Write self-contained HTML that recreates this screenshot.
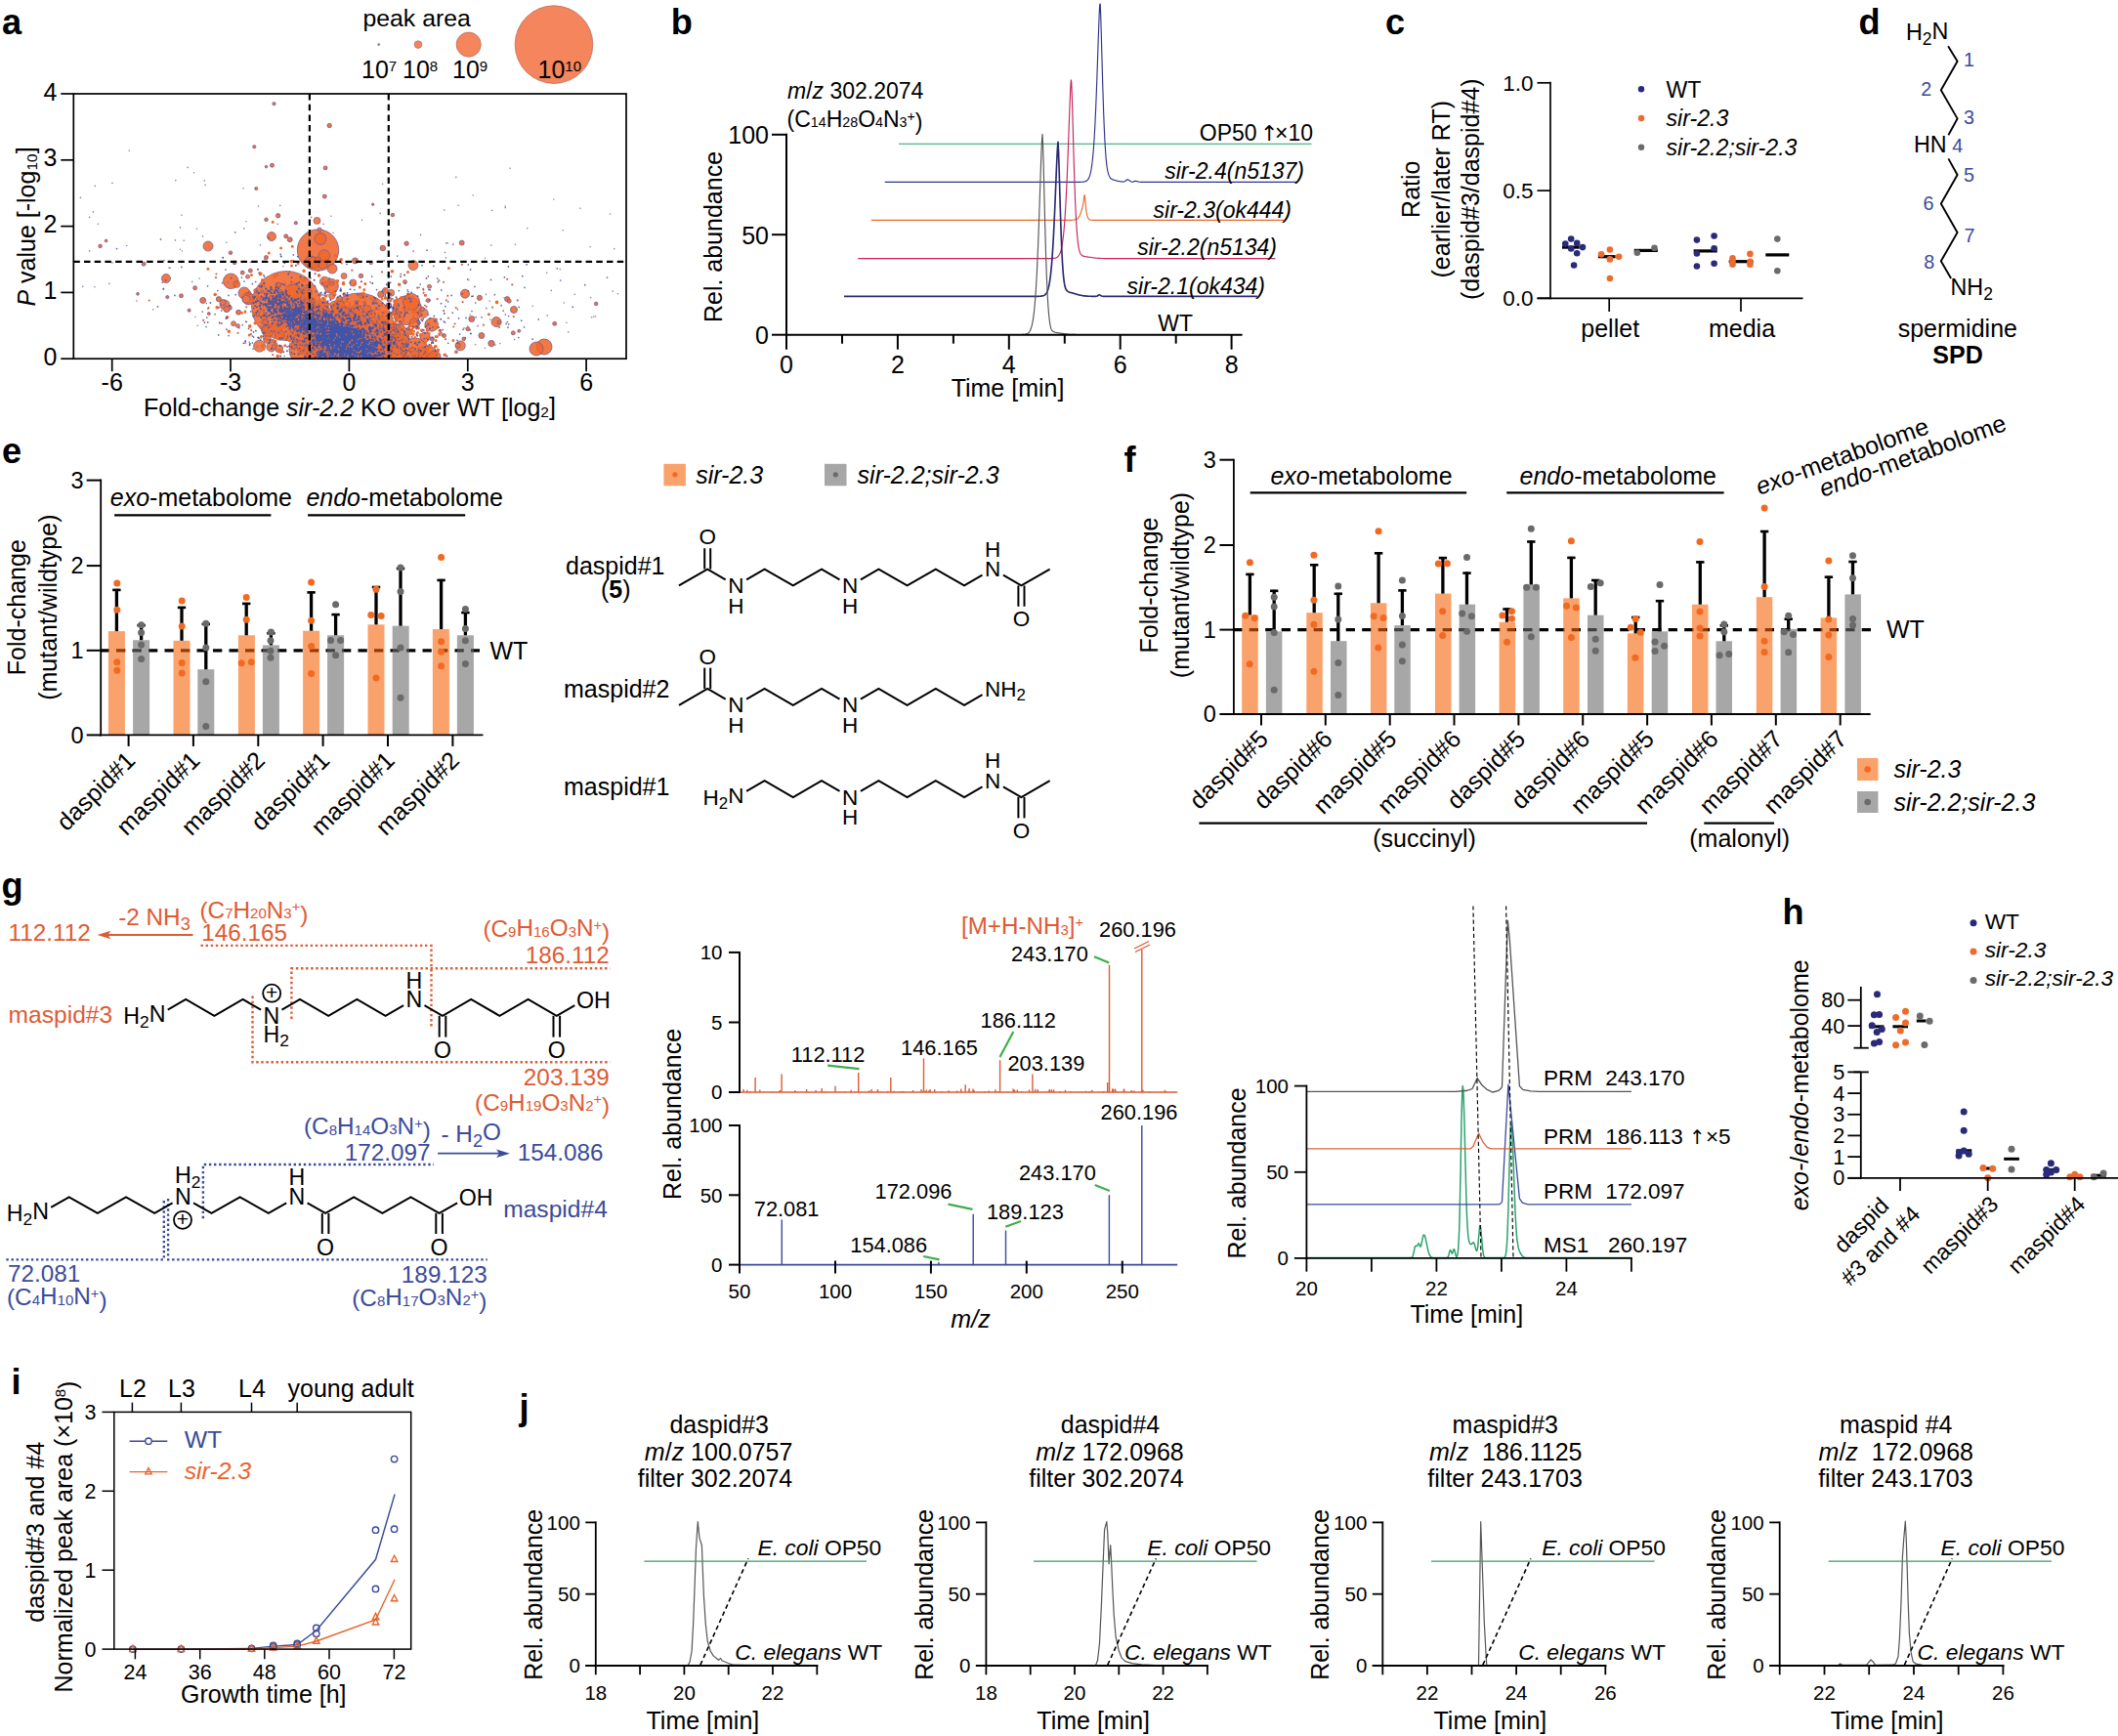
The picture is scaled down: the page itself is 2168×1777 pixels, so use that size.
<!DOCTYPE html>
<html><head><meta charset="utf-8"><title>figure</title>
<style>html,body{margin:0;padding:0;background:#fff}svg{display:block}text{font-family:"Liberation Sans",sans-serif}</style></head>
<body>
<svg width="2168" height="1777" viewBox="0 0 2168 1777">
<text x="2.0" y="34.6" font-size="36.2" font-weight="bold">a</text>
<text x="371.5" y="27.0" font-size="24.8">peak area</text>
<circle cx="387.7" cy="45.6" r="1.3" fill="#8A7D88"/>
<circle cx="428.0" cy="45.6" r="3.8" fill="#F4855C" stroke="#B9705F" stroke-width="0.8"/>
<circle cx="479.7" cy="45.6" r="12.6" fill="#F4855C" stroke="#B9705F" stroke-width="0.8"/>
<circle cx="567.0" cy="45.6" r="39.8" fill="#F4855C" stroke="#B9705F" stroke-width="0.8"/>
<text x="370.0" y="79.5" font-size="25.0">10<tspan font-size="60%" dy="-0.42em">7</tspan><tspan dy="0.42em">&#8203;</tspan></text>
<text x="412.0" y="79.5" font-size="25.0">10<tspan font-size="60%" dy="-0.42em">8</tspan><tspan dy="0.42em">&#8203;</tspan></text>
<text x="463.0" y="79.5" font-size="25.0">10<tspan font-size="60%" dy="-0.42em">9</tspan><tspan dy="0.42em">&#8203;</tspan></text>
<text x="550.5" y="79.5" font-size="25.0">10<tspan font-size="60%" dy="-0.42em">10</tspan><tspan dy="0.42em">&#8203;</tspan></text>
<clipPath id="ca"><rect x="75.3" y="96" width="565.7" height="271.2"/></clipPath>
<g clip-path="url(#ca)">
<circle cx="293.0" cy="313.0" r="35.5" fill="#F0672B" stroke="#7A5A8A" stroke-width="0.8" fill-opacity="0.88"/>
<circle cx="367.3" cy="336.0" r="36" fill="#F0672B" stroke="#7A5A8A" stroke-width="0.8" fill-opacity="0.88"/>
<circle cx="325.5" cy="256.0" r="21.2" fill="#F0672B" stroke="#7A5A8A" stroke-width="0.8" fill-opacity="0.88"/>
<circle cx="416.9" cy="317.6" r="15" fill="#F0672B" stroke="#7A5A8A" stroke-width="0.8" fill-opacity="0.88"/>
<circle cx="335.0" cy="350.0" r="26" fill="#F0672B" stroke="#7A5A8A" stroke-width="0.8" fill-opacity="0.88"/>
<circle cx="312.0" cy="358.0" r="16" fill="#F0672B" stroke="#7A5A8A" stroke-width="0.8" fill-opacity="0.88"/>
<circle cx="395.0" cy="358.0" r="20" fill="#F0672B" stroke="#7A5A8A" stroke-width="0.8" fill-opacity="0.88"/>
<circle cx="425.0" cy="360.0" r="14" fill="#F0672B" stroke="#7A5A8A" stroke-width="0.8" fill-opacity="0.88"/>
<circle cx="438.0" cy="364.0" r="10" fill="#F0672B" stroke="#7A5A8A" stroke-width="0.8" fill-opacity="0.88"/>
<circle cx="405.0" cy="345.0" r="14" fill="#F0672B" stroke="#7A5A8A" stroke-width="0.8" fill-opacity="0.88"/>
<circle cx="322.0" cy="335.0" r="20" fill="#F0672B" stroke="#7A5A8A" stroke-width="0.8" fill-opacity="0.88"/>
<circle cx="557.0" cy="355.0" r="8" fill="#F0672B" stroke="#7A5A8A" stroke-width="0.8" fill-opacity="0.88"/>
<circle cx="549.0" cy="357.0" r="7" fill="#F0672B" stroke="#7A5A8A" stroke-width="0.8" fill-opacity="0.88"/>
<circle cx="213.0" cy="252.0" r="5" fill="#F0672B" stroke="#7A5A8A" stroke-width="0.8" fill-opacity="0.88"/>
<circle cx="170.0" cy="285.0" r="4.5" fill="#F0672B" stroke="#7A5A8A" stroke-width="0.8" fill-opacity="0.88"/>
<circle cx="236.3" cy="287.8" r="7.8" fill="#F0672B" stroke="#7A5A8A" stroke-width="0.8" fill-opacity="0.88"/>
<circle cx="339.0" cy="292.8" r="7.4" fill="#F0672B" stroke="#7A5A8A" stroke-width="0.8" fill-opacity="0.88"/>
<circle cx="421.0" cy="309.0" r="8.5" fill="#F0672B" stroke="#7A5A8A" stroke-width="0.8" fill-opacity="0.88"/>
<circle cx="441.7" cy="332.4" r="6.8" fill="#F0672B" stroke="#7A5A8A" stroke-width="0.8" fill-opacity="0.88"/>
<circle cx="476.0" cy="300.7" r="4.5" fill="#F0672B" stroke="#7A5A8A" stroke-width="0.8" fill-opacity="0.88"/>
<circle cx="508.0" cy="329.5" r="5" fill="#F0672B" stroke="#7A5A8A" stroke-width="0.8" fill-opacity="0.88"/>
<circle cx="526.0" cy="317.0" r="3.5" fill="#F0672B" stroke="#7A5A8A" stroke-width="0.8" fill-opacity="0.88"/>
<circle cx="278.0" cy="242.0" r="4.5" fill="#F0672B" stroke="#7A5A8A" stroke-width="0.8" fill-opacity="0.88"/>
<circle cx="328.0" cy="244.5" r="6" fill="#F0672B" stroke="#7A5A8A" stroke-width="0.8" fill-opacity="0.88"/>
<circle cx="300.0" cy="300.0" r="9" fill="#F0672B" stroke="#7A5A8A" stroke-width="0.8" fill-opacity="0.88"/>
<circle cx="250.0" cy="300.0" r="6" fill="#F0672B" stroke="#7A5A8A" stroke-width="0.8" fill-opacity="0.88"/>
<circle cx="230.0" cy="312.0" r="5" fill="#F0672B" stroke="#7A5A8A" stroke-width="0.8" fill-opacity="0.88"/>
<circle cx="435.0" cy="345.0" r="5" fill="#F0672B" stroke="#7A5A8A" stroke-width="0.8" fill-opacity="0.88"/>
<circle cx="445.0" cy="365.0" r="6" fill="#F0672B" stroke="#7A5A8A" stroke-width="0.8" fill-opacity="0.88"/>
<circle cx="340.0" cy="275.0" r="5" fill="#F0672B" stroke="#7A5A8A" stroke-width="0.8" fill-opacity="0.88"/>
<circle cx="318.0" cy="268.0" r="6" fill="#F0672B" stroke="#7A5A8A" stroke-width="0.8" fill-opacity="0.88"/>
<circle cx="330.0" cy="270.0" r="5" fill="#F0672B" stroke="#7A5A8A" stroke-width="0.8" fill-opacity="0.88"/>
<circle cx="329.8" cy="340.6" r="2" fill="#F0672B" stroke="#7A5A8A" stroke-width="0.7" fill-opacity="0.85"/>
<circle cx="349.8" cy="350.4" r="6" fill="#F0672B" stroke="#7A5A8A" stroke-width="0.7" fill-opacity="0.85"/>
<circle cx="345.4" cy="349.7" r="2.5" fill="#F0672B" stroke="#7A5A8A" stroke-width="0.7" fill-opacity="0.85"/>
<circle cx="380.6" cy="346.0" r="2" fill="#F0672B" stroke="#7A5A8A" stroke-width="0.7" fill-opacity="0.85"/>
<circle cx="400.6" cy="350.1" r="1.5" fill="#F0672B" stroke="#7A5A8A" stroke-width="0.7" fill-opacity="0.85"/>
<circle cx="301.6" cy="326.9" r="1.5" fill="#F0672B" stroke="#7A5A8A" stroke-width="0.7" fill-opacity="0.85"/>
<circle cx="318.9" cy="353.5" r="6" fill="#F0672B" stroke="#7A5A8A" stroke-width="0.7" fill-opacity="0.85"/>
<circle cx="369.4" cy="345.6" r="2" fill="#F0672B" stroke="#7A5A8A" stroke-width="0.7" fill-opacity="0.85"/>
<circle cx="387.4" cy="337.9" r="2" fill="#F0672B" stroke="#7A5A8A" stroke-width="0.7" fill-opacity="0.85"/>
<circle cx="325.9" cy="362.4" r="2.5" fill="#F0672B" stroke="#7A5A8A" stroke-width="0.7" fill-opacity="0.85"/>
<circle cx="286.4" cy="343.0" r="5" fill="#F0672B" stroke="#7A5A8A" stroke-width="0.7" fill-opacity="0.85"/>
<circle cx="299.2" cy="338.9" r="2" fill="#F0672B" stroke="#7A5A8A" stroke-width="0.7" fill-opacity="0.85"/>
<circle cx="330.7" cy="334.3" r="6" fill="#F0672B" stroke="#7A5A8A" stroke-width="0.7" fill-opacity="0.85"/>
<circle cx="300.4" cy="355.4" r="2" fill="#F0672B" stroke="#7A5A8A" stroke-width="0.7" fill-opacity="0.85"/>
<circle cx="375.4" cy="341.0" r="2" fill="#F0672B" stroke="#7A5A8A" stroke-width="0.7" fill-opacity="0.85"/>
<circle cx="383.8" cy="351.3" r="2" fill="#F0672B" stroke="#7A5A8A" stroke-width="0.7" fill-opacity="0.85"/>
<circle cx="346.5" cy="314.8" r="3.5" fill="#F0672B" stroke="#7A5A8A" stroke-width="0.7" fill-opacity="0.85"/>
<circle cx="319.1" cy="330.0" r="5" fill="#F0672B" stroke="#7A5A8A" stroke-width="0.7" fill-opacity="0.85"/>
<circle cx="359.1" cy="360.3" r="2" fill="#F0672B" stroke="#7A5A8A" stroke-width="0.7" fill-opacity="0.85"/>
<circle cx="405.4" cy="345.6" r="5" fill="#F0672B" stroke="#7A5A8A" stroke-width="0.7" fill-opacity="0.85"/>
<circle cx="331.7" cy="324.1" r="1.5" fill="#F0672B" stroke="#7A5A8A" stroke-width="0.7" fill-opacity="0.85"/>
<circle cx="380.1" cy="354.5" r="5" fill="#F0672B" stroke="#7A5A8A" stroke-width="0.7" fill-opacity="0.85"/>
<circle cx="412.1" cy="344.1" r="2.5" fill="#F0672B" stroke="#7A5A8A" stroke-width="0.7" fill-opacity="0.85"/>
<circle cx="261.7" cy="297.5" r="2" fill="#F0672B" stroke="#7A5A8A" stroke-width="0.7" fill-opacity="0.85"/>
<circle cx="287.9" cy="326.7" r="4" fill="#F0672B" stroke="#7A5A8A" stroke-width="0.7" fill-opacity="0.85"/>
<circle cx="364.8" cy="344.5" r="3.5" fill="#F0672B" stroke="#7A5A8A" stroke-width="0.7" fill-opacity="0.85"/>
<circle cx="323.4" cy="330.6" r="2" fill="#F0672B" stroke="#7A5A8A" stroke-width="0.7" fill-opacity="0.85"/>
<circle cx="355.7" cy="342.8" r="5" fill="#F0672B" stroke="#7A5A8A" stroke-width="0.7" fill-opacity="0.85"/>
<circle cx="355.0" cy="346.3" r="2" fill="#F0672B" stroke="#7A5A8A" stroke-width="0.7" fill-opacity="0.85"/>
<circle cx="303.9" cy="337.1" r="2" fill="#F0672B" stroke="#7A5A8A" stroke-width="0.7" fill-opacity="0.85"/>
<circle cx="321.7" cy="316.2" r="1.5" fill="#F0672B" stroke="#7A5A8A" stroke-width="0.7" fill-opacity="0.85"/>
<circle cx="254.5" cy="305.8" r="6" fill="#F0672B" stroke="#7A5A8A" stroke-width="0.7" fill-opacity="0.85"/>
<circle cx="306.2" cy="341.4" r="4" fill="#F0672B" stroke="#7A5A8A" stroke-width="0.7" fill-opacity="0.85"/>
<circle cx="356.6" cy="361.8" r="2" fill="#F0672B" stroke="#7A5A8A" stroke-width="0.7" fill-opacity="0.85"/>
<circle cx="387.7" cy="335.0" r="2" fill="#F0672B" stroke="#7A5A8A" stroke-width="0.7" fill-opacity="0.85"/>
<circle cx="235.5" cy="315.1" r="2" fill="#F0672B" stroke="#7A5A8A" stroke-width="0.7" fill-opacity="0.85"/>
<circle cx="384.5" cy="330.7" r="3" fill="#F0672B" stroke="#7A5A8A" stroke-width="0.7" fill-opacity="0.85"/>
<circle cx="399.3" cy="353.2" r="2" fill="#F0672B" stroke="#7A5A8A" stroke-width="0.7" fill-opacity="0.85"/>
<circle cx="423.0" cy="271.6" r="5" fill="#F0672B" stroke="#7A5A8A" stroke-width="0.7" fill-opacity="0.85"/>
<circle cx="331.8" cy="339.9" r="3" fill="#F0672B" stroke="#7A5A8A" stroke-width="0.7" fill-opacity="0.85"/>
<circle cx="273.5" cy="341.4" r="2.5" fill="#F0672B" stroke="#7A5A8A" stroke-width="0.7" fill-opacity="0.85"/>
<circle cx="393.2" cy="353.3" r="6" fill="#F0672B" stroke="#7A5A8A" stroke-width="0.7" fill-opacity="0.85"/>
<circle cx="405.5" cy="334.9" r="2" fill="#F0672B" stroke="#7A5A8A" stroke-width="0.7" fill-opacity="0.85"/>
<circle cx="329.7" cy="335.6" r="2" fill="#F0672B" stroke="#7A5A8A" stroke-width="0.7" fill-opacity="0.85"/>
<circle cx="321.7" cy="338.3" r="6" fill="#F0672B" stroke="#7A5A8A" stroke-width="0.7" fill-opacity="0.85"/>
<circle cx="326.0" cy="333.3" r="2.5" fill="#F0672B" stroke="#7A5A8A" stroke-width="0.7" fill-opacity="0.85"/>
<circle cx="369.6" cy="302.6" r="2.5" fill="#F0672B" stroke="#7A5A8A" stroke-width="0.7" fill-opacity="0.85"/>
<circle cx="357.3" cy="325.8" r="1.5" fill="#F0672B" stroke="#7A5A8A" stroke-width="0.7" fill-opacity="0.85"/>
<circle cx="353.8" cy="326.1" r="3.5" fill="#F0672B" stroke="#7A5A8A" stroke-width="0.7" fill-opacity="0.85"/>
<circle cx="242.3" cy="291.0" r="3.5" fill="#F0672B" stroke="#7A5A8A" stroke-width="0.7" fill-opacity="0.85"/>
<circle cx="359.3" cy="358.8" r="3.5" fill="#F0672B" stroke="#7A5A8A" stroke-width="0.7" fill-opacity="0.85"/>
<circle cx="358.8" cy="317.2" r="1.5" fill="#F0672B" stroke="#7A5A8A" stroke-width="0.7" fill-opacity="0.85"/>
<circle cx="277.0" cy="333.3" r="2" fill="#F0672B" stroke="#7A5A8A" stroke-width="0.7" fill-opacity="0.85"/>
<circle cx="352.6" cy="350.2" r="2.5" fill="#F0672B" stroke="#7A5A8A" stroke-width="0.7" fill-opacity="0.85"/>
<circle cx="313.6" cy="349.5" r="3.5" fill="#F0672B" stroke="#7A5A8A" stroke-width="0.7" fill-opacity="0.85"/>
<circle cx="433.2" cy="320.5" r="5" fill="#F0672B" stroke="#7A5A8A" stroke-width="0.7" fill-opacity="0.85"/>
<circle cx="253.5" cy="283.2" r="2" fill="#F0672B" stroke="#7A5A8A" stroke-width="0.7" fill-opacity="0.85"/>
<circle cx="351.7" cy="365.4" r="5" fill="#F0672B" stroke="#7A5A8A" stroke-width="0.7" fill-opacity="0.85"/>
<circle cx="349.9" cy="345.0" r="5" fill="#F0672B" stroke="#7A5A8A" stroke-width="0.7" fill-opacity="0.85"/>
<circle cx="318.5" cy="329.3" r="2" fill="#F0672B" stroke="#7A5A8A" stroke-width="0.7" fill-opacity="0.85"/>
<circle cx="420.3" cy="358.2" r="2" fill="#F0672B" stroke="#7A5A8A" stroke-width="0.7" fill-opacity="0.85"/>
<circle cx="239.0" cy="331.2" r="2.5" fill="#F0672B" stroke="#7A5A8A" stroke-width="0.7" fill-opacity="0.85"/>
<circle cx="355.3" cy="344.2" r="3" fill="#F0672B" stroke="#7A5A8A" stroke-width="0.7" fill-opacity="0.85"/>
<circle cx="265.6" cy="354.2" r="6" fill="#F0672B" stroke="#7A5A8A" stroke-width="0.7" fill-opacity="0.85"/>
<circle cx="320.6" cy="343.5" r="3.5" fill="#F0672B" stroke="#7A5A8A" stroke-width="0.7" fill-opacity="0.85"/>
<circle cx="393.7" cy="334.3" r="6" fill="#F0672B" stroke="#7A5A8A" stroke-width="0.7" fill-opacity="0.85"/>
<circle cx="253.9" cy="305.6" r="6" fill="#F0672B" stroke="#7A5A8A" stroke-width="0.7" fill-opacity="0.85"/>
<circle cx="372.0" cy="330.8" r="2" fill="#F0672B" stroke="#7A5A8A" stroke-width="0.7" fill-opacity="0.85"/>
<circle cx="281.5" cy="321.8" r="2" fill="#F0672B" stroke="#7A5A8A" stroke-width="0.7" fill-opacity="0.85"/>
<circle cx="270.7" cy="337.0" r="3.5" fill="#F0672B" stroke="#7A5A8A" stroke-width="0.7" fill-opacity="0.85"/>
<circle cx="318.6" cy="317.6" r="2" fill="#F0672B" stroke="#7A5A8A" stroke-width="0.7" fill-opacity="0.85"/>
<circle cx="352.5" cy="358.3" r="1.5" fill="#F0672B" stroke="#7A5A8A" stroke-width="0.7" fill-opacity="0.85"/>
<circle cx="348.6" cy="321.2" r="2" fill="#F0672B" stroke="#7A5A8A" stroke-width="0.7" fill-opacity="0.85"/>
<circle cx="283.8" cy="333.7" r="6" fill="#F0672B" stroke="#7A5A8A" stroke-width="0.7" fill-opacity="0.85"/>
<circle cx="352.4" cy="337.6" r="5" fill="#F0672B" stroke="#7A5A8A" stroke-width="0.7" fill-opacity="0.85"/>
<circle cx="307.7" cy="354.9" r="3" fill="#F0672B" stroke="#7A5A8A" stroke-width="0.7" fill-opacity="0.85"/>
<circle cx="424.4" cy="330.5" r="5" fill="#F0672B" stroke="#7A5A8A" stroke-width="0.7" fill-opacity="0.85"/>
<circle cx="356.0" cy="352.5" r="2" fill="#F0672B" stroke="#7A5A8A" stroke-width="0.7" fill-opacity="0.85"/>
<circle cx="318.9" cy="329.1" r="3" fill="#F0672B" stroke="#7A5A8A" stroke-width="0.7" fill-opacity="0.85"/>
<circle cx="361.3" cy="289.5" r="3.5" fill="#F0672B" stroke="#7A5A8A" stroke-width="0.7" fill-opacity="0.85"/>
<circle cx="398.6" cy="306.8" r="2.5" fill="#F0672B" stroke="#7A5A8A" stroke-width="0.7" fill-opacity="0.85"/>
<circle cx="340.8" cy="344.5" r="2" fill="#F0672B" stroke="#7A5A8A" stroke-width="0.7" fill-opacity="0.85"/>
<circle cx="425.2" cy="362.7" r="4" fill="#F0672B" stroke="#7A5A8A" stroke-width="0.7" fill-opacity="0.85"/>
<circle cx="386.4" cy="365.8" r="3.5" fill="#F0672B" stroke="#7A5A8A" stroke-width="0.7" fill-opacity="0.85"/>
<circle cx="311.5" cy="312.6" r="6" fill="#F0672B" stroke="#7A5A8A" stroke-width="0.7" fill-opacity="0.85"/>
<circle cx="274.2" cy="338.9" r="6" fill="#F0672B" stroke="#7A5A8A" stroke-width="0.7" fill-opacity="0.85"/>
<circle cx="303.3" cy="334.4" r="2.5" fill="#F0672B" stroke="#7A5A8A" stroke-width="0.7" fill-opacity="0.85"/>
<circle cx="361.8" cy="364.1" r="1.5" fill="#F0672B" stroke="#7A5A8A" stroke-width="0.7" fill-opacity="0.85"/>
<circle cx="364.6" cy="354.0" r="4" fill="#F0672B" stroke="#7A5A8A" stroke-width="0.7" fill-opacity="0.85"/>
<circle cx="380.3" cy="321.8" r="4" fill="#F0672B" stroke="#7A5A8A" stroke-width="0.7" fill-opacity="0.85"/>
<circle cx="400.2" cy="299.7" r="3.5" fill="#F0672B" stroke="#7A5A8A" stroke-width="0.7" fill-opacity="0.85"/>
<circle cx="354.2" cy="359.4" r="4" fill="#F0672B" stroke="#7A5A8A" stroke-width="0.7" fill-opacity="0.85"/>
<circle cx="369.1" cy="349.2" r="2" fill="#F0672B" stroke="#7A5A8A" stroke-width="0.7" fill-opacity="0.85"/>
<circle cx="347.2" cy="348.7" r="2" fill="#F0672B" stroke="#7A5A8A" stroke-width="0.7" fill-opacity="0.85"/>
<circle cx="339.2" cy="348.2" r="6" fill="#F0672B" stroke="#7A5A8A" stroke-width="0.7" fill-opacity="0.85"/>
<circle cx="255.2" cy="299.6" r="1.5" fill="#F0672B" stroke="#7A5A8A" stroke-width="0.7" fill-opacity="0.85"/>
<circle cx="308.8" cy="360.3" r="2" fill="#F0672B" stroke="#7A5A8A" stroke-width="0.7" fill-opacity="0.85"/>
<circle cx="339.1" cy="336.5" r="3" fill="#F0672B" stroke="#7A5A8A" stroke-width="0.7" fill-opacity="0.85"/>
<circle cx="311.6" cy="353.7" r="2" fill="#F0672B" stroke="#7A5A8A" stroke-width="0.7" fill-opacity="0.85"/>
<circle cx="330.9" cy="289.4" r="1.5" fill="#F0672B" stroke="#7A5A8A" stroke-width="0.7" fill-opacity="0.85"/>
<circle cx="413.2" cy="361.4" r="2.5" fill="#F0672B" stroke="#7A5A8A" stroke-width="0.7" fill-opacity="0.85"/>
<circle cx="307.9" cy="355.4" r="4" fill="#F0672B" stroke="#7A5A8A" stroke-width="0.7" fill-opacity="0.85"/>
<circle cx="310.2" cy="310.6" r="6" fill="#F0672B" stroke="#7A5A8A" stroke-width="0.7" fill-opacity="0.85"/>
<circle cx="330.2" cy="340.3" r="2.5" fill="#F0672B" stroke="#7A5A8A" stroke-width="0.7" fill-opacity="0.85"/>
<circle cx="375.7" cy="316.4" r="4" fill="#F0672B" stroke="#7A5A8A" stroke-width="0.7" fill-opacity="0.85"/>
<circle cx="467.0" cy="360.2" r="1.5" fill="#F0672B" stroke="#7A5A8A" stroke-width="0.7" fill-opacity="0.85"/>
<circle cx="407.2" cy="340.9" r="2" fill="#F0672B" stroke="#7A5A8A" stroke-width="0.7" fill-opacity="0.85"/>
<circle cx="403.1" cy="348.4" r="6" fill="#F0672B" stroke="#7A5A8A" stroke-width="0.7" fill-opacity="0.85"/>
<circle cx="323.9" cy="337.2" r="3" fill="#F0672B" stroke="#7A5A8A" stroke-width="0.7" fill-opacity="0.85"/>
<circle cx="368.6" cy="360.5" r="1.5" fill="#F0672B" stroke="#7A5A8A" stroke-width="0.7" fill-opacity="0.85"/>
<circle cx="331.8" cy="261.8" r="6" fill="#F0672B" stroke="#7A5A8A" stroke-width="0.7" fill-opacity="0.85"/>
<circle cx="336.0" cy="350.4" r="2.5" fill="#F0672B" stroke="#7A5A8A" stroke-width="0.7" fill-opacity="0.85"/>
<circle cx="339.9" cy="363.1" r="5" fill="#F0672B" stroke="#7A5A8A" stroke-width="0.7" fill-opacity="0.85"/>
<circle cx="329.5" cy="310.7" r="1.5" fill="#F0672B" stroke="#7A5A8A" stroke-width="0.7" fill-opacity="0.85"/>
<circle cx="410.2" cy="330.1" r="1.5" fill="#F0672B" stroke="#7A5A8A" stroke-width="0.7" fill-opacity="0.85"/>
<circle cx="311.7" cy="335.7" r="2" fill="#F0672B" stroke="#7A5A8A" stroke-width="0.7" fill-opacity="0.85"/>
<circle cx="294.3" cy="323.9" r="4" fill="#F0672B" stroke="#7A5A8A" stroke-width="0.7" fill-opacity="0.85"/>
<circle cx="347.6" cy="305.9" r="3" fill="#F0672B" stroke="#7A5A8A" stroke-width="0.7" fill-opacity="0.85"/>
<circle cx="330.9" cy="313.9" r="6" fill="#F0672B" stroke="#7A5A8A" stroke-width="0.7" fill-opacity="0.85"/>
<circle cx="290.8" cy="301.0" r="2" fill="#F0672B" stroke="#7A5A8A" stroke-width="0.7" fill-opacity="0.85"/>
<circle cx="404.0" cy="333.8" r="1.5" fill="#F0672B" stroke="#7A5A8A" stroke-width="0.7" fill-opacity="0.85"/>
<circle cx="368.4" cy="323.4" r="2.5" fill="#F0672B" stroke="#7A5A8A" stroke-width="0.7" fill-opacity="0.85"/>
<circle cx="352.4" cy="360.3" r="2" fill="#F0672B" stroke="#7A5A8A" stroke-width="0.7" fill-opacity="0.85"/>
<circle cx="306.4" cy="337.5" r="1.5" fill="#F0672B" stroke="#7A5A8A" stroke-width="0.7" fill-opacity="0.85"/>
<circle cx="294.0" cy="314.1" r="1.5" fill="#F0672B" stroke="#7A5A8A" stroke-width="0.7" fill-opacity="0.85"/>
<circle cx="324.9" cy="350.7" r="6" fill="#F0672B" stroke="#7A5A8A" stroke-width="0.7" fill-opacity="0.85"/>
<circle cx="386.8" cy="342.3" r="5" fill="#F0672B" stroke="#7A5A8A" stroke-width="0.7" fill-opacity="0.85"/>
<circle cx="341.0" cy="350.7" r="2.5" fill="#F0672B" stroke="#7A5A8A" stroke-width="0.7" fill-opacity="0.85"/>
<circle cx="349.0" cy="311.9" r="4" fill="#F0672B" stroke="#7A5A8A" stroke-width="0.7" fill-opacity="0.85"/>
<circle cx="427.8" cy="329.2" r="1.5" fill="#F0672B" stroke="#7A5A8A" stroke-width="0.7" fill-opacity="0.85"/>
<circle cx="293.9" cy="329.3" r="2" fill="#F0672B" stroke="#7A5A8A" stroke-width="0.7" fill-opacity="0.85"/>
<circle cx="309.5" cy="306.1" r="2" fill="#F0672B" stroke="#7A5A8A" stroke-width="0.7" fill-opacity="0.85"/>
<circle cx="356.9" cy="366.1" r="2" fill="#F0672B" stroke="#7A5A8A" stroke-width="0.7" fill-opacity="0.85"/>
<circle cx="317.5" cy="310.0" r="6" fill="#F0672B" stroke="#7A5A8A" stroke-width="0.7" fill-opacity="0.85"/>
<circle cx="330.2" cy="317.7" r="6" fill="#F0672B" stroke="#7A5A8A" stroke-width="0.7" fill-opacity="0.85"/>
<circle cx="379.8" cy="269.3" r="1.5" fill="#F0672B" stroke="#7A5A8A" stroke-width="0.7" fill-opacity="0.85"/>
<circle cx="336.9" cy="348.4" r="5" fill="#F0672B" stroke="#7A5A8A" stroke-width="0.7" fill-opacity="0.85"/>
<circle cx="385.2" cy="365.8" r="2.5" fill="#F0672B" stroke="#7A5A8A" stroke-width="0.7" fill-opacity="0.85"/>
<circle cx="358.5" cy="359.9" r="3" fill="#F0672B" stroke="#7A5A8A" stroke-width="0.7" fill-opacity="0.85"/>
<circle cx="363.9" cy="361.4" r="6" fill="#F0672B" stroke="#7A5A8A" stroke-width="0.7" fill-opacity="0.85"/>
<circle cx="337.2" cy="346.2" r="5" fill="#F0672B" stroke="#7A5A8A" stroke-width="0.7" fill-opacity="0.85"/>
<circle cx="382.3" cy="341.4" r="1.5" fill="#F0672B" stroke="#7A5A8A" stroke-width="0.7" fill-opacity="0.85"/>
<circle cx="405.2" cy="349.8" r="2" fill="#F0672B" stroke="#7A5A8A" stroke-width="0.7" fill-opacity="0.85"/>
<circle cx="303.9" cy="346.3" r="3.5" fill="#F0672B" stroke="#7A5A8A" stroke-width="0.7" fill-opacity="0.85"/>
<circle cx="415.4" cy="366.5" r="2" fill="#F0672B" stroke="#7A5A8A" stroke-width="0.7" fill-opacity="0.85"/>
<circle cx="368.5" cy="358.1" r="3" fill="#F0672B" stroke="#7A5A8A" stroke-width="0.7" fill-opacity="0.85"/>
<circle cx="340.9" cy="350.8" r="2" fill="#F0672B" stroke="#7A5A8A" stroke-width="0.7" fill-opacity="0.85"/>
<circle cx="311.1" cy="331.6" r="1.5" fill="#F0672B" stroke="#7A5A8A" stroke-width="0.7" fill-opacity="0.85"/>
<circle cx="338.4" cy="350.0" r="2" fill="#F0672B" stroke="#7A5A8A" stroke-width="0.7" fill-opacity="0.85"/>
<circle cx="341.4" cy="334.5" r="2.5" fill="#F0672B" stroke="#7A5A8A" stroke-width="0.7" fill-opacity="0.85"/>
<circle cx="352.5" cy="301.6" r="1.5" fill="#F0672B" stroke="#7A5A8A" stroke-width="0.7" fill-opacity="0.85"/>
<circle cx="365.1" cy="318.5" r="6" fill="#F0672B" stroke="#7A5A8A" stroke-width="0.7" fill-opacity="0.85"/>
<circle cx="273.6" cy="347.4" r="4" fill="#F0672B" stroke="#7A5A8A" stroke-width="0.7" fill-opacity="0.85"/>
<circle cx="270.4" cy="324.8" r="3" fill="#F0672B" stroke="#7A5A8A" stroke-width="0.7" fill-opacity="0.85"/>
<circle cx="243.5" cy="333.5" r="2" fill="#F0672B" stroke="#7A5A8A" stroke-width="0.7" fill-opacity="0.85"/>
<circle cx="301.0" cy="354.2" r="3" fill="#F0672B" stroke="#7A5A8A" stroke-width="0.7" fill-opacity="0.85"/>
<circle cx="313.9" cy="343.1" r="4" fill="#F0672B" stroke="#7A5A8A" stroke-width="0.7" fill-opacity="0.85"/>
<circle cx="387.9" cy="330.6" r="6" fill="#F0672B" stroke="#7A5A8A" stroke-width="0.7" fill-opacity="0.85"/>
<circle cx="384.5" cy="342.8" r="3.5" fill="#F0672B" stroke="#7A5A8A" stroke-width="0.7" fill-opacity="0.85"/>
<circle cx="389.9" cy="366.3" r="2.5" fill="#F0672B" stroke="#7A5A8A" stroke-width="0.7" fill-opacity="0.85"/>
<circle cx="342.2" cy="340.6" r="3.5" fill="#F0672B" stroke="#7A5A8A" stroke-width="0.7" fill-opacity="0.85"/>
<circle cx="343.6" cy="335.1" r="1.5" fill="#F0672B" stroke="#7A5A8A" stroke-width="0.7" fill-opacity="0.85"/>
<circle cx="341.1" cy="325.9" r="6" fill="#F0672B" stroke="#7A5A8A" stroke-width="0.7" fill-opacity="0.85"/>
<circle cx="350.0" cy="336.2" r="5" fill="#F0672B" stroke="#7A5A8A" stroke-width="0.7" fill-opacity="0.85"/>
<circle cx="321.2" cy="269.0" r="6" fill="#F0672B" stroke="#7A5A8A" stroke-width="0.7" fill-opacity="0.85"/>
<circle cx="263.9" cy="321.9" r="2" fill="#F0672B" stroke="#7A5A8A" stroke-width="0.7" fill-opacity="0.85"/>
<circle cx="336.8" cy="335.8" r="5" fill="#F0672B" stroke="#7A5A8A" stroke-width="0.7" fill-opacity="0.85"/>
<circle cx="306.2" cy="336.3" r="1.5" fill="#F0672B" stroke="#7A5A8A" stroke-width="0.7" fill-opacity="0.85"/>
<circle cx="373.9" cy="339.1" r="5" fill="#F0672B" stroke="#7A5A8A" stroke-width="0.7" fill-opacity="0.85"/>
<circle cx="391.8" cy="358.6" r="6" fill="#F0672B" stroke="#7A5A8A" stroke-width="0.7" fill-opacity="0.85"/>
<circle cx="414.5" cy="288.5" r="2" fill="#F0672B" stroke="#7A5A8A" stroke-width="0.7" fill-opacity="0.85"/>
<circle cx="345.4" cy="341.2" r="2" fill="#F0672B" stroke="#7A5A8A" stroke-width="0.7" fill-opacity="0.85"/>
<circle cx="407.6" cy="345.8" r="5" fill="#F0672B" stroke="#7A5A8A" stroke-width="0.7" fill-opacity="0.85"/>
<circle cx="407.6" cy="334.3" r="2" fill="#F0672B" stroke="#7A5A8A" stroke-width="0.7" fill-opacity="0.85"/>
<circle cx="352.1" cy="282.5" r="3" fill="#F0672B" stroke="#7A5A8A" stroke-width="0.7" fill-opacity="0.85"/>
<circle cx="401.9" cy="355.0" r="4" fill="#F0672B" stroke="#7A5A8A" stroke-width="0.7" fill-opacity="0.85"/>
<circle cx="334.3" cy="349.3" r="6" fill="#F0672B" stroke="#7A5A8A" stroke-width="0.7" fill-opacity="0.85"/>
<circle cx="368.4" cy="358.7" r="1.5" fill="#F0672B" stroke="#7A5A8A" stroke-width="0.7" fill-opacity="0.85"/>
<circle cx="378.8" cy="365.1" r="3.5" fill="#F0672B" stroke="#7A5A8A" stroke-width="0.7" fill-opacity="0.85"/>
<circle cx="284.4" cy="291.7" r="2.5" fill="#F0672B" stroke="#7A5A8A" stroke-width="0.7" fill-opacity="0.85"/>
<circle cx="330.8" cy="360.0" r="3" fill="#F0672B" stroke="#7A5A8A" stroke-width="0.7" fill-opacity="0.85"/>
<circle cx="368.7" cy="358.9" r="4" fill="#F0672B" stroke="#7A5A8A" stroke-width="0.7" fill-opacity="0.85"/>
<circle cx="369.2" cy="354.1" r="3.5" fill="#F0672B" stroke="#7A5A8A" stroke-width="0.7" fill-opacity="0.85"/>
<circle cx="342.9" cy="355.4" r="4" fill="#F0672B" stroke="#7A5A8A" stroke-width="0.7" fill-opacity="0.85"/>
<circle cx="312.2" cy="338.6" r="3" fill="#F0672B" stroke="#7A5A8A" stroke-width="0.7" fill-opacity="0.85"/>
<circle cx="337.6" cy="321.4" r="2.5" fill="#F0672B" stroke="#7A5A8A" stroke-width="0.7" fill-opacity="0.85"/>
<circle cx="310.1" cy="298.7" r="2.5" fill="#F0672B" stroke="#7A5A8A" stroke-width="0.7" fill-opacity="0.85"/>
<circle cx="332.4" cy="288.2" r="5" fill="#F0672B" stroke="#7A5A8A" stroke-width="0.7" fill-opacity="0.85"/>
<circle cx="268.2" cy="298.4" r="1.5" fill="#F0672B" stroke="#7A5A8A" stroke-width="0.7" fill-opacity="0.85"/>
<circle cx="365.0" cy="360.6" r="2.5" fill="#F0672B" stroke="#7A5A8A" stroke-width="0.7" fill-opacity="0.85"/>
<circle cx="400.5" cy="359.8" r="1.5" fill="#F0672B" stroke="#7A5A8A" stroke-width="0.7" fill-opacity="0.85"/>
<circle cx="360.8" cy="329.9" r="3.5" fill="#F0672B" stroke="#7A5A8A" stroke-width="0.7" fill-opacity="0.85"/>
<circle cx="324.5" cy="225.9" r="3.5" fill="#F0672B" stroke="#7A5A8A" stroke-width="0.7" fill-opacity="0.85"/>
<circle cx="364.8" cy="316.7" r="5" fill="#F0672B" stroke="#7A5A8A" stroke-width="0.7" fill-opacity="0.85"/>
<circle cx="405.7" cy="356.2" r="3.5" fill="#F0672B" stroke="#7A5A8A" stroke-width="0.7" fill-opacity="0.85"/>
<circle cx="389.1" cy="363.4" r="2" fill="#F0672B" stroke="#7A5A8A" stroke-width="0.7" fill-opacity="0.85"/>
<circle cx="333.5" cy="323.5" r="2" fill="#F0672B" stroke="#7A5A8A" stroke-width="0.7" fill-opacity="0.85"/>
<circle cx="271.6" cy="330.0" r="3" fill="#F0672B" stroke="#7A5A8A" stroke-width="0.7" fill-opacity="0.85"/>
<circle cx="361.9" cy="331.5" r="5" fill="#F0672B" stroke="#7A5A8A" stroke-width="0.7" fill-opacity="0.85"/>
<circle cx="359.8" cy="323.3" r="3.5" fill="#F0672B" stroke="#7A5A8A" stroke-width="0.7" fill-opacity="0.85"/>
<circle cx="278.8" cy="306.3" r="4" fill="#F0672B" stroke="#7A5A8A" stroke-width="0.7" fill-opacity="0.85"/>
<circle cx="342.0" cy="312.3" r="4" fill="#F0672B" stroke="#7A5A8A" stroke-width="0.7" fill-opacity="0.85"/>
<circle cx="356.8" cy="364.1" r="3" fill="#F0672B" stroke="#7A5A8A" stroke-width="0.7" fill-opacity="0.85"/>
<circle cx="346.7" cy="351.8" r="3.5" fill="#F0672B" stroke="#7A5A8A" stroke-width="0.7" fill-opacity="0.85"/>
<circle cx="325.6" cy="266.1" r="3" fill="#F0672B" stroke="#7A5A8A" stroke-width="0.7" fill-opacity="0.85"/>
<circle cx="339.7" cy="303.3" r="3" fill="#F0672B" stroke="#7A5A8A" stroke-width="0.7" fill-opacity="0.85"/>
<circle cx="415.9" cy="365.7" r="2" fill="#F0672B" stroke="#7A5A8A" stroke-width="0.7" fill-opacity="0.85"/>
<circle cx="373.3" cy="363.1" r="5" fill="#F0672B" stroke="#7A5A8A" stroke-width="0.7" fill-opacity="0.85"/>
<circle cx="383.4" cy="356.7" r="4" fill="#F0672B" stroke="#7A5A8A" stroke-width="0.7" fill-opacity="0.85"/>
<circle cx="350.6" cy="347.5" r="1.5" fill="#F0672B" stroke="#7A5A8A" stroke-width="0.7" fill-opacity="0.85"/>
<circle cx="364.9" cy="309.4" r="2" fill="#F0672B" stroke="#7A5A8A" stroke-width="0.7" fill-opacity="0.85"/>
<circle cx="310.2" cy="340.1" r="3.5" fill="#F0672B" stroke="#7A5A8A" stroke-width="0.7" fill-opacity="0.85"/>
<circle cx="353.9" cy="317.4" r="4" fill="#F0672B" stroke="#7A5A8A" stroke-width="0.7" fill-opacity="0.85"/>
<circle cx="341.8" cy="338.7" r="1.5" fill="#F0672B" stroke="#7A5A8A" stroke-width="0.7" fill-opacity="0.85"/>
<circle cx="285.8" cy="357.0" r="4" fill="#F0672B" stroke="#7A5A8A" stroke-width="0.7" fill-opacity="0.85"/>
<circle cx="439.5" cy="293.2" r="2" fill="#F0672B" stroke="#7A5A8A" stroke-width="0.7" fill-opacity="0.85"/>
<circle cx="353.3" cy="327.8" r="5" fill="#F0672B" stroke="#7A5A8A" stroke-width="0.7" fill-opacity="0.85"/>
<circle cx="352.2" cy="348.6" r="2.5" fill="#F0672B" stroke="#7A5A8A" stroke-width="0.7" fill-opacity="0.85"/>
<circle cx="340.1" cy="290.1" r="2" fill="#F0672B" stroke="#7A5A8A" stroke-width="0.7" fill-opacity="0.85"/>
<circle cx="348.1" cy="335.5" r="3" fill="#F0672B" stroke="#7A5A8A" stroke-width="0.7" fill-opacity="0.85"/>
<circle cx="290.4" cy="317.9" r="2.5" fill="#F0672B" stroke="#7A5A8A" stroke-width="0.7" fill-opacity="0.85"/>
<circle cx="354.0" cy="341.7" r="2.5" fill="#F0672B" stroke="#7A5A8A" stroke-width="0.7" fill-opacity="0.85"/>
<circle cx="320.6" cy="318.7" r="6" fill="#F0672B" stroke="#7A5A8A" stroke-width="0.7" fill-opacity="0.85"/>
<circle cx="277.7" cy="355.0" r="5" fill="#F0672B" stroke="#7A5A8A" stroke-width="0.7" fill-opacity="0.85"/>
<circle cx="361.9" cy="366.2" r="2.5" fill="#F0672B" stroke="#7A5A8A" stroke-width="0.7" fill-opacity="0.85"/>
<circle cx="394.4" cy="297.5" r="3" fill="#F0672B" stroke="#7A5A8A" stroke-width="0.7" fill-opacity="0.85"/>
<circle cx="342.8" cy="351.6" r="2.5" fill="#F0672B" stroke="#7A5A8A" stroke-width="0.7" fill-opacity="0.85"/>
<circle cx="380.1" cy="351.9" r="5" fill="#F0672B" stroke="#7A5A8A" stroke-width="0.7" fill-opacity="0.85"/>
<circle cx="279.9" cy="306.8" r="1.5" fill="#F0672B" stroke="#7A5A8A" stroke-width="0.7" fill-opacity="0.85"/>
<circle cx="388.4" cy="336.2" r="2.5" fill="#F0672B" stroke="#7A5A8A" stroke-width="0.7" fill-opacity="0.85"/>
<circle cx="380.7" cy="359.3" r="3" fill="#F0672B" stroke="#7A5A8A" stroke-width="0.7" fill-opacity="0.85"/>
<circle cx="411.4" cy="352.8" r="1.5" fill="#F0672B" stroke="#7A5A8A" stroke-width="0.7" fill-opacity="0.85"/>
<circle cx="360.3" cy="332.5" r="3" fill="#F0672B" stroke="#7A5A8A" stroke-width="0.7" fill-opacity="0.85"/>
<circle cx="351.1" cy="361.5" r="5" fill="#F0672B" stroke="#7A5A8A" stroke-width="0.7" fill-opacity="0.85"/>
<circle cx="360.2" cy="360.5" r="6" fill="#F0672B" stroke="#7A5A8A" stroke-width="0.7" fill-opacity="0.85"/>
<circle cx="372.3" cy="329.2" r="4" fill="#F0672B" stroke="#7A5A8A" stroke-width="0.7" fill-opacity="0.85"/>
<circle cx="325.9" cy="327.4" r="3" fill="#F0672B" stroke="#7A5A8A" stroke-width="0.7" fill-opacity="0.85"/>
<circle cx="328.7" cy="352.2" r="3.5" fill="#F0672B" stroke="#7A5A8A" stroke-width="0.7" fill-opacity="0.85"/>
<circle cx="333.9" cy="356.0" r="3.5" fill="#F0672B" stroke="#7A5A8A" stroke-width="0.7" fill-opacity="0.85"/>
<circle cx="314.0" cy="330.6" r="1.5" fill="#F0672B" stroke="#7A5A8A" stroke-width="0.7" fill-opacity="0.85"/>
<circle cx="317.4" cy="356.6" r="2" fill="#F0672B" stroke="#7A5A8A" stroke-width="0.7" fill-opacity="0.85"/>
<circle cx="264.6" cy="306.4" r="2" fill="#F0672B" stroke="#7A5A8A" stroke-width="0.7" fill-opacity="0.85"/>
<circle cx="351.1" cy="358.0" r="4" fill="#F0672B" stroke="#7A5A8A" stroke-width="0.7" fill-opacity="0.85"/>
<circle cx="393.8" cy="339.6" r="6" fill="#F0672B" stroke="#7A5A8A" stroke-width="0.7" fill-opacity="0.85"/>
<circle cx="360.7" cy="336.8" r="2" fill="#F0672B" stroke="#7A5A8A" stroke-width="0.7" fill-opacity="0.85"/>
<circle cx="360.3" cy="359.1" r="2.5" fill="#F0672B" stroke="#7A5A8A" stroke-width="0.7" fill-opacity="0.85"/>
<circle cx="314.2" cy="299.1" r="5" fill="#F0672B" stroke="#7A5A8A" stroke-width="0.7" fill-opacity="0.85"/>
<circle cx="317.2" cy="309.6" r="2" fill="#F0672B" stroke="#7A5A8A" stroke-width="0.7" fill-opacity="0.85"/>
<circle cx="392.3" cy="337.8" r="2" fill="#F0672B" stroke="#7A5A8A" stroke-width="0.7" fill-opacity="0.85"/>
<circle cx="285.5" cy="291.8" r="2.5" fill="#F0672B" stroke="#7A5A8A" stroke-width="0.7" fill-opacity="0.85"/>
<circle cx="354.7" cy="346.1" r="4" fill="#F0672B" stroke="#7A5A8A" stroke-width="0.7" fill-opacity="0.85"/>
<circle cx="365.3" cy="359.0" r="2" fill="#F0672B" stroke="#7A5A8A" stroke-width="0.7" fill-opacity="0.85"/>
<circle cx="342.5" cy="301.7" r="1.5" fill="#F0672B" stroke="#7A5A8A" stroke-width="0.7" fill-opacity="0.85"/>
<circle cx="405.0" cy="319.4" r="3.5" fill="#F0672B" stroke="#7A5A8A" stroke-width="0.7" fill-opacity="0.85"/>
<circle cx="385.7" cy="333.2" r="3" fill="#F0672B" stroke="#7A5A8A" stroke-width="0.7" fill-opacity="0.85"/>
<circle cx="318.6" cy="337.4" r="4" fill="#F0672B" stroke="#7A5A8A" stroke-width="0.7" fill-opacity="0.85"/>
<circle cx="315.0" cy="325.3" r="1.5" fill="#F0672B" stroke="#7A5A8A" stroke-width="0.7" fill-opacity="0.85"/>
<circle cx="471.3" cy="353.9" r="5" fill="#F0672B" stroke="#7A5A8A" stroke-width="0.7" fill-opacity="0.85"/>
<circle cx="383.2" cy="309.0" r="2" fill="#F0672B" stroke="#7A5A8A" stroke-width="0.7" fill-opacity="0.85"/>
<circle cx="373.9" cy="338.6" r="5" fill="#F0672B" stroke="#7A5A8A" stroke-width="0.7" fill-opacity="0.85"/>
<circle cx="280.5" cy="106.2" r="1.6" fill="#E8744A" stroke="#7A5A8A" stroke-width="0.8"/>
<circle cx="337.2" cy="128.5" r="2.2" fill="#E8744A" stroke="#7A5A8A" stroke-width="0.8"/>
<circle cx="260.3" cy="150.2" r="1.6" fill="#E8744A" stroke="#7A5A8A" stroke-width="0.8"/>
<circle cx="278.5" cy="169.2" r="2" fill="#E8744A" stroke="#7A5A8A" stroke-width="0.8"/>
<circle cx="272.5" cy="170.6" r="1.3" fill="#E8744A" stroke="#7A5A8A" stroke-width="0.8"/>
<circle cx="333.1" cy="171.9" r="2" fill="#E8744A" stroke="#7A5A8A" stroke-width="0.8"/>
<circle cx="262.3" cy="193.0" r="1.6" fill="#E8744A" stroke="#7A5A8A" stroke-width="0.8"/>
<circle cx="332.3" cy="201.1" r="2" fill="#E8744A" stroke="#7A5A8A" stroke-width="0.8"/>
<circle cx="284.6" cy="220.8" r="2.2" fill="#E8744A" stroke="#7A5A8A" stroke-width="0.8"/>
<circle cx="272.5" cy="224.8" r="1.8" fill="#E8744A" stroke="#7A5A8A" stroke-width="0.8"/>
<circle cx="302.8" cy="228.2" r="1.6" fill="#E8744A" stroke="#7A5A8A" stroke-width="0.8"/>
<circle cx="327.1" cy="235.0" r="2" fill="#E8744A" stroke="#7A5A8A" stroke-width="0.8"/>
<circle cx="401.9" cy="220.1" r="1.8" fill="#E8744A" stroke="#7A5A8A" stroke-width="0.8"/>
<circle cx="381.7" cy="209.2" r="1.2" fill="#E8744A" stroke="#7A5A8A" stroke-width="0.8"/>
<circle cx="391.8" cy="254.0" r="2.8" fill="#E8744A" stroke="#7A5A8A" stroke-width="0.8"/>
<circle cx="416.1" cy="249.2" r="2.2" fill="#E8744A" stroke="#7A5A8A" stroke-width="0.8"/>
<circle cx="472.7" cy="248.6" r="2.5" fill="#E8744A" stroke="#7A5A8A" stroke-width="0.8"/>
<circle cx="363.5" cy="266.9" r="3" fill="#E8744A" stroke="#7A5A8A" stroke-width="0.8"/>
<circle cx="369.5" cy="282.4" r="2.2" fill="#E8744A" stroke="#7A5A8A" stroke-width="0.8"/>
<circle cx="147.1" cy="270.2" r="2" fill="#E8744A" stroke="#7A5A8A" stroke-width="0.8"/>
<circle cx="102.6" cy="251.9" r="1.8" fill="#E8744A" stroke="#7A5A8A" stroke-width="0.8"/>
<circle cx="108.6" cy="246.5" r="1.4" fill="#E8744A" stroke="#7A5A8A" stroke-width="0.8"/>
<circle cx="141.0" cy="300.8" r="1.4" fill="#E8744A" stroke="#7A5A8A" stroke-width="0.8"/>
<circle cx="171.3" cy="304.1" r="1.6" fill="#E8744A" stroke="#7A5A8A" stroke-width="0.8"/>
<circle cx="185.5" cy="302.8" r="2" fill="#E8744A" stroke="#7A5A8A" stroke-width="0.8"/>
<circle cx="193.6" cy="317.7" r="1.6" fill="#E8744A" stroke="#7A5A8A" stroke-width="0.8"/>
<circle cx="213.8" cy="321.1" r="1.5" fill="#E8744A" stroke="#7A5A8A" stroke-width="0.8"/>
<circle cx="199.6" cy="294.7" r="2" fill="#E8744A" stroke="#7A5A8A" stroke-width="0.8"/>
<circle cx="207.7" cy="307.5" r="3" fill="#E8744A" stroke="#7A5A8A" stroke-width="0.8"/>
<circle cx="223.9" cy="306.2" r="2.6" fill="#E8744A" stroke="#7A5A8A" stroke-width="0.8"/>
<circle cx="228.0" cy="309.6" r="3" fill="#E8744A" stroke="#7A5A8A" stroke-width="0.8"/>
<circle cx="232.0" cy="316.4" r="3.2" fill="#E8744A" stroke="#7A5A8A" stroke-width="0.8"/>
<circle cx="244.1" cy="319.7" r="2.5" fill="#E8744A" stroke="#7A5A8A" stroke-width="0.8"/>
<circle cx="252.2" cy="306.2" r="4" fill="#E8744A" stroke="#7A5A8A" stroke-width="0.8"/>
<circle cx="610.2" cy="310.9" r="1.8" fill="#E8744A" stroke="#7A5A8A" stroke-width="0.8"/>
<circle cx="567.7" cy="331.3" r="2" fill="#E8744A" stroke="#7A5A8A" stroke-width="0.8"/>
<circle cx="519.2" cy="306.2" r="2.6" fill="#E8744A" stroke="#7A5A8A" stroke-width="0.8"/>
<circle cx="490.9" cy="304.8" r="2.6" fill="#E8744A" stroke="#7A5A8A" stroke-width="0.8"/>
<circle cx="482.8" cy="326.5" r="3" fill="#E8744A" stroke="#7A5A8A" stroke-width="0.8"/>
<circle cx="492.9" cy="343.5" r="3" fill="#E8744A" stroke="#7A5A8A" stroke-width="0.8"/>
<circle cx="503.0" cy="351.6" r="3.2" fill="#E8744A" stroke="#7A5A8A" stroke-width="0.8"/>
<circle cx="468.6" cy="353.6" r="2.6" fill="#E8744A" stroke="#7A5A8A" stroke-width="0.8"/>
<circle cx="525.3" cy="340.8" r="2" fill="#E8744A" stroke="#7A5A8A" stroke-width="0.8"/>
<circle cx="531.3" cy="338.7" r="1.5" fill="#E8744A" stroke="#7A5A8A" stroke-width="0.8"/>
<circle cx="454.5" cy="343.5" r="2" fill="#E8744A" stroke="#7A5A8A" stroke-width="0.8"/>
<circle cx="442.3" cy="346.9" r="2.2" fill="#E8744A" stroke="#7A5A8A" stroke-width="0.8"/>
<circle cx="432.2" cy="316.4" r="2.2" fill="#E8744A" stroke="#7A5A8A" stroke-width="0.8"/>
<circle cx="438.3" cy="307.5" r="2" fill="#E8744A" stroke="#7A5A8A" stroke-width="0.8"/>
<circle cx="280.5" cy="355.0" r="2.4" fill="#E8744A" stroke="#7A5A8A" stroke-width="0.8"/>
<circle cx="280.5" cy="368.6" r="1.6" fill="#E8744A" stroke="#7A5A8A" stroke-width="0.8"/>
<circle cx="236.0" cy="258.7" r="1.8" fill="#E8744A" stroke="#7A5A8A" stroke-width="0.8"/>
<circle cx="248.2" cy="279.1" r="2" fill="#E8744A" stroke="#7A5A8A" stroke-width="0.8"/>
<circle cx="256.3" cy="277.0" r="2" fill="#E8744A" stroke="#7A5A8A" stroke-width="0.8"/>
<circle cx="272.5" cy="263.5" r="2" fill="#E8744A" stroke="#7A5A8A" stroke-width="0.8"/>
<circle cx="292.7" cy="241.8" r="2" fill="#E8744A" stroke="#7A5A8A" stroke-width="0.8"/>
<circle cx="296.7" cy="245.2" r="2.5" fill="#E8744A" stroke="#7A5A8A" stroke-width="0.8"/>
<circle cx="389.8" cy="301.4" r="3.2" fill="#E8744A" stroke="#7A5A8A" stroke-width="0.8"/>
<circle cx="397.8" cy="313.0" r="3" fill="#E8744A" stroke="#7A5A8A" stroke-width="0.8"/>
<circle cx="240.1" cy="268.9" r="1.8" fill="#E8744A" stroke="#7A5A8A" stroke-width="0.8"/>
<circle cx="286.6" cy="299.4" r="3" fill="#E8744A" stroke="#7A5A8A" stroke-width="0.8"/>
<circle cx="478.8" cy="336.7" r="2" fill="#E8744A" stroke="#7A5A8A" stroke-width="0.8"/>
<circle cx="474.7" cy="346.9" r="1.8" fill="#E8744A" stroke="#7A5A8A" stroke-width="0.8"/>
<circle cx="511.1" cy="329.9" r="2" fill="#E8744A" stroke="#7A5A8A" stroke-width="0.8"/>
<circle cx="521.2" cy="308.2" r="2" fill="#E8744A" stroke="#7A5A8A" stroke-width="0.8"/>
<path d="M287.2 364.5h0M414.9 320.2h0M346.1 351.1h0M398.1 341.8h0M364.8 365.5h0M342.1 353.2h0M375.7 351.8h0M367.3 325.6h0M363.8 314.2h0M348.8 339.1h0M388.1 349.5h0M396.7 360.0h0M326.0 346.8h0M362.9 339.7h0M342.6 339.1h0M358.0 345.7h0M429.4 350.3h0M300.0 335.3h0M375.0 354.0h0M392.5 330.7h0M320.4 345.0h0M340.8 354.8h0M269.3 305.2h0M312.9 340.9h0M416.2 319.6h0M341.8 318.3h0M334.2 323.2h0M340.6 355.9h0M339.4 361.0h0M316.3 345.4h0M306.5 352.5h0M376.4 346.9h0M353.2 361.3h0M337.0 336.4h0M387.9 334.0h0M391.2 298.3h0M388.0 312.9h0M298.5 332.1h0M323.8 366.4h0M358.2 364.8h0M399.8 314.4h0M302.1 334.1h0M305.4 330.9h0M322.9 331.9h0M333.9 358.5h0M417.4 365.5h0M309.3 349.0h0M364.1 361.1h0M414.0 281.5h0M335.9 345.1h0M439.9 336.3h0M406.4 354.1h0M312.1 284.4h0M321.7 286.8h0M392.7 349.9h0M416.7 336.4h0M400.2 314.0h0M305.2 331.4h0M406.6 315.7h0M378.0 337.6h0M344.6 366.4h0M379.1 361.5h0M359.6 339.7h0M325.4 359.7h0M394.5 341.5h0M414.6 360.9h0M388.7 335.9h0M361.3 363.6h0M351.4 345.1h0M288.0 324.5h0M351.7 321.1h0M349.9 347.9h0M438.0 347.6h0M409.7 342.4h0M326.9 351.7h0M327.8 342.8h0M346.5 335.2h0M417.8 352.8h0M356.3 328.5h0M332.8 310.7h0M399.7 360.5h0M336.2 358.8h0M331.6 306.9h0M338.8 332.2h0M332.4 320.4h0M338.3 349.4h0M399.9 301.0h0M398.6 358.1h0M391.6 323.2h0M352.3 347.5h0M354.5 332.7h0M330.8 357.4h0M429.9 330.4h0M348.0 334.0h0M324.3 341.9h0M324.3 344.4h0M279.9 311.7h0M295.4 322.2h0M404.1 359.3h0M380.7 344.2h0M328.2 327.6h0M347.9 344.8h0M308.4 319.1h0M341.5 312.5h0M298.9 305.0h0M339.6 325.6h0M358.5 296.3h0M481.9 341.4h0M334.0 349.5h0M370.8 347.8h0M346.3 348.0h0M332.3 302.6h0M432.4 362.8h0M369.9 288.3h0M381.7 364.2h0M380.9 366.5h0M332.2 322.1h0M385.1 332.4h0M393.0 338.8h0M352.9 349.0h0M319.3 343.3h0M374.3 354.2h0M343.5 344.5h0M340.9 358.7h0M287.2 328.5h0M379.2 351.6h0M395.0 313.0h0M349.1 343.9h0M376.4 361.5h0M376.2 341.4h0M341.7 359.6h0M322.7 333.9h0M224.7 330.5h0M251.0 318.6h0M303.7 333.1h0M338.2 359.5h0M400.8 346.9h0M331.4 356.2h0M264.0 275.7h0M457.4 364.6h0M399.3 310.9h0M357.6 349.4h0M335.0 314.0h0M309.0 299.5h0M228.2 263.7h0M305.7 313.8h0M355.8 346.4h0M302.9 271.7h0M273.0 323.9h0M310.5 326.6h0M290.2 360.3h0M368.8 357.3h0M335.9 352.5h0M303.4 290.6h0M317.7 321.7h0M353.4 355.9h0M305.9 319.3h0M367.6 338.5h0M360.4 339.3h0M299.2 308.2h0M426.4 334.2h0M326.0 340.5h0M353.3 354.1h0M339.2 353.5h0M279.8 320.9h0M303.5 328.7h0M339.5 345.2h0M293.2 334.3h0M321.2 317.5h0M335.5 331.5h0M413.1 367.2h0M310.2 335.1h0M415.8 354.0h0M356.1 355.0h0M350.4 350.5h0M330.2 358.3h0M328.3 332.8h0M261.0 331.1h0M331.7 348.3h0M339.6 336.5h0M287.8 262.6h0M333.2 344.7h0M369.8 354.6h0M428.6 312.3h0M392.2 366.6h0M303.2 334.5h0M359.5 361.7h0M277.8 357.0h0M296.1 354.3h0M387.6 333.2h0M361.9 358.9h0M309.6 332.9h0M305.1 305.8h0M428.4 328.3h0M365.4 356.0h0M328.3 309.3h0M357.7 366.0h0M266.4 312.4h0M270.8 322.8h0M291.7 331.6h0M407.8 349.6h0M411.6 365.4h0M356.0 331.5h0M260.4 323.0h0M344.1 360.5h0M433.0 362.5h0M384.0 345.0h0M307.1 333.4h0M385.2 354.5h0M341.2 345.4h0M334.8 325.9h0M306.1 288.9h0M359.5 364.8h0M397.4 338.2h0M321.1 339.3h0M427.1 353.0h0M307.4 283.6h0M324.1 346.2h0M427.6 319.9h0M364.8 336.5h0M316.9 343.7h0M332.0 338.5h0M304.8 308.1h0M395.9 333.7h0M396.1 323.4h0M380.9 364.0h0M297.3 325.1h0M287.5 341.6h0M346.5 345.1h0M355.5 317.3h0M406.0 320.9h0M419.0 305.4h0M279.0 330.9h0M297.6 343.5h0M294.2 308.1h0M385.6 364.5h0M296.5 308.7h0M344.3 362.4h0M298.4 346.7h0M388.8 356.2h0M344.5 311.1h0M320.8 362.2h0M413.7 339.0h0M314.0 335.8h0M369.2 350.4h0M264.2 345.6h0M332.2 360.1h0M383.2 362.8h0M373.2 356.5h0M297.6 345.0h0M380.0 356.8h0M295.5 333.8h0M405.0 327.0h0M390.7 366.3h0M389.1 361.3h0M267.5 318.2h0M388.9 336.3h0M344.3 353.0h0M351.3 351.8h0M322.4 350.0h0M327.9 340.3h0M396.9 307.3h0M399.5 354.1h0M378.0 356.5h0M344.6 315.7h0M379.2 352.4h0M371.5 322.3h0M291.7 335.2h0M320.1 339.0h0M316.0 327.6h0M426.3 336.4h0M414.2 340.6h0M357.8 357.3h0M300.0 308.6h0M442.9 350.2h0M365.9 365.7h0M335.7 347.1h0M323.9 334.5h0M369.1 338.9h0M326.9 354.1h0M349.5 358.2h0M327.2 313.6h0M385.6 347.3h0M378.4 339.1h0M372.0 304.2h0M360.2 354.9h0M393.7 361.7h0M351.5 345.0h0M327.5 344.9h0M372.8 365.1h0M302.0 339.5h0M279.1 308.7h0M340.2 340.6h0M320.6 351.1h0M377.9 338.4h0M375.2 332.8h0M402.1 337.6h0M359.7 353.4h0M330.1 349.1h0M414.4 364.4h0M400.5 313.9h0M329.4 338.4h0M366.7 363.0h0M351.2 349.7h0M349.9 326.5h0M413.7 357.1h0M374.3 346.4h0M365.3 365.1h0M352.0 310.9h0M364.9 310.8h0M377.6 353.1h0M343.8 336.3h0M357.0 352.7h0M399.4 346.3h0M328.8 318.5h0M445.6 359.3h0M343.5 308.2h0M318.8 353.0h0M338.2 355.1h0M342.5 330.9h0M350.8 353.0h0M389.0 343.6h0M358.4 325.3h0M267.0 324.4h0M306.1 317.4h0M340.1 353.3h0M387.5 358.5h0M384.9 328.9h0M235.4 312.8h0M305.1 336.4h0M388.1 333.0h0M392.3 336.7h0M370.5 355.6h0M368.5 326.9h0M311.8 328.3h0M336.7 353.5h0M361.3 365.8h0M280.5 296.8h0M296.0 328.8h0M366.8 358.6h0M350.3 358.7h0M334.5 352.4h0M441.9 350.9h0M398.2 347.9h0M302.0 327.5h0M397.4 348.3h0M343.2 318.4h0M286.6 346.1h0M308.8 333.9h0M377.4 352.0h0M353.8 360.0h0M369.3 334.0h0M272.5 320.4h0M385.2 359.7h0M338.4 306.9h0M357.7 365.1h0M318.4 336.8h0M269.2 344.2h0M353.5 330.6h0M305.8 295.7h0M337.8 351.4h0M323.1 336.6h0M418.5 335.7h0M382.9 366.6h0M304.6 322.4h0M384.1 349.5h0M380.9 347.9h0M398.1 322.4h0M334.4 346.8h0M337.0 341.2h0M318.0 326.5h0M346.4 360.0h0M390.8 365.4h0M274.8 335.5h0M327.2 339.0h0M295.3 280.6h0M351.1 338.5h0M431.6 322.3h0M345.6 304.7h0M313.5 346.6h0M276.0 314.0h0M306.4 352.5h0M328.4 339.1h0M377.2 358.7h0M287.9 331.3h0M364.8 352.0h0M290.2 305.6h0M293.7 318.1h0M383.0 352.4h0M381.9 356.0h0M329.5 342.1h0M395.8 353.8h0M314.1 322.2h0M372.9 309.1h0M400.2 353.6h0M295.0 325.2h0M347.1 363.3h0M336.1 321.4h0M333.8 359.2h0M375.2 363.9h0M270.8 300.8h0M325.7 362.3h0M330.2 349.9h0M339.0 366.0h0M396.0 356.6h0M280.2 317.9h0M327.0 330.5h0M351.8 344.3h0M291.2 291.7h0M374.9 360.0h0M379.0 364.7h0M350.4 358.5h0M351.5 346.5h0M326.9 358.0h0M380.7 343.9h0M348.2 302.8h0M407.5 349.6h0M311.5 342.1h0M347.2 356.4h0M371.4 358.1h0M437.1 364.4h0M324.3 331.7h0M317.6 310.6h0M266.4 309.8h0M313.1 338.0h0M317.7 357.6h0M360.0 347.3h0M367.0 333.5h0M304.5 333.1h0M351.8 339.3h0M299.8 326.2h0M335.2 333.7h0M389.4 334.0h0M406.5 366.7h0M401.7 365.0h0M327.4 353.8h0M341.2 348.3h0M342.9 318.7h0M344.6 351.5h0M333.3 314.3h0M352.5 346.5h0M434.9 341.0h0M350.8 346.0h0M379.1 354.9h0M317.2 332.6h0M291.1 335.3h0M414.4 316.5h0M298.4 306.7h0M357.0 363.1h0M167.3 295.8h0" stroke="#4A55A6" stroke-width="2.0" stroke-linecap="round" fill="none" opacity="1"/>
<path d="M365.3 360.0h0M341.7 326.6h0M330.3 332.0h0M284.5 340.7h0M345.4 327.0h0M400.4 354.0h0M297.8 336.2h0M322.6 316.5h0M404.4 335.9h0M419.7 333.4h0M311.1 277.2h0M385.5 361.4h0M296.1 301.1h0M343.6 261.7h0M358.8 332.9h0M392.9 357.6h0M284.5 332.5h0M313.7 326.7h0M366.7 326.2h0M358.0 334.7h0M425.1 351.5h0M360.9 352.1h0M352.2 342.4h0M368.6 344.3h0M334.2 346.7h0M300.7 342.3h0M414.4 365.6h0M307.7 329.4h0M334.5 327.6h0M334.7 351.5h0M408.9 351.7h0M429.9 360.1h0M366.9 325.2h0M336.7 356.2h0M342.5 351.6h0M373.8 363.3h0M317.5 345.0h0M395.1 358.2h0M279.2 348.6h0M347.0 341.2h0M396.7 358.3h0M331.8 341.7h0M336.2 320.4h0M330.0 326.7h0M349.2 359.0h0M374.2 345.6h0M260.2 320.9h0M403.5 340.0h0M318.5 334.6h0M330.3 349.0h0M420.2 340.9h0M368.2 362.4h0M508.6 309.4h0M377.5 361.0h0M332.4 265.7h0M332.9 352.9h0M388.3 336.3h0M431.4 359.9h0M357.4 340.3h0M287.6 312.9h0M359.5 358.6h0M327.5 308.1h0M455.3 363.3h0M342.8 339.7h0M370.6 326.9h0M297.2 343.1h0M302.0 332.7h0M373.6 343.4h0M416.8 341.8h0M318.8 318.8h0M313.5 338.3h0M404.8 324.0h0M294.3 318.3h0M345.1 322.6h0M301.8 320.9h0M329.2 344.1h0M347.2 341.3h0M370.0 321.9h0M381.4 332.0h0M317.2 322.9h0M298.1 335.1h0M340.9 299.9h0M387.5 332.7h0M382.7 342.0h0M403.9 308.4h0M398.8 358.8h0M328.5 318.9h0M366.6 337.0h0M308.0 327.9h0M361.2 364.8h0M394.6 358.5h0M410.5 320.3h0M377.7 365.8h0M343.9 338.1h0M391.0 324.0h0M381.9 365.6h0M297.7 352.5h0M271.3 346.7h0M326.0 336.8h0M440.4 353.9h0M309.5 331.9h0M394.9 365.0h0M332.7 362.8h0M406.9 313.9h0M310.2 304.4h0M349.1 265.8h0M343.9 336.4h0M398.4 366.1h0M428.6 356.5h0M304.9 321.6h0M410.6 305.0h0M320.2 341.0h0M309.3 350.3h0M340.9 347.5h0M368.2 316.1h0M325.9 323.0h0M334.2 337.3h0M354.0 344.3h0M302.8 319.9h0M375.2 345.2h0M389.2 365.7h0M329.3 348.4h0M428.2 335.9h0M363.3 338.7h0M410.5 337.8h0M355.0 316.3h0M447.4 335.2h0M295.2 316.4h0M396.3 334.8h0M331.3 313.7h0M359.5 334.2h0M401.4 277.7h0M373.9 309.9h0M314.0 332.6h0M400.3 351.0h0M343.2 341.4h0M289.5 302.3h0M384.7 306.9h0M336.1 336.6h0M413.2 359.2h0M420.9 341.6h0M390.4 313.0h0M352.5 326.7h0M362.5 366.1h0M376.4 352.7h0M374.9 354.8h0M358.5 360.7h0M371.8 333.1h0M383.0 366.5h0M386.7 364.8h0M312.2 314.9h0M291.3 334.6h0M388.0 316.7h0M399.3 346.8h0M392.1 365.0h0M356.1 362.3h0M328.4 340.2h0M329.3 312.4h0M378.3 364.9h0M370.9 344.6h0M313.6 310.5h0M417.7 301.2h0M356.7 327.7h0M338.6 359.5h0M318.2 322.6h0M311.8 344.0h0M344.5 341.7h0M411.9 336.8h0M384.3 334.7h0M448.3 358.4h0M387.6 342.4h0M354.9 344.6h0M342.2 298.6h0M394.8 328.2h0M309.8 319.5h0M368.0 352.0h0M383.6 350.7h0M351.7 358.7h0M426.0 362.2h0M331.2 340.4h0M283.4 308.2h0M302.8 319.1h0M415.5 361.4h0M326.3 339.8h0M333.7 303.0h0M423.9 361.3h0M415.9 347.5h0M372.8 349.0h0M435.4 365.8h0M324.6 314.4h0M352.6 356.1h0M390.5 329.9h0M356.2 336.6h0M412.9 315.8h0M357.6 351.8h0M373.4 349.2h0M307.1 316.1h0M314.2 334.1h0M327.7 337.0h0M393.8 344.0h0M344.1 362.6h0M303.4 325.4h0M347.5 353.4h0M368.2 361.8h0M400.3 360.8h0M358.0 332.2h0M220.2 301.5h0M406.2 306.7h0M431.1 356.9h0M352.0 354.2h0M382.8 365.0h0M353.7 357.2h0M381.3 360.5h0M394.4 359.1h0M328.1 325.5h0M348.3 342.6h0M308.9 356.2h0M355.3 307.6h0M397.7 343.0h0M222.2 314.8h0M333.0 269.3h0M339.9 350.8h0M415.2 357.7h0M289.1 334.9h0M326.2 329.9h0M288.8 342.5h0M320.0 329.4h0M383.4 322.3h0M339.8 349.5h0M342.9 319.0h0M417.6 345.0h0M413.5 344.9h0M394.7 319.9h0M302.6 317.2h0M414.7 347.9h0M356.5 350.4h0M338.0 345.6h0M394.5 305.1h0M295.5 305.1h0M294.5 308.9h0M293.5 330.2h0M307.9 321.4h0M329.1 323.2h0M337.7 336.0h0M303.7 327.5h0M344.7 365.9h0M287.1 340.0h0M273.7 348.0h0M347.7 365.4h0M318.7 342.4h0M377.6 356.3h0M301.3 338.7h0M368.2 359.3h0M330.7 305.6h0M340.9 339.8h0M351.5 290.5h0M323.8 349.1h0M362.4 355.1h0M431.5 359.4h0M375.7 359.8h0M389.7 352.3h0M263.7 299.8h0M354.6 353.2h0M409.9 349.6h0M375.7 366.6h0M331.0 347.0h0M380.1 366.0h0M255.7 333.9h0M329.0 335.3h0M418.9 337.6h0M398.9 364.0h0M359.3 336.6h0M361.2 342.7h0M282.3 317.4h0M376.9 344.7h0M323.2 345.7h0M376.4 365.2h0M331.4 360.2h0M330.9 340.8h0M397.7 338.9h0M349.7 337.5h0M314.2 358.1h0M365.6 327.3h0M312.2 326.4h0M384.5 356.2h0M332.5 316.7h0M365.2 366.6h0M354.4 360.0h0M322.9 356.1h0M406.8 360.6h0M345.3 346.8h0M385.0 316.3h0M406.3 322.7h0M342.1 361.0h0M347.3 349.0h0M336.3 311.3h0M324.9 349.6h0M338.2 328.8h0M354.9 355.2h0M362.5 314.0h0M307.5 332.7h0M369.5 360.2h0M281.8 314.7h0M368.8 324.5h0M337.3 340.6h0M371.9 300.2h0M363.1 290.8h0M368.9 347.6h0M339.6 348.0h0M364.7 343.7h0M387.7 360.8h0M364.6 326.9h0M393.5 352.6h0M366.8 308.6h0M359.8 345.2h0M287.6 335.4h0M278.0 324.6h0M395.4 346.0h0M332.2 360.9h0M357.7 351.8h0M367.9 343.9h0M329.9 341.8h0M387.4 322.1h0M281.7 349.3h0M371.8 343.0h0M403.5 358.0h0M334.8 328.9h0M410.1 346.0h0M309.6 332.4h0M410.4 365.9h0M338.4 345.2h0M351.0 349.9h0M312.9 354.7h0M338.0 361.0h0M382.3 359.9h0M441.9 362.5h0M318.6 360.6h0M360.4 361.4h0M340.5 341.6h0M371.5 358.1h0M393.9 366.9h0M391.9 343.7h0M334.0 346.9h0M357.3 333.4h0M356.5 357.0h0M373.4 355.8h0M365.8 345.6h0M352.6 328.7h0M308.9 286.0h0M422.7 357.1h0M323.7 351.1h0M352.9 345.8h0M323.2 324.8h0M436.9 366.1h0M311.8 361.4h0M337.2 351.3h0M387.8 358.8h0M283.3 281.6h0M365.6 335.9h0M316.4 350.9h0M344.7 355.1h0M364.7 325.5h0M303.6 312.5h0M279.0 337.6h0M315.6 332.3h0M365.1 317.0h0M367.4 349.9h0M268.7 317.0h0M430.7 342.9h0M327.3 332.3h0M355.1 340.9h0M378.3 360.6h0M365.6 326.6h0M316.9 349.7h0M266.4 280.6h0M306.1 354.2h0M381.8 338.8h0M311.9 346.7h0M281.1 282.9h0M382.7 348.6h0M350.9 345.1h0M285.1 308.9h0M337.3 351.2h0M302.8 298.5h0M384.7 361.2h0M402.8 331.9h0M418.7 308.6h0M432.4 364.0h0M350.7 328.0h0M343.9 317.3h0M342.4 314.3h0M396.3 331.5h0M305.2 340.4h0M345.7 341.5h0M332.9 312.6h0M354.7 356.9h0M284.2 364.6h0M412.2 325.1h0M323.0 340.3h0M382.8 335.4h0M395.5 356.8h0M380.5 358.4h0M393.3 350.5h0M375.5 333.5h0M327.3 339.1h0M402.1 361.4h0M439.0 332.0h0M234.3 339.3h0M380.1 352.7h0M335.9 360.6h0M371.6 355.4h0M383.1 358.0h0M310.6 295.5h0M421.7 358.4h0M337.5 336.1h0M290.9 326.8h0M296.6 330.4h0M317.4 310.9h0M423.0 325.0h0M305.8 362.4h0M359.2 361.9h0M288.4 325.5h0M334.9 356.3h0M340.6 331.7h0M362.1 355.6h0M401.5 364.6h0M329.6 325.3h0M437.1 359.9h0M396.8 345.2h0M383.2 328.5h0M362.6 351.9h0M348.3 350.9h0M390.1 325.0h0M308.9 338.5h0M393.6 333.5h0M345.4 331.7h0M342.2 342.3h0M363.4 362.4h0M321.5 349.3h0M364.7 322.4h0M313.7 313.6h0M363.7 312.6h0M373.8 350.8h0M445.6 354.8h0M335.0 316.4h0M281.7 297.1h0M357.1 328.7h0M277.6 315.0h0M314.3 317.5h0M357.4 364.3h0M425.3 318.2h0M279.7 335.3h0M232.5 324.8h0M340.3 358.0h0M301.5 351.5h0M450.5 338.5h0M356.0 330.5h0M326.6 282.0h0M342.4 346.1h0M361.8 346.3h0M381.9 360.8h0M381.5 348.8h0M296.4 314.6h0M387.8 358.0h0M331.6 339.9h0M309.2 327.5h0M392.3 340.2h0M333.8 355.8h0M350.3 352.4h0M422.5 362.1h0M346.1 316.9h0M352.1 312.0h0M351.4 358.8h0M343.6 361.2h0M279.1 312.7h0M348.4 329.1h0M311.2 332.7h0M337.1 348.3h0M333.3 339.0h0M332.5 314.8h0M374.7 346.1h0M331.7 361.4h0M311.5 287.2h0M379.9 339.0h0M318.9 336.1h0M375.0 360.1h0M369.7 335.6h0M345.5 344.6h0M327.9 359.4h0M342.1 332.2h0M393.5 296.6h0M354.8 347.5h0M421.3 338.2h0M305.3 333.5h0M353.6 364.8h0M295.8 317.4h0M422.8 319.5h0M263.4 303.5h0M411.0 342.4h0M333.1 309.3h0M300.5 289.8h0M339.4 327.1h0M332.5 351.5h0M300.8 312.3h0M352.5 363.9h0M348.4 343.2h0M330.3 336.6h0M349.9 364.1h0M266.8 280.0h0M351.3 356.9h0M310.6 352.3h0M301.8 331.3h0M354.6 308.2h0M381.7 339.8h0M326.8 320.5h0M285.1 324.7h0M409.6 359.6h0M295.1 325.1h0M284.7 330.2h0M314.1 330.3h0M322.3 356.4h0M268.4 354.5h0M331.3 312.7h0M407.5 363.1h0M285.9 358.4h0M355.4 307.5h0M378.0 355.0h0M335.3 328.3h0M335.2 350.2h0M411.3 355.5h0M358.7 339.8h0M398.6 350.0h0M353.1 319.5h0M364.0 365.9h0M338.3 344.1h0M353.8 356.9h0M340.5 344.9h0M368.6 313.6h0M330.6 353.4h0M407.9 353.5h0M298.4 309.5h0M314.1 321.2h0M311.6 347.3h0M300.7 326.1h0M353.4 345.6h0M371.4 359.1h0M375.9 343.1h0M369.2 361.5h0M352.7 356.3h0M352.3 301.0h0M276.3 333.1h0M331.5 340.4h0M399.9 337.5h0M425.3 320.4h0M330.0 341.5h0M340.3 336.3h0M367.4 364.1h0M312.1 320.1h0M347.9 351.1h0M387.8 355.5h0M342.6 331.6h0M397.7 350.8h0M319.1 321.3h0M390.1 352.3h0M348.0 335.0h0M408.7 291.2h0M379.7 343.0h0M360.8 340.1h0M372.1 355.1h0M318.9 314.9h0M365.8 361.8h0M330.0 342.3h0M396.0 358.0h0M379.7 359.5h0M336.2 358.6h0M338.0 291.8h0M316.7 335.2h0M302.0 321.8h0M380.8 330.9h0M370.8 357.9h0M358.9 364.3h0M403.8 335.6h0M354.5 306.7h0M368.7 366.6h0M325.8 342.0h0M328.9 357.4h0M306.1 352.0h0M431.8 338.2h0M375.0 360.3h0M319.8 352.9h0M396.7 355.2h0M361.7 329.0h0M386.5 355.2h0M336.2 357.1h0M312.4 363.0h0M302.0 333.7h0M354.2 351.0h0M336.2 354.4h0M353.2 355.2h0M317.0 352.4h0M295.3 298.8h0M309.2 332.3h0M305.8 308.9h0M375.2 346.4h0M377.7 350.8h0M388.1 334.7h0M347.0 359.7h0M341.7 329.1h0M324.0 276.0h0M336.9 341.7h0M358.1 364.6h0M318.2 340.5h0M290.9 300.1h0M335.6 338.9h0M366.3 337.2h0M356.5 344.6h0M349.7 359.2h0M292.3 323.5h0M353.2 344.4h0M393.0 324.2h0M296.5 348.6h0M345.5 328.9h0M268.7 286.7h0M374.0 348.4h0M371.3 341.2h0M381.0 321.6h0M322.0 355.6h0M345.4 287.9h0M386.9 350.1h0M439.3 354.7h0M349.9 349.0h0M386.3 354.9h0M314.8 315.4h0M302.2 339.9h0M331.9 335.1h0M306.9 339.7h0M348.4 335.0h0M408.1 356.2h0M380.9 361.2h0M344.9 353.2h0M358.2 342.5h0M312.9 339.7h0M435.1 350.9h0M298.4 267.5h0M445.1 327.0h0M330.8 347.3h0M303.4 323.4h0M308.9 339.5h0M293.6 318.2h0M261.2 330.8h0" stroke="#F0672B" stroke-width="3.6" stroke-linecap="round" fill="none" opacity="1"/>
<path d="M302.2 323.2h0M307.5 317.7h0M361.1 331.0h0M314.9 299.9h0M325.6 348.6h0M330.6 315.9h0M358.4 312.5h0M250.0 288.1h0M372.7 352.4h0M287.8 306.3h0M444.3 323.4h0M339.2 359.1h0M375.2 351.1h0M380.5 338.6h0M370.5 338.0h0M387.7 356.7h0M326.4 360.9h0M322.6 292.8h0M265.1 279.1h0M354.5 352.5h0M399.8 352.5h0M312.1 323.0h0M164.5 244.9h0M358.6 289.3h0M353.3 359.7h0M439.7 345.4h0M440.3 296.8h0M211.8 325.1h0M398.8 320.8h0M545.2 347.2h0M405.3 318.4h0M259.1 357.0h0M412.0 356.5h0M301.8 352.9h0M306.7 356.8h0M621.5 284.1h0M377.1 353.8h0M290.5 299.6h0M313.9 291.8h0M288.9 346.2h0M330.4 333.5h0M361.7 341.2h0M358.0 357.1h0M385.5 296.6h0M321.3 321.2h0M463.2 320.2h0M329.6 354.7h0M269.3 340.8h0M435.3 334.6h0M220.1 321.7h0M347.0 352.7h0M513.2 312.7h0M479.3 270.9h0M470.7 342.1h0M270.6 283.4h0M304.5 323.4h0M315.8 296.9h0M531.3 314.3h0M234.1 343.6h0M403.3 311.3h0M362.6 325.8h0M337.3 324.6h0M258.4 351.0h0M537.0 294.3h0M313.5 345.7h0M408.3 297.5h0M399.8 289.3h0M438.5 322.0h0M209.5 330.2h0M468.0 348.4h0M337.1 284.6h0M342.6 355.5h0M365.9 328.1h0M356.8 355.7h0M415.6 361.2h0M502.5 286.4h0M297.6 334.6h0M369.5 362.5h0M362.9 296.6h0M484.2 303.1h0M518.1 331.4h0M397.9 332.8h0M317.6 324.8h0M365.6 301.4h0M519.4 329.5h0M298.2 288.3h0M515.2 318.1h0M479.3 297.9h0M551.3 326.9h0M226.8 318.1h0M347.5 328.8h0M481.6 275.9h0M434.2 346.7h0M330.8 360.1h0M312.9 333.7h0M274.2 304.7h0M294.6 344.1h0M427.7 303.2h0M451.5 310.7h0M381.6 354.6h0M383.5 310.7h0M269.9 281.7h0M275.6 334.3h0M399.8 351.2h0M384.5 332.1h0M356.2 348.1h0M335.2 356.2h0M481.1 337.7h0M336.3 352.2h0M240.7 237.8h0M450.1 338.0h0M520.8 331.8h0M247.4 284.1h0M365.2 359.1h0M386.1 348.6h0M383.2 358.7h0M485.9 293.4h0M344.3 337.8h0M389.1 342.5h0M338.8 362.6h0M315.3 313.1h0M381.2 310.8h0M379.1 288.8h0M429.0 294.3h0M374.3 290.9h0M432.0 271.7h0M350.5 346.9h0M310.6 339.6h0M271.4 332.3h0M520.6 323.5h0M440.3 325.6h0M336.3 343.2h0M277.5 338.7h0M415.5 351.3h0M303.7 328.0h0M299.3 331.6h0M322.1 352.8h0M222.8 297.5h0M280.7 335.6h0M266.6 347.9h0M298.5 360.9h0M334.5 356.2h0M350.1 329.0h0M420.0 309.0h0M409.1 322.4h0M377.2 318.9h0M328.8 299.4h0M322.9 344.2h0M357.2 363.6h0M272.1 313.2h0M308.6 317.0h0M372.3 342.2h0M318.7 338.5h0M539.2 270.8h0M387.7 323.6h0M341.4 363.4h0M376.0 327.1h0M403.6 337.9h0M211.1 334.5h0M366.7 350.5h0M348.7 360.3h0M335.1 314.7h0M334.4 354.5h0M353.7 344.5h0M374.0 323.8h0M530.8 345.6h0M420.7 308.2h0M364.0 342.7h0M449.3 335.1h0M256.7 318.8h0M375.4 346.5h0M398.7 354.6h0M298.9 308.9h0M319.9 360.5h0M236.6 284.6h0M473.1 300.6h0M283.4 332.5h0M477.0 325.4h0M443.9 272.3h0M274.5 313.8h0M231.0 276.0h0M341.2 360.8h0M305.6 323.8h0M493.1 324.8h0M299.5 313.0h0M300.3 260.9h0M275.6 314.0h0M270.2 317.5h0M251.7 329.1h0M448.3 288.7h0M413.0 354.9h0M351.8 363.7h0M303.9 306.4h0M380.5 328.2h0M166.3 289.1h0M451.3 340.4h0M439.3 352.8h0M299.4 340.9h0M355.3 363.2h0M409.9 323.9h0M289.4 322.2h0M369.6 350.0h0M342.6 355.4h0M348.4 352.3h0M368.4 338.5h0M258.4 344.0h0M316.2 308.8h0M313.4 330.3h0M291.2 269.3h0M433.5 296.8h0M227.6 289.7h0M427.0 334.9h0M396.8 336.6h0M340.1 363.6h0M400.2 282.9h0M224.1 314.8h0M317.9 284.7h0M469.6 325.8h0M262.8 298.4h0M447.8 285.1h0M393.4 341.8h0M401.9 344.8h0M275.0 243.3h0M273.3 304.5h0M377.1 323.4h0M346.4 352.7h0M304.2 320.6h0M378.3 334.2h0M409.1 329.0h0M506.4 301.7h0M452.5 343.0h0M337.5 349.7h0M520.4 272.9h0M342.7 329.0h0M417.9 298.6h0M161.5 313.9h0M261.7 288.5h0M326.3 314.6h0M423.1 257.0h0M381.2 342.4h0M323.4 298.3h0M285.1 340.6h0M445.2 328.6h0M358.6 337.2h0M348.9 348.5h0M252.4 329.5h0M391.6 361.6h0M455.8 313.7h0M282.5 303.4h0M401.9 305.8h0M405.3 348.0h0M434.9 312.5h0M474.1 337.2h0M376.3 363.4h0M329.9 319.9h0M433.2 326.8h0M369.2 360.9h0M437.9 339.9h0M298.8 334.8h0M478.7 285.8h0M311.0 358.5h0M468.5 316.6h0M319.3 317.1h0M267.2 345.8h0M349.0 337.3h0M365.2 363.1h0M270.3 290.5h0M284.8 333.9h0M570.3 274.8h0M586.3 314.2h0M536.5 334.8h0M348.8 295.2h0M340.0 349.3h0M483.0 318.5h0M338.0 341.7h0M392.2 353.8h0M454.3 329.1h0M489.0 333.5h0M417.2 296.8h0M381.9 360.2h0M356.8 340.6h0M364.7 339.0h0M299.9 350.5h0M321.7 309.0h0M273.4 332.3h0M317.2 336.0h0M346.5 355.9h0M374.5 354.0h0M406.9 354.0h0M302.5 327.1h0M356.7 348.4h0M276.0 348.6h0M212.9 316.0h0M436.6 333.6h0M408.5 347.9h0M330.2 290.2h0M487.1 324.6h0M393.1 266.9h0M430.3 291.0h0M379.9 342.9h0M375.8 344.6h0M303.7 339.9h0M323.4 339.4h0M370.0 349.7h0M451.7 296.9h0M320.1 306.7h0M356.7 314.9h0M169.8 286.8h0M410.6 319.7h0M394.4 302.9h0M294.1 307.1h0M270.6 323.1h0M442.3 345.8h0M422.3 355.7h0M296.6 328.4h0M232.5 324.9h0M259.6 345.1h0M367.3 357.4h0M304.8 300.0h0M439.8 307.2h0M422.9 334.4h0M463.8 250.0h0M351.6 335.4h0M458.8 351.3h0M284.2 330.3h0M482.9 303.4h0M378.1 328.6h0M332.3 300.5h0M400.3 339.5h0M398.7 357.2h0M178.9 302.4h0M383.6 342.6h0M339.9 330.0h0M329.7 339.7h0M369.9 353.6h0M439.0 296.4h0M406.7 338.8h0M598.8 291.7h0M317.0 341.3h0M353.8 346.9h0M372.5 356.2h0M385.9 310.7h0M361.6 347.9h0M392.4 337.7h0M380.7 283.1h0M269.6 323.4h0M433.3 337.6h0M119.5 254.6h0M415.4 358.6h0M262.3 320.1h0M327.3 335.3h0M255.9 351.6h0M231.8 337.2h0M476.3 345.5h0M316.6 345.1h0M573.7 287.0h0M354.9 270.4h0M296.5 278.0h0M517.4 322.0h0M440.5 354.5h0M422.7 341.6h0M348.9 347.6h0M407.9 336.8h0M372.2 323.8h0M274.4 329.2h0M365.5 309.2h0M400.2 322.2h0M329.7 344.4h0M393.6 351.1h0M403.4 349.9h0M411.1 358.3h0M317.3 341.0h0M343.7 340.0h0M368.5 353.0h0M411.5 337.4h0M455.5 330.1h0M328.2 361.7h0M415.0 290.1h0M316.3 292.4h0M403.2 335.2h0M330.0 301.7h0M347.2 332.5h0M497.8 315.5h0M417.9 301.1h0M339.6 343.5h0M533.8 328.2h0M280.7 312.8h0M311.8 354.4h0M516.4 283.9h0M468.5 351.2h0M486.7 310.0h0M361.1 341.1h0M284.3 323.0h0M233.8 302.4h0M352.4 353.3h0M325.0 329.7h0M404.1 339.3h0M185.8 273.4h0M385.6 364.3h0M287.2 260.4h0M248.3 332.6h0M282.8 324.3h0M410.2 280.5h0M369.3 332.0h0M314.2 361.8h0M392.1 357.5h0M380.2 321.0h0M244.7 335.7h0M394.3 301.7h0M408.2 313.0h0M400.5 347.6h0M311.3 341.9h0M406.7 262.0h0M358.2 314.0h0M351.0 329.4h0M335.8 308.2h0M298.5 284.1h0M310.8 297.0h0M258.9 323.6h0M342.3 340.5h0M534.8 282.7h0M207.2 319.0h0M212.7 329.9h0M438.3 282.9h0M304.2 328.6h0M462.2 302.4h0M414.3 318.0h0M300.5 328.3h0M520.0 335.2h0M447.0 326.9h0M212.6 292.8h0M283.2 306.2h0M392.6 333.0h0M437.1 256.2h0M335.8 332.8h0M366.4 352.1h0M400.3 348.4h0M352.0 289.8h0M358.0 366.3h0M367.5 334.6h0M241.3 301.7h0M458.7 308.8h0M340.0 365.5h0M315.9 333.9h0M299.4 322.4h0M259.7 315.5h0M355.9 305.8h0M223.7 342.9h0M440.1 268.7h0M363.6 354.3h0" stroke="#4A55A6" stroke-width="1.7" stroke-linecap="round" fill="none" opacity="0.9"/>
<path d="M524.3 291.4h0M316.8 357.7h0M426.6 341.4h0M352.2 319.9h0M410.1 283.1h0M252.2 314.3h0M407.9 335.4h0M334.6 324.0h0M299.1 362.3h0M388.7 361.8h0M316.9 289.2h0M376.0 348.4h0M425.6 350.2h0M466.8 315.1h0M270.6 293.2h0M424.1 326.8h0M321.3 350.5h0M318.0 342.9h0M338.7 325.7h0M213.5 315.1h0M320.8 331.1h0M403.3 325.6h0M286.5 321.2h0M395.8 331.4h0M368.0 361.7h0M267.3 306.3h0M431.2 327.0h0M473.6 309.2h0M208.2 327.8h0M262.3 309.8h0M451.8 340.9h0M398.2 312.4h0M417.8 335.1h0M257.2 338.2h0M458.9 325.6h0M243.5 340.8h0M394.2 355.3h0M306.8 342.0h0M436.5 313.8h0M342.4 361.3h0M310.8 312.4h0M321.5 360.6h0M315.6 330.3h0M390.7 334.8h0M360.3 276.7h0M267.1 329.7h0M274.5 325.3h0M447.6 306.1h0M316.9 351.0h0M419.5 351.0h0M278.3 297.1h0M317.1 344.4h0M312.2 295.2h0M295.1 320.5h0M519.2 285.8h0M336.2 338.3h0M152.7 307.5h0M312.9 327.4h0M323.0 347.6h0M303.4 322.4h0M464.3 334.5h0M310.9 353.2h0M391.0 278.4h0M303.1 303.1h0M397.2 344.1h0M372.9 347.3h0M266.7 334.8h0M312.9 356.3h0M504.1 314.6h0M349.4 350.4h0M529.8 307.4h0M272.1 341.8h0M365.5 347.3h0M308.2 341.1h0M275.4 340.7h0M431.8 338.6h0M456.0 347.2h0M433.2 295.9h0M283.1 308.3h0M312.1 359.6h0M428.7 332.0h0M376.1 346.7h0M384.2 306.0h0M308.8 352.2h0M347.1 354.1h0M334.9 365.0h0M349.7 269.3h0M344.5 322.5h0M271.2 338.2h0M465.7 331.5h0M458.3 302.8h0M342.3 339.4h0M331.5 341.8h0M344.4 320.8h0M434.9 302.3h0M328.9 361.9h0M456.8 307.3h0M407.8 349.9h0M436.5 346.1h0M300.1 335.4h0M365.6 363.4h0M377.7 323.9h0M376.2 361.6h0M454.1 288.8h0M279.2 363.2h0M306.5 328.0h0M299.8 320.5h0M454.2 318.2h0M270.1 346.6h0M347.0 319.3h0M397.0 331.6h0M261.5 321.9h0M449.2 341.5h0M303.3 328.7h0M281.4 326.0h0M336.7 334.2h0M221.0 284.2h0M311.3 318.5h0M286.6 324.0h0M350.3 330.8h0M421.6 344.9h0M433.6 299.8h0M363.2 335.3h0M389.6 332.8h0M427.2 294.6h0M494.9 332.7h0M449.4 287.2h0M427.5 322.5h0M402.0 354.2h0M472.9 270.8h0M289.2 314.6h0M396.5 350.6h0M511.1 335.1h0M356.1 331.0h0M221.4 280.5h0M518.1 304.9h0M226.8 331.0h0M378.8 343.9h0M396.8 327.8h0M525.8 324.1h0" stroke="#C9694F" stroke-width="2.2" stroke-linecap="round" fill="none" opacity="1"/>
<path d="M370.9 356.4h0M273.0 314.5h0M371.5 365.1h0M337.8 338.3h0M328.7 326.6h0M327.9 346.1h0M332.4 345.8h0M434.9 359.8h0M347.7 362.5h0M343.8 298.2h0M367.7 333.9h0M385.3 351.3h0M375.4 303.4h0M385.5 351.6h0M335.9 353.3h0M334.4 352.1h0M366.4 331.1h0M322.6 334.5h0M400.7 320.2h0M318.5 353.1h0M306.9 350.0h0M403.0 331.5h0M336.1 357.2h0M391.8 355.4h0M306.8 359.7h0M330.9 320.9h0M351.0 361.2h0M405.6 304.1h0M315.1 322.1h0M385.9 352.8h0M330.5 354.4h0M366.3 346.7h0M358.1 329.7h0M330.3 351.3h0M341.7 361.0h0M359.5 345.4h0M262.5 320.2h0M341.6 356.0h0M340.4 317.1h0M399.8 344.9h0M338.8 345.5h0M315.4 319.8h0M310.8 349.9h0M341.8 347.6h0M355.6 299.9h0M295.0 341.7h0M314.0 319.2h0M329.2 327.0h0M347.9 356.8h0M286.9 332.6h0M382.8 358.9h0M360.0 334.5h0M384.6 350.1h0M346.4 348.5h0M369.8 358.2h0M348.6 339.5h0M329.0 338.4h0M382.4 355.2h0M293.2 327.8h0M382.6 365.0h0M388.2 326.5h0M407.5 339.2h0M332.3 305.8h0M382.5 357.6h0M344.7 340.9h0M310.0 341.5h0M346.8 359.6h0M294.8 337.4h0M293.9 359.3h0M364.8 328.2h0M309.8 345.1h0M364.8 361.5h0M286.2 322.3h0M328.1 319.1h0M303.9 347.6h0M325.5 338.6h0M261.9 338.6h0M360.6 324.0h0M340.6 345.8h0M368.3 329.4h0M338.5 333.0h0M454.9 320.9h0M384.6 363.8h0M357.7 352.2h0M340.2 334.8h0M384.5 361.7h0M297.2 330.9h0M405.6 336.8h0M383.5 354.7h0M416.8 358.9h0M358.8 318.1h0M346.1 336.7h0M328.5 340.5h0M371.4 362.8h0M324.1 338.0h0M333.1 349.4h0M308.8 353.1h0M354.7 359.0h0M325.6 348.5h0M255.6 353.0h0M346.0 322.2h0M349.8 344.9h0M327.1 353.6h0M265.0 346.1h0M408.0 352.2h0M301.3 362.2h0M339.3 353.7h0M298.6 335.2h0M406.8 355.7h0M373.8 345.0h0M316.0 352.6h0M275.5 351.1h0M350.6 359.7h0M321.1 355.7h0M413.2 359.4h0M378.9 362.9h0M336.7 351.2h0M292.5 339.5h0M366.9 360.9h0M332.0 317.7h0M316.5 354.2h0M381.1 317.9h0M361.9 349.9h0M325.4 345.3h0M407.5 350.7h0M356.5 360.1h0M300.8 332.2h0M332.0 335.9h0M302.9 331.7h0M343.1 334.2h0M369.9 351.0h0M307.5 327.6h0M309.2 341.0h0M289.1 330.5h0M399.0 364.3h0M399.2 320.0h0M397.2 330.3h0M356.7 338.3h0M251.1 349.4h0M367.4 360.0h0M336.7 347.7h0M322.9 353.4h0M361.4 357.7h0M351.1 357.8h0M389.7 349.4h0M301.2 312.3h0M290.0 317.7h0M389.2 333.5h0M337.0 359.4h0M359.1 342.4h0M344.1 335.8h0M348.8 339.0h0M401.7 354.3h0M344.0 357.1h0M405.0 365.5h0M385.2 358.8h0M378.0 358.6h0M325.5 360.8h0M332.2 323.8h0M340.0 349.9h0M359.1 354.4h0M327.0 359.8h0M327.8 300.5h0M427.7 333.8h0M326.8 326.1h0M414.2 323.6h0M369.6 355.0h0M359.3 340.9h0M376.6 326.6h0M445.3 329.1h0M363.9 322.5h0M283.7 304.9h0M351.4 349.9h0M392.8 365.8h0M316.4 245.1h0M321.7 342.2h0M398.6 346.1h0M342.3 325.0h0M347.0 351.8h0M381.3 364.6h0M372.0 337.3h0M313.8 354.2h0M383.8 340.5h0M382.6 364.4h0M330.6 328.1h0M331.6 321.5h0M305.3 330.6h0M398.0 335.1h0M364.5 345.1h0M373.8 365.2h0M425.1 351.2h0M391.6 310.4h0M381.3 290.0h0M414.3 321.7h0M370.7 336.2h0M389.0 336.1h0M353.5 343.6h0M348.9 344.4h0M366.4 359.8h0M292.0 331.4h0M383.1 322.5h0M344.7 352.9h0M292.3 329.8h0M403.6 361.9h0M402.1 348.3h0M366.6 336.3h0M365.6 337.8h0M304.9 262.6h0M290.2 308.4h0M286.2 323.2h0M428.6 350.6h0M340.1 340.1h0M325.4 340.2h0M385.2 353.0h0M327.4 341.3h0M289.3 290.6h0M314.0 350.9h0M392.0 345.2h0M314.9 338.7h0M391.5 358.2h0M370.1 343.5h0M301.9 322.5h0M374.5 360.5h0M385.5 315.4h0M324.4 350.3h0M317.8 332.1h0M370.2 339.4h0M364.6 345.3h0M335.2 343.8h0M361.8 333.3h0M281.5 350.6h0M349.7 328.4h0M386.4 340.0h0M371.2 346.5h0M368.5 365.7h0M390.3 355.7h0M348.4 353.9h0M346.1 350.5h0M293.3 298.4h0M342.0 357.6h0M344.3 352.2h0M412.2 351.8h0M333.2 335.3h0M310.2 346.8h0M426.6 342.7h0M327.8 321.1h0M443.4 350.9h0M372.6 358.2h0M327.2 359.4h0M304.5 290.4h0M292.2 329.7h0M351.6 344.6h0M351.8 300.7h0M366.9 356.1h0M394.3 329.8h0M425.1 357.0h0M365.3 349.5h0M280.0 309.6h0M393.7 360.6h0M333.4 348.7h0M329.1 335.3h0M322.6 280.3h0M298.4 355.4h0M270.4 340.7h0M340.2 359.7h0M390.5 351.0h0M324.3 343.0h0M321.7 331.8h0M404.6 312.6h0M297.4 344.3h0M421.2 299.4h0M309.5 341.3h0M336.8 322.1h0M334.7 347.4h0M351.7 340.0h0M347.6 360.1h0M414.7 342.9h0M339.2 313.8h0M331.7 348.0h0M376.1 344.6h0M384.8 359.0h0M339.3 359.7h0M427.3 343.8h0M309.6 322.6h0M322.7 316.5h0M295.5 303.9h0M377.7 350.2h0M358.8 352.8h0M430.8 359.2h0M231.5 326.0h0M358.8 334.2h0M358.6 338.7h0M323.6 335.1h0M285.2 332.5h0M397.8 351.2h0M308.2 317.3h0M351.1 340.9h0M347.1 362.0h0M399.5 354.2h0M294.2 345.5h0M317.4 360.6h0M416.8 355.0h0M376.1 341.8h0M378.5 326.5h0M384.9 357.0h0M276.3 348.0h0M308.7 319.8h0M451.2 326.8h0M358.4 359.5h0M367.4 344.1h0M369.6 347.6h0M316.6 306.5h0M381.2 345.0h0M320.4 311.8h0M359.3 366.5h0M342.9 356.0h0M350.4 352.0h0M404.5 350.3h0M351.7 352.5h0M383.7 347.4h0M418.6 346.9h0M372.1 343.9h0M286.8 354.0h0M303.3 352.6h0M353.9 314.9h0M404.4 345.7h0M390.2 363.1h0M382.2 342.2h0M344.8 350.6h0M369.3 357.1h0M285.1 328.0h0M275.5 310.7h0M299.7 349.3h0M354.9 351.5h0M368.5 345.2h0M369.1 355.1h0M434.9 355.4h0M303.4 330.2h0M395.8 291.3h0M399.3 333.1h0M336.0 342.1h0M384.0 305.4h0M432.2 328.2h0M346.3 311.9h0M345.8 358.6h0M358.3 365.3h0M428.9 358.4h0M299.1 324.0h0M310.1 325.6h0M328.1 344.9h0" stroke="#4A55A6" stroke-width="1.9" stroke-linecap="round" fill="none" opacity="1"/>
<path d="M338.7 330.3h0M357.9 310.6h0M328.5 308.6h0M351.5 354.8h0M360.8 333.4h0M361.1 335.6h0M423.3 335.1h0M282.4 307.8h0M276.1 297.8h0M360.8 324.5h0M329.9 324.7h0M403.1 359.6h0M290.1 336.2h0M375.7 366.3h0M417.5 278.6h0M374.3 347.0h0M270.0 357.4h0M347.6 362.9h0M378.0 364.9h0M377.8 359.1h0M327.0 339.4h0M387.4 355.6h0M391.1 345.3h0M361.2 358.0h0M360.7 365.6h0M388.5 344.2h0M321.7 350.3h0M325.0 338.8h0M395.7 366.9h0M267.5 344.6h0M354.4 341.8h0M320.7 318.9h0M291.1 326.9h0M282.9 352.1h0M418.4 365.0h0M363.5 353.3h0M310.2 338.7h0M271.8 329.4h0M363.5 355.2h0M338.2 347.6h0M328.8 321.0h0M339.1 353.0h0M305.0 308.3h0M416.2 315.9h0M353.6 366.6h0M322.7 350.9h0M368.2 334.6h0M367.9 332.1h0M323.3 308.2h0M329.5 353.7h0M446.2 354.6h0M344.3 345.7h0M382.2 347.5h0M311.5 337.8h0M393.5 318.7h0M337.0 345.0h0M305.1 269.4h0M377.0 361.5h0M312.4 329.6h0M322.9 310.6h0M439.3 341.6h0M323.8 316.3h0M349.9 352.3h0M390.1 355.4h0M300.9 316.8h0M212.9 275.3h0M383.0 330.5h0M379.9 305.5h0M340.6 347.3h0M274.8 310.4h0M281.3 355.3h0M359.2 338.6h0M313.6 285.5h0M344.3 316.3h0M345.1 355.9h0M287.5 360.7h0M367.3 346.5h0M427.5 340.5h0M396.9 361.2h0M318.2 323.6h0M336.7 354.4h0M392.6 327.1h0M300.0 320.8h0M414.7 307.5h0M355.3 341.8h0M297.6 335.2h0M404.4 357.5h0M355.1 322.9h0M459.4 274.6h0M378.8 352.8h0M308.1 351.7h0M364.5 334.4h0M322.8 351.3h0M250.9 319.2h0M435.6 302.3h0M337.3 346.1h0M351.3 352.5h0M352.1 353.2h0M293.1 293.8h0M405.4 328.9h0M364.3 335.3h0M354.6 345.1h0M294.9 314.7h0M357.3 312.2h0M377.0 352.6h0M349.2 322.6h0M313.1 313.7h0M371.1 362.8h0M368.1 318.7h0M327.7 302.2h0M329.8 334.7h0M348.6 346.8h0M363.9 357.2h0M378.6 363.9h0M367.7 345.8h0M329.9 352.4h0M390.7 359.0h0M333.8 365.0h0M374.4 366.7h0M373.9 354.5h0M307.3 300.4h0M330.2 355.0h0M358.6 353.9h0M279.9 323.6h0M380.8 353.1h0M318.1 346.9h0M304.5 345.4h0M329.7 334.5h0M375.1 317.1h0M351.4 333.5h0M347.8 363.9h0M356.8 323.5h0M372.6 358.9h0M373.2 305.7h0M333.1 336.0h0M362.1 351.3h0M304.8 350.1h0M370.8 356.6h0M347.2 339.6h0M318.3 337.1h0M440.7 354.5h0M335.3 356.0h0M308.8 344.7h0M337.0 353.4h0M343.5 363.8h0M371.8 351.0h0M264.2 319.6h0M366.8 359.5h0M433.2 356.8h0M361.5 347.8h0M372.8 349.0h0M324.1 338.7h0M342.3 355.3h0M331.2 325.8h0M337.0 338.1h0M389.3 350.4h0M387.3 344.2h0M329.4 320.8h0M283.6 345.8h0M388.6 364.2h0M446.3 344.5h0M302.3 299.5h0M402.4 362.8h0M349.3 348.6h0M320.2 345.2h0M340.1 357.7h0M341.3 365.2h0M313.4 329.5h0M353.8 347.1h0M443.2 366.9h0M382.5 363.5h0M295.1 338.5h0M314.2 351.4h0M424.9 345.6h0M255.4 308.2h0M316.0 304.2h0M403.2 340.6h0M366.7 351.1h0M408.1 336.4h0M320.3 328.3h0M309.3 290.4h0M384.0 327.4h0M317.7 355.1h0M358.9 331.1h0M330.7 331.6h0M337.7 337.2h0M353.1 334.7h0M392.1 338.6h0M369.3 358.1h0M279.2 227.3h0M280.6 336.1h0M335.0 355.8h0M330.9 345.3h0M382.7 318.0h0M420.7 317.2h0M330.5 338.4h0M332.9 361.6h0M317.8 356.1h0M368.1 356.2h0M329.1 334.9h0M390.7 319.7h0M390.0 365.2h0M354.1 329.8h0M302.7 340.2h0M364.9 363.6h0M407.9 351.2h0M354.2 357.6h0M302.6 325.9h0M326.6 353.9h0M335.9 331.4h0M318.5 341.8h0M401.4 322.1h0M323.7 341.8h0M338.9 338.7h0M334.2 331.7h0M314.1 335.3h0M361.7 331.8h0M306.2 345.7h0M340.0 324.6h0M404.8 363.9h0M328.0 327.7h0M407.4 325.4h0M369.9 360.4h0M367.4 337.7h0M422.9 357.4h0M360.1 359.2h0M348.0 345.7h0M335.8 359.4h0M341.8 328.6h0M389.8 365.9h0M371.1 309.5h0M371.9 334.4h0M287.6 253.9h0M331.7 359.2h0M391.2 359.4h0M390.7 332.4h0M270.0 325.6h0M386.1 347.2h0M313.9 301.3h0M396.6 354.4h0M368.0 303.9h0M326.8 331.7h0M391.1 306.1h0M360.9 332.7h0M388.5 347.0h0M334.7 342.1h0M313.6 312.3h0M317.9 345.4h0M315.1 314.6h0M350.0 343.0h0M374.1 315.8h0M327.8 309.9h0M363.6 361.6h0M397.7 331.1h0M344.0 308.5h0M368.7 361.4h0M337.0 351.0h0M299.3 252.2h0M433.3 359.8h0M372.6 353.2h0M395.2 360.9h0M273.0 335.3h0M324.7 345.8h0M340.3 347.4h0M324.8 334.7h0M340.6 332.2h0M358.0 314.1h0M365.4 364.3h0M389.9 326.7h0M404.4 312.1h0M325.5 335.6h0M353.9 358.4h0M382.1 341.2h0M310.7 346.8h0M298.5 271.9h0M412.7 357.0h0M298.9 309.5h0M446.1 348.4h0M309.9 302.4h0M408.7 353.1h0M405.0 325.3h0M307.2 343.1h0M368.3 294.0h0M307.1 351.0h0M286.1 305.8h0M378.6 365.0h0M368.1 360.0h0M308.7 349.6h0M308.7 346.4h0M388.2 352.3h0M336.9 361.3h0M292.9 347.3h0M352.9 333.9h0M367.0 356.4h0M398.1 364.0h0M264.3 319.0h0M275.4 316.6h0M373.8 290.5h0M308.1 342.2h0M404.5 358.5h0M298.7 302.9h0M351.7 359.8h0M347.2 351.1h0M359.8 350.5h0M357.8 336.9h0M390.0 349.0h0M309.3 324.9h0M329.2 325.4h0M321.4 360.4h0M320.9 351.2h0M380.6 364.5h0M373.0 337.8h0M279.2 313.9h0M266.9 319.3h0M353.2 346.8h0M357.4 344.3h0M366.2 361.9h0M365.8 361.6h0M301.3 302.2h0M335.2 339.2h0M274.1 342.6h0M346.1 360.0h0M364.7 338.1h0M370.2 355.9h0M306.2 359.6h0M348.3 348.3h0M463.9 348.6h0M333.6 354.7h0M347.8 352.2h0M377.3 340.7h0M417.8 364.0h0M287.0 298.4h0M357.0 353.1h0M344.5 356.6h0M343.6 321.8h0M329.6 334.1h0M329.9 350.5h0M332.9 359.7h0M377.8 358.9h0M365.7 350.6h0M342.4 341.8h0M386.4 355.9h0M323.3 341.3h0M275.3 258.9h0M402.3 353.3h0M347.0 342.3h0M360.9 353.0h0M347.4 355.4h0M295.2 337.3h0M374.0 366.7h0M334.1 333.8h0M291.6 331.7h0M351.6 289.2h0M383.9 329.4h0M278.7 336.1h0M306.0 351.7h0M326.8 362.5h0M382.1 348.7h0M360.3 346.6h0M322.2 354.9h0M438.6 345.7h0M337.8 346.1h0M407.0 359.3h0M247.5 320.3h0M370.4 345.4h0M402.9 348.2h0M255.2 343.1h0M312.9 355.5h0M339.0 335.1h0M332.2 324.9h0M384.8 342.6h0M287.6 321.4h0M345.8 363.2h0M342.4 337.5h0M368.8 333.2h0M365.7 320.8h0M395.7 314.2h0M366.7 364.1h0M368.2 351.1h0M364.8 338.4h0M428.4 332.5h0M329.5 351.9h0M342.1 317.1h0M345.1 306.2h0M336.9 356.9h0M291.8 353.7h0M411.4 367.0h0M437.3 356.7h0M396.5 337.5h0M257.5 281.4h0M339.6 333.5h0M304.2 325.8h0M389.7 341.8h0M338.9 345.5h0M330.9 334.8h0M398.0 343.2h0M380.3 363.5h0M431.6 361.5h0M334.4 339.6h0M365.8 350.7h0M283.7 311.9h0M355.5 313.8h0M369.8 360.0h0M410.9 324.0h0M308.9 341.8h0M333.6 353.1h0M328.1 358.7h0M403.5 330.1h0M310.9 331.6h0M349.5 341.2h0M260.3 303.0h0M411.0 364.7h0M367.3 344.4h0M377.9 364.0h0M346.7 329.6h0M365.2 316.8h0M300.6 314.9h0M379.8 338.9h0M345.5 351.4h0M394.5 358.7h0M362.0 366.7h0M347.7 336.4h0M372.8 296.6h0M350.5 340.6h0M312.2 347.9h0M328.2 306.9h0M412.9 332.0h0M292.6 345.1h0M302.8 318.0h0M310.4 336.6h0M368.1 358.0h0M311.0 292.5h0M282.3 337.9h0M355.0 342.6h0M336.0 311.7h0M334.4 309.1h0M349.4 338.2h0M355.8 363.2h0M423.6 339.3h0M344.2 323.1h0M353.3 345.1h0M374.1 365.7h0M423.1 342.3h0M368.8 313.1h0M367.5 366.5h0M406.7 350.0h0M323.3 334.6h0M384.2 367.0h0M349.2 356.8h0M398.0 334.1h0M302.9 312.6h0M343.2 352.8h0M358.2 329.6h0M378.0 337.5h0M381.4 363.9h0M319.2 339.9h0M365.7 332.1h0M379.7 345.7h0M347.4 330.2h0M376.0 363.0h0M369.6 317.4h0M397.1 327.6h0M336.2 342.9h0M374.8 357.0h0M387.0 348.8h0M335.3 334.0h0M355.2 361.1h0M369.8 347.2h0M296.2 334.8h0M358.2 352.4h0M415.6 318.3h0M361.8 319.1h0M500.4 321.8h0M260.3 308.2h0M450.0 342.6h0M377.7 354.0h0M417.3 341.1h0M271.7 303.2h0M351.0 329.6h0M358.3 350.5h0M373.9 346.5h0M366.7 341.8h0M353.0 355.8h0M423.2 323.2h0M404.7 365.2h0M352.6 332.3h0M353.6 358.3h0M332.3 306.6h0M335.6 353.2h0M339.9 361.3h0M352.4 330.4h0M349.2 358.7h0M339.7 338.6h0M389.2 357.4h0M362.9 357.3h0M318.7 348.2h0M364.0 366.5h0M350.5 344.4h0M384.8 361.4h0M413.3 327.5h0M381.3 351.7h0M364.9 365.3h0M354.9 361.2h0M327.2 341.3h0M355.9 366.6h0M305.6 334.5h0M332.1 348.4h0M313.6 304.2h0M447.4 344.4h0M354.7 329.2h0M392.7 352.7h0M282.9 328.4h0M421.6 337.0h0M439.3 365.3h0M375.9 344.6h0M344.2 319.8h0M385.4 342.1h0M325.8 349.7h0M283.4 280.9h0M313.2 315.9h0M343.1 359.0h0M295.8 342.0h0M437.1 338.1h0M373.7 345.7h0M346.7 327.8h0M315.1 309.3h0M355.5 353.7h0M316.5 319.8h0M321.6 348.6h0M339.7 348.1h0M332.1 329.1h0M384.2 349.0h0M340.3 348.4h0M291.7 319.7h0M408.3 348.0h0M303.8 314.7h0M318.1 350.3h0M382.8 322.1h0M326.1 326.3h0M367.4 366.0h0M336.4 343.9h0M352.9 343.9h0M352.4 337.0h0M307.8 333.6h0M333.0 359.1h0M330.9 285.6h0M373.4 364.7h0M310.3 285.3h0M249.1 301.8h0M353.7 356.6h0" stroke="#EE6A30" stroke-width="3.0" stroke-linecap="round" fill="none" opacity="1"/>
<path d="M353.2 364.2h0M395.6 342.8h0M364.1 365.7h0M382.8 304.5h0M445.3 366.7h0M343.4 337.3h0M345.4 352.8h0M318.1 364.3h0M334.1 347.2h0M337.4 336.0h0M384.7 347.0h0M309.5 314.0h0M318.3 345.1h0M354.2 341.5h0M294.1 312.2h0M357.2 350.4h0M375.9 341.1h0M333.3 317.8h0M396.6 357.9h0M410.4 361.6h0M379.3 339.1h0M352.4 328.3h0M423.2 334.4h0M413.9 314.3h0M345.9 343.8h0M300.9 346.7h0M291.4 321.0h0M313.2 353.0h0M371.8 319.5h0M360.1 337.8h0M374.0 352.0h0M414.7 363.1h0M377.6 360.4h0M319.7 325.1h0M384.7 338.7h0M334.5 336.6h0M374.6 365.6h0M295.7 308.4h0M302.9 328.7h0M332.3 348.7h0M407.8 312.1h0M298.1 317.9h0M373.4 311.0h0M408.1 348.9h0M367.5 350.8h0M382.0 354.9h0M370.9 349.5h0M291.5 325.5h0M333.8 332.7h0M398.3 362.9h0M323.9 355.9h0M325.9 277.2h0M320.7 355.9h0M337.9 333.2h0M333.3 364.9h0M328.2 352.0h0M321.8 336.5h0M379.5 335.3h0M413.2 366.0h0M304.4 350.2h0M354.8 334.6h0M342.6 351.5h0M393.5 354.7h0M383.5 364.2h0M436.5 285.0h0M394.8 331.8h0M377.3 352.1h0M334.9 344.4h0M338.5 338.4h0M362.6 316.2h0M356.6 348.5h0M309.2 328.1h0M396.9 323.0h0M376.8 354.7h0M370.3 344.3h0M360.6 353.4h0M335.0 293.7h0M329.2 334.6h0M355.9 360.3h0M332.8 313.3h0M424.7 364.4h0M357.2 351.5h0M322.5 319.9h0M316.5 343.0h0M310.6 300.3h0M324.1 344.8h0M351.4 362.2h0M348.5 349.0h0M406.1 320.6h0M350.5 342.0h0M416.8 344.5h0M321.4 344.2h0M293.4 347.8h0M325.6 347.4h0M312.3 323.1h0M367.3 317.2h0M318.1 349.8h0M370.4 351.7h0M295.4 312.7h0M322.7 329.4h0M392.0 320.2h0M348.5 352.7h0M346.1 361.2h0M361.4 319.3h0M307.2 352.6h0M378.9 359.3h0M326.2 302.2h0M367.0 326.7h0M415.4 342.9h0M254.5 336.4h0M382.6 309.8h0M351.2 350.8h0M280.4 339.1h0M420.1 360.5h0M346.7 358.1h0M338.8 319.0h0M375.1 360.7h0M368.0 331.5h0M335.0 329.8h0M329.0 332.3h0M300.8 338.2h0M352.9 337.7h0M360.7 352.2h0M368.9 313.9h0M355.6 348.8h0M359.3 343.9h0M392.3 334.7h0M364.8 362.8h0M361.5 332.9h0M305.0 348.8h0M370.4 346.6h0M345.6 350.2h0M294.4 308.8h0M408.9 324.6h0M453.3 337.6h0M329.1 321.6h0M446.7 363.3h0M391.8 344.2h0M327.7 331.6h0M363.7 360.3h0M339.8 324.3h0M393.5 342.8h0M305.6 331.8h0M294.8 309.6h0M258.4 290.6h0M407.3 311.0h0M411.0 348.1h0M314.5 325.3h0M278.1 328.3h0M294.1 354.9h0M320.9 326.0h0M259.5 339.9h0M334.5 309.5h0M379.9 360.5h0M438.3 332.0h0M400.6 350.2h0M417.4 354.0h0M368.9 365.8h0M372.4 312.9h0M417.2 319.9h0M323.8 340.3h0M309.6 312.3h0M378.5 318.8h0M390.2 340.0h0M364.3 323.1h0M433.9 337.8h0M296.5 331.6h0M421.3 306.1h0M322.2 321.9h0M350.6 337.0h0M431.5 365.6h0M426.3 366.8h0M215.4 310.0h0M443.1 335.0h0M382.4 330.6h0M406.5 363.2h0M377.7 350.2h0M397.5 360.4h0M367.8 363.1h0M249.3 351.3h0M365.0 326.8h0M393.6 349.8h0M334.3 318.5h0M393.6 351.3h0M324.9 337.5h0M358.8 360.2h0M352.0 352.1h0M345.3 347.5h0M329.4 355.4h0M418.7 337.7h0M383.8 321.4h0M321.3 309.7h0M327.8 341.2h0M355.0 361.6h0M397.5 350.6h0M338.9 352.0h0M345.6 355.3h0M372.5 361.7h0M340.2 326.1h0M362.2 344.0h0M425.8 334.1h0M301.5 332.2h0M421.0 350.2h0M257.0 342.0h0M365.0 333.1h0M358.9 363.8h0M415.2 306.0h0M392.0 364.9h0M393.9 351.4h0M301.6 267.9h0M283.3 318.0h0M341.2 334.0h0M329.4 361.3h0M410.1 356.2h0M369.0 347.8h0M305.7 341.8h0M305.8 362.3h0M404.3 347.8h0M298.6 345.5h0M393.4 359.8h0M380.5 339.3h0M353.3 332.0h0M353.2 326.8h0M392.7 335.6h0M284.5 307.2h0M258.9 303.6h0M402.8 350.4h0M339.4 334.2h0M270.1 320.1h0M316.5 318.8h0M347.0 335.2h0M321.7 358.0h0M335.5 310.3h0M334.5 330.8h0M351.0 325.5h0M344.9 345.6h0M347.0 362.4h0M315.7 346.8h0M428.4 331.7h0M348.4 346.4h0M407.5 345.5h0M330.8 346.1h0M435.1 361.6h0M300.2 334.7h0M396.7 330.8h0M338.9 345.8h0M414.9 352.7h0M400.2 335.7h0M310.8 315.0h0M344.0 321.6h0" stroke="#6B5C9C" stroke-width="1.8" stroke-linecap="round" fill="none" opacity="1"/>
<path d="M304.8 320.6h0M366.5 353.6h0M339.7 351.7h0M312.2 318.9h0M346.8 352.8h0M338.7 358.9h0M340.7 341.2h0M333.0 338.4h0M290.0 311.5h0M370.5 351.8h0M295.8 315.2h0M322.5 349.4h0M331.8 335.3h0M339.7 342.3h0M330.5 358.2h0M337.5 328.1h0M343.7 343.8h0M313.9 325.8h0M288.0 317.1h0M307.3 322.9h0M340.7 327.7h0M348.3 350.1h0M342.9 333.7h0M322.0 346.2h0M306.8 329.6h0M300.6 321.1h0M356.6 353.8h0M290.0 319.6h0M309.8 313.3h0M371.2 347.0h0M301.0 333.8h0M335.5 318.7h0M338.8 339.6h0M335.4 346.4h0M303.1 321.8h0M344.2 355.6h0M332.3 345.7h0M336.6 333.6h0M315.9 335.3h0M318.5 332.7h0M321.4 321.0h0M310.9 330.5h0M373.1 357.0h0M328.4 328.3h0M325.0 340.7h0M334.4 340.8h0M308.4 309.7h0M331.9 352.3h0M311.9 330.6h0M360.0 349.9h0M365.9 357.9h0M356.2 353.2h0M300.8 307.6h0M341.0 337.6h0M354.8 346.1h0M303.4 316.6h0M350.9 353.2h0M365.5 345.5h0M299.1 327.4h0M272.9 300.6h0M318.8 330.0h0M346.4 349.4h0M288.2 319.6h0M344.4 357.8h0M301.2 327.4h0M348.0 351.0h0M320.6 329.2h0M357.4 348.2h0M323.5 330.7h0M341.5 346.9h0M326.1 324.3h0M301.9 331.9h0M291.9 318.1h0M322.6 328.6h0M340.1 350.0h0M320.6 325.4h0M338.1 342.9h0M336.4 338.0h0M337.2 334.2h0M326.0 333.3h0M315.1 334.1h0M322.1 331.9h0M329.3 345.1h0M356.1 344.9h0M348.9 344.9h0M337.2 335.0h0M326.5 322.3h0M340.2 323.6h0M334.4 326.8h0M352.6 343.7h0M361.4 358.2h0M292.2 310.1h0M339.2 359.4h0M284.3 312.6h0M291.1 315.9h0M343.8 350.6h0M333.2 324.0h0M300.6 321.6h0M304.7 332.9h0M268.0 292.5h0M354.9 355.7h0M289.7 301.3h0M357.2 349.7h0M355.6 359.3h0M349.7 343.2h0M348.9 349.6h0M286.4 325.1h0M356.9 348.4h0M288.8 318.7h0M306.1 324.6h0M336.6 338.2h0M298.3 327.2h0M351.7 360.5h0M278.6 300.2h0M284.5 327.8h0M345.5 340.4h0M329.2 342.4h0M360.5 353.9h0M329.0 337.7h0M318.9 338.3h0M357.2 357.8h0M362.4 350.0h0M316.8 324.6h0M326.5 348.6h0M349.9 353.4h0M356.9 357.6h0M358.2 354.1h0M372.8 357.7h0M377.0 359.5h0M313.6 319.0h0M332.4 342.7h0M370.6 359.3h0M345.0 336.9h0M288.8 312.1h0M339.5 341.1h0M340.6 345.3h0M302.1 325.0h0M308.2 332.3h0M310.8 320.3h0M324.2 343.9h0M319.9 333.0h0M291.5 316.7h0M320.5 321.9h0M339.4 338.2h0M299.5 334.6h0M286.5 318.9h0M351.9 360.2h0M342.1 361.4h0M353.1 340.6h0M358.7 347.0h0M357.3 349.5h0M333.8 331.3h0M291.4 320.7h0M302.2 325.2h0M283.3 302.5h0M349.6 340.6h0M300.5 312.4h0M315.3 323.2h0M287.5 318.7h0M308.4 310.3h0M295.9 320.9h0M341.1 357.6h0M318.6 325.9h0M323.2 339.0h0M293.0 318.2h0M274.2 314.4h0M310.5 322.9h0M317.4 332.7h0M283.0 304.1h0M360.0 356.0h0M316.1 317.6h0M345.3 340.4h0M366.8 353.2h0M321.3 341.5h0M313.6 321.8h0M336.6 332.5h0M295.1 322.9h0M336.9 341.6h0M335.2 336.1h0M291.4 304.1h0M328.6 328.9h0M357.2 342.8h0M316.9 317.1h0M331.3 333.5h0M340.6 350.6h0M348.1 346.0h0M343.6 339.5h0M274.9 318.5h0M365.4 344.6h0M299.3 325.7h0M355.7 344.7h0M354.8 349.8h0M321.2 326.4h0M326.3 347.7h0M282.3 318.8h0M322.5 341.9h0M276.6 318.7h0M368.7 359.3h0M355.8 340.8h0M357.6 350.8h0M331.7 348.1h0M305.0 316.2h0M330.1 327.7h0M334.7 340.0h0M314.4 336.9h0M297.1 318.2h0M344.8 343.4h0M336.7 351.1h0M326.3 341.4h0M315.8 341.5h0M296.1 315.1h0M350.0 340.5h0M317.8 331.3h0M347.8 347.1h0M352.5 357.6h0M347.6 358.7h0M359.0 351.1h0M327.3 330.9h0M328.0 337.5h0M326.7 336.0h0M350.1 340.3h0M361.7 345.5h0M287.2 310.6h0M328.5 347.8h0M342.1 331.4h0M328.6 337.1h0M359.4 363.4h0M328.8 335.9h0M341.7 340.4h0M362.8 350.2h0M328.9 342.3h0M365.8 355.6h0M313.8 334.6h0M299.9 322.0h0M320.6 327.2h0M333.0 341.3h0M261.2 313.3h0M329.6 344.3h0M348.0 340.0h0M325.4 323.5h0M351.8 349.5h0M369.0 363.5h0M343.1 361.6h0M294.8 318.2h0M323.2 328.4h0M325.5 336.8h0M288.0 309.5h0M288.4 301.6h0M283.5 318.4h0M369.7 344.7h0M328.6 331.7h0M347.9 352.3h0M363.7 349.3h0M330.9 318.9h0M325.3 339.6h0M313.3 329.0h0M277.6 308.7h0M334.1 338.2h0M314.4 326.8h0M334.8 347.7h0M367.1 360.0h0M323.0 345.6h0M349.4 337.5h0M294.8 316.1h0M349.4 332.5h0M299.4 324.2h0M281.7 308.6h0M350.8 351.9h0M281.2 307.8h0M314.0 337.6h0M347.6 355.9h0M356.4 348.7h0M346.9 339.7h0M352.2 344.0h0M330.0 342.3h0M296.4 312.5h0M346.8 347.8h0M294.7 331.4h0M341.9 351.1h0M339.5 342.0h0M330.8 332.8h0M330.1 334.7h0M300.5 331.2h0M276.9 310.9h0M377.5 367.2h0M310.4 328.0h0M345.7 349.9h0M362.3 348.8h0M366.2 354.3h0M351.2 352.8h0M372.3 367.2h0M356.6 349.1h0M277.0 308.6h0M288.3 313.1h0M348.8 354.8h0M334.5 347.6h0M329.2 348.1h0M312.7 325.4h0M329.4 334.1h0M309.6 323.0h0M315.2 333.5h0M328.4 346.4h0M320.7 329.0h0M321.5 327.4h0M350.6 354.9h0M322.4 340.7h0M299.9 309.6h0M338.0 340.8h0M311.8 333.7h0M347.7 347.5h0M289.1 327.5h0M284.6 303.0h0M286.9 310.8h0M332.4 340.1h0M326.7 341.5h0M358.6 347.8h0M340.3 354.9h0M372.0 348.8h0M280.2 316.2h0M329.8 335.1h0M347.2 351.4h0M318.5 325.4h0M297.8 320.9h0M287.8 315.1h0M288.2 304.4h0M305.5 325.2h0M295.2 313.0h0M354.1 356.4h0M335.7 346.0h0M304.0 323.1h0M272.9 305.8h0M338.3 333.6h0M316.1 314.8h0M308.2 336.3h0M332.2 354.5h0M362.9 362.7h0M294.3 319.5h0M340.7 341.3h0M358.4 360.5h0M288.9 310.3h0M318.4 336.9h0M371.3 362.7h0M347.5 350.0h0M303.0 328.1h0M354.5 356.2h0M267.6 294.1h0M368.0 359.3h0M281.1 300.1h0M368.3 357.4h0M318.4 333.1h0M307.3 308.7h0M336.1 347.9h0M304.6 320.0h0M288.5 314.4h0M367.3 358.7h0M359.0 367.2h0M338.8 343.8h0M335.9 349.3h0M313.0 322.4h0M337.3 348.1h0M312.6 339.2h0M316.5 323.2h0M299.8 329.6h0M280.0 324.1h0M281.4 317.6h0M316.8 320.3h0M308.4 334.1h0M358.4 349.5h0M331.5 338.7h0M318.9 341.6h0M353.0 348.3h0M333.1 339.4h0M265.2 300.1h0M281.0 319.6h0M358.4 358.7h0M358.8 352.2h0M358.1 350.5h0M312.3 329.9h0M282.2 309.7h0M320.7 332.8h0M329.4 344.0h0M301.3 317.9h0M314.8 327.5h0M347.9 354.5h0M308.2 327.6h0M315.4 316.9h0M350.6 353.8h0M299.4 311.5h0M347.3 345.8h0M362.5 352.3h0M358.5 340.3h0M349.0 345.8h0M330.9 340.8h0M295.5 319.1h0M349.4 336.9h0M358.4 351.7h0M311.7 322.7h0M362.8 352.4h0M356.8 367.2h0M322.9 334.2h0M344.9 343.4h0M350.7 331.9h0M290.9 308.3h0M337.9 344.2h0M325.7 351.4h0M330.6 339.2h0M327.4 343.0h0M298.1 305.9h0M335.7 336.1h0M353.8 348.7h0M338.3 343.8h0M360.2 357.2h0M307.1 325.4h0M364.5 353.8h0M347.0 332.9h0M308.7 335.9h0M331.5 336.9h0M326.4 327.2h0M366.7 339.3h0M297.1 335.0h0M287.9 299.3h0M374.2 354.5h0M341.3 338.2h0M335.5 341.6h0M369.1 357.0h0M337.2 353.5h0M299.6 308.0h0M296.4 302.8h0M281.6 305.8h0M301.4 322.6h0M347.2 340.9h0M371.9 354.0h0M330.7 349.7h0M349.5 338.5h0M354.5 354.0h0M343.4 347.6h0M305.4 322.5h0M291.2 314.5h0M312.3 334.7h0M287.3 314.5h0M309.7 325.4h0M316.4 341.1h0M306.4 316.6h0M290.6 324.4h0M299.6 326.8h0M297.3 331.9h0M306.2 312.3h0M328.9 346.5h0M306.7 320.0h0M348.8 367.2h0M289.4 326.4h0M377.9 365.4h0M364.2 350.6h0M374.5 363.8h0M307.4 327.2h0M329.8 339.3h0M340.1 347.2h0M343.9 356.5h0M303.6 325.7h0M346.1 351.0h0M309.2 322.3h0M340.8 336.7h0M347.0 336.3h0M364.1 364.7h0M322.2 342.4h0M316.7 322.0h0M328.0 341.6h0M325.1 330.8h0M337.3 341.4h0M310.9 324.7h0M336.1 343.1h0M360.9 350.6h0M304.9 343.0h0M301.2 317.0h0M363.4 354.4h0M282.1 305.5h0M278.5 325.5h0M314.0 337.1h0M344.1 348.0h0M288.3 312.5h0M362.6 356.0h0M358.3 350.2h0M329.7 342.5h0M353.6 348.5h0M363.4 367.2h0M259.5 304.7h0M332.1 350.1h0M371.4 356.8h0M342.2 343.7h0M330.7 333.7h0M279.1 311.4h0M371.4 352.2h0M383.8 353.3h0M300.5 319.7h0M280.9 318.6h0M328.7 338.5h0M310.6 334.5h0M314.7 338.6h0M275.3 311.1h0M336.5 347.4h0M274.9 309.9h0M339.7 330.1h0M374.4 353.0h0M338.4 347.7h0M363.8 343.8h0M322.1 337.5h0M368.4 351.8h0M337.5 337.1h0M340.7 342.1h0M295.4 317.2h0M354.6 357.7h0M303.3 320.0h0M278.9 324.8h0M319.2 331.0h0M345.4 340.8h0M362.1 348.6h0M319.8 332.2h0M351.9 361.3h0M299.3 325.8h0M355.2 361.9h0M325.1 336.9h0M368.3 356.8h0M348.6 349.2h0M314.3 327.5h0M338.7 336.7h0M314.7 334.0h0M320.3 327.9h0M324.1 343.7h0M308.8 313.8h0M263.0 314.3h0M366.6 367.2h0M308.3 328.4h0M318.0 339.4h0M342.8 329.6h0M290.0 312.6h0M331.9 331.1h0M277.3 315.6h0M340.0 342.6h0M298.3 323.3h0M376.1 344.5h0M347.6 324.0h0M338.2 325.6h0M284.4 316.2h0M284.0 297.7h0M351.7 335.0h0M356.1 352.7h0M325.6 349.6h0M298.0 319.9h0M333.9 355.0h0M341.0 340.2h0M322.7 327.4h0M341.9 353.4h0M296.9 315.1h0M371.9 341.6h0M297.5 333.8h0M360.6 349.8h0M326.4 344.4h0M362.9 357.6h0M352.1 356.9h0M370.8 355.8h0M313.8 335.2h0M324.1 341.2h0M349.7 351.9h0M282.2 297.6h0M286.2 309.7h0M270.3 289.8h0M310.8 325.8h0M339.4 342.0h0M303.8 326.1h0M355.9 330.1h0M318.5 343.6h0M355.7 347.6h0M330.9 324.0h0M325.4 340.1h0M342.3 347.1h0M322.9 336.5h0M362.8 367.2h0M318.3 326.4h0M371.4 349.6h0M287.6 316.7h0M368.0 361.0h0M348.3 356.9h0M355.6 350.7h0M368.3 349.2h0M303.8 326.6h0M368.1 356.0h0M271.5 307.5h0M265.8 293.0h0M356.3 348.9h0M299.9 321.9h0M303.9 328.0h0M307.0 323.3h0M308.8 333.8h0M302.6 312.8h0M296.5 311.2h0M316.1 312.1h0M347.5 342.5h0M302.4 328.1h0M355.0 354.0h0M378.4 363.6h0M343.3 360.4h0M283.1 316.1h0M339.0 339.1h0M376.3 363.8h0M305.0 324.5h0M337.7 335.2h0M279.0 303.6h0M277.8 314.6h0M288.0 314.0h0M349.4 349.3h0M356.4 340.0h0M340.2 343.1h0M321.9 323.1h0M284.0 314.3h0M317.4 329.2h0M307.5 337.4h0M294.3 312.3h0M309.6 337.8h0M368.7 363.6h0M280.4 312.1h0M341.4 341.5h0M309.6 349.3h0M336.8 337.9h0M299.0 323.5h0M309.0 333.8h0M295.3 320.8h0M318.6 338.1h0M362.8 367.2h0M296.4 322.6h0M292.6 306.7h0M349.0 333.8h0M375.8 361.5h0M313.0 330.1h0M310.5 340.9h0M298.3 320.8h0M356.7 345.3h0M319.0 336.1h0M366.2 338.8h0M320.7 351.7h0M356.0 361.3h0M307.3 325.0h0M330.4 328.9h0M325.9 328.6h0M308.9 328.1h0M305.7 320.9h0M350.9 362.4h0M326.5 344.9h0M320.5 322.8h0M304.0 320.0h0M304.5 314.9h0M346.9 358.1h0M306.5 321.1h0M288.6 310.7h0M311.1 316.5h0M307.0 322.7h0M327.5 331.5h0M367.3 349.0h0M364.3 354.8h0M333.7 338.3h0M307.2 332.7h0M291.7 324.1h0M297.1 327.0h0M325.2 342.2h0M305.2 342.0h0M352.5 351.7h0M316.8 340.5h0M346.0 350.8h0M325.6 347.1h0M304.4 316.4h0M315.2 321.5h0M310.9 331.6h0M339.0 350.5h0M303.2 336.9h0M359.9 362.8h0M321.2 326.7h0M333.4 328.8h0M355.3 338.0h0M297.7 317.9h0M269.4 307.1h0M310.7 337.9h0M304.8 339.0h0M312.4 327.4h0M314.6 340.4h0M312.0 326.3h0M374.0 361.7h0M351.3 342.2h0M378.3 355.2h0M363.0 367.2h0M365.8 354.0h0M371.1 354.5h0M303.2 311.7h0M299.9 333.4h0M285.4 310.7h0M351.6 337.6h0M315.7 343.0h0M327.2 343.6h0M356.3 341.7h0M355.6 349.0h0M361.4 360.0h0M325.2 326.3h0" stroke="#4A55A6" stroke-width="2.0" stroke-linecap="round" fill="none" opacity="1"/>
<path d="M307.1 314.6h0M309.2 325.2h0M313.1 334.0h0M379.5 365.3h0M333.9 344.6h0M312.2 325.9h0M352.3 360.2h0M371.1 342.1h0M305.3 334.4h0M335.5 332.4h0M351.9 336.5h0M306.2 309.1h0M285.2 316.7h0M327.5 341.7h0M329.5 335.5h0M317.1 323.6h0M317.8 332.8h0M289.5 323.5h0M372.4 367.2h0M335.8 347.0h0M368.7 363.2h0M354.6 346.6h0M335.0 343.3h0M357.6 352.9h0M338.2 347.3h0M324.5 320.9h0M362.9 354.4h0M377.1 357.1h0M285.1 321.0h0M354.5 355.8h0M290.1 317.5h0M302.1 317.0h0M302.0 324.7h0M315.8 334.4h0M296.9 317.2h0M309.6 329.6h0M269.1 314.1h0M343.6 348.1h0M323.0 325.8h0M373.1 354.6h0M356.7 352.7h0M305.4 341.2h0M321.6 341.4h0M345.1 348.4h0M297.0 328.7h0M280.6 311.5h0M363.6 352.9h0M300.1 318.4h0M345.2 342.3h0M324.2 337.7h0M359.9 363.7h0M312.5 336.3h0M358.2 342.5h0M345.2 360.1h0M278.1 311.8h0M328.0 339.6h0M371.7 363.6h0M306.1 326.5h0M356.2 360.4h0M354.4 361.5h0M347.0 353.0h0M349.9 330.5h0M302.3 335.1h0M299.6 317.6h0M340.7 345.9h0M317.3 327.3h0M343.0 364.5h0M364.1 352.4h0M339.1 326.8h0M344.5 344.0h0M279.7 312.6h0M300.8 324.9h0M307.3 324.9h0M325.2 334.9h0M289.0 303.2h0M365.2 356.5h0M357.0 367.2h0M303.8 319.5h0M362.6 355.7h0M362.6 363.0h0M328.6 343.7h0M354.8 352.2h0M331.2 346.5h0M349.8 354.9h0M309.7 330.1h0M352.1 345.6h0M362.7 366.5h0M351.7 336.8h0M275.1 305.6h0M363.6 347.4h0M322.1 322.8h0M306.7 313.5h0M341.5 342.0h0M368.0 346.7h0M304.8 313.4h0M375.2 357.3h0M292.3 297.9h0M358.4 363.4h0M344.3 363.6h0M322.0 329.3h0M338.0 330.9h0M313.7 328.9h0M329.6 322.7h0M279.6 314.7h0M336.8 333.8h0M297.8 312.0h0M316.5 334.5h0M314.6 328.7h0M324.9 325.8h0M341.3 329.4h0M309.4 326.1h0M329.4 331.9h0M344.0 357.3h0M367.1 348.4h0M356.7 367.2h0M310.0 337.6h0M331.4 336.7h0M340.6 342.4h0M341.5 343.7h0M285.4 315.3h0M321.4 317.0h0M294.3 318.1h0M316.6 328.4h0M275.1 308.4h0M313.8 331.0h0M298.0 320.8h0M322.2 344.9h0M345.3 343.5h0M321.0 340.6h0M368.0 352.2h0M297.6 324.8h0M269.1 312.6h0M289.9 312.1h0M373.7 362.9h0M349.5 342.9h0M343.6 344.7h0M307.2 347.1h0M327.2 336.5h0M291.8 330.9h0M345.8 335.7h0M340.6 367.2h0M321.3 323.0h0M307.6 332.4h0M343.3 357.9h0M296.5 327.5h0M275.7 308.0h0M286.0 315.5h0M339.3 351.3h0M373.1 361.7h0M345.7 338.6h0M358.8 354.9h0M292.3 327.9h0M311.4 338.0h0M284.9 314.2h0M300.7 312.0h0M342.8 340.2h0M338.9 335.0h0M313.3 330.1h0M315.3 333.3h0M360.2 344.7h0M328.1 341.1h0M353.0 351.3h0M347.7 348.9h0M289.8 319.9h0M346.3 365.1h0M369.3 361.2h0M267.1 318.2h0M315.0 327.7h0M366.6 351.2h0M317.0 339.7h0M339.9 354.9h0M297.0 297.3h0M304.2 324.4h0M326.2 339.2h0M266.2 304.8h0M342.2 344.9h0M319.9 329.6h0M357.8 355.9h0M333.9 343.1h0M346.0 347.8h0M355.2 342.9h0M271.6 299.2h0M350.7 343.4h0M338.1 347.3h0M334.9 352.6h0M309.5 324.2h0M339.2 354.1h0M291.1 309.3h0M348.2 346.6h0M355.9 358.2h0M355.5 357.0h0M341.8 345.8h0M358.9 343.3h0M306.1 322.2h0M319.7 355.9h0M343.7 348.4h0M337.3 329.4h0M311.4 337.2h0M320.1 341.4h0M316.8 341.0h0M320.7 335.8h0M275.6 300.7h0M298.4 315.5h0M355.6 367.2h0M315.9 325.2h0M348.8 329.4h0M291.3 321.8h0M349.9 356.0h0M322.2 346.8h0M326.9 326.3h0M283.6 317.2h0M367.8 351.8h0M362.2 351.9h0M358.5 356.4h0M371.3 359.4h0M353.7 366.8h0M356.5 353.3h0M350.2 352.8h0M337.5 347.6h0M327.8 338.7h0M339.3 344.9h0M337.6 350.7h0M310.1 320.9h0M367.4 357.4h0M371.2 354.3h0M302.5 333.3h0M361.1 353.0h0M301.3 328.4h0M291.5 290.2h0M296.7 316.8h0M303.8 338.9h0M345.2 350.3h0M343.1 333.1h0M326.0 346.2h0M352.4 344.6h0M274.4 316.6h0M310.4 332.2h0M327.3 345.3h0M304.7 336.2h0M348.9 349.2h0M356.2 350.2h0M325.0 340.7h0M327.5 347.0h0M342.0 347.3h0M288.8 312.8h0M335.7 340.0h0M282.5 307.1h0M315.9 341.6h0M346.1 350.6h0M337.9 328.7h0" stroke="#F0672B" stroke-width="2.2" stroke-linecap="round" fill="none" opacity="1"/>
<path d="M322.5 334.1h0M320.8 328.8h0M354.6 366.0h0M332.8 343.1h0M334.7 334.1h0M347.8 355.0h0M326.4 332.7h0M310.0 310.4h0M292.9 300.3h0M340.3 336.9h0M314.5 336.1h0M319.5 316.9h0M335.1 326.9h0M345.5 337.1h0M333.5 347.0h0M324.8 337.7h0M359.4 346.7h0M367.5 367.2h0M330.1 334.3h0M272.5 312.3h0M281.1 317.4h0M306.8 316.9h0M323.0 334.9h0M303.8 329.4h0M300.2 317.4h0M320.5 338.0h0M328.7 330.9h0M367.3 350.5h0M339.3 333.4h0M370.4 353.9h0M289.9 325.8h0M354.4 348.4h0M302.6 315.3h0M324.3 332.4h0M276.1 317.5h0M320.8 320.6h0M292.8 297.9h0M306.1 330.3h0M292.0 315.7h0M337.2 336.2h0M339.4 335.8h0M340.3 345.8h0M312.6 326.6h0M335.9 328.9h0M280.7 327.6h0M323.6 328.7h0M328.9 335.6h0M336.8 333.0h0M346.8 344.1h0M343.9 323.0h0M344.4 347.4h0M278.3 311.2h0M295.1 331.0h0M307.5 327.7h0M300.1 330.0h0M284.3 324.5h0M337.7 348.8h0M351.9 343.2h0M313.0 326.7h0M311.6 329.8h0M342.7 344.2h0M309.3 330.5h0M361.9 346.6h0M301.9 327.0h0M363.7 343.4h0M269.9 311.8h0M368.0 363.0h0M335.6 351.7h0M337.4 342.7h0M343.2 332.2h0M285.8 311.3h0M346.8 341.8h0M360.2 344.2h0M324.0 354.0h0M307.2 316.1h0M348.5 358.0h0M332.2 335.9h0M358.1 343.8h0M314.4 340.2h0M267.5 310.6h0M294.7 326.4h0M340.4 338.1h0M350.3 345.4h0M281.1 298.9h0M351.5 347.4h0M347.7 351.1h0M334.1 330.0h0M368.3 359.6h0M334.6 340.9h0M331.9 348.4h0M366.4 358.8h0M354.3 354.1h0M321.3 329.4h0M307.5 324.5h0M325.0 343.7h0M368.4 348.8h0M376.6 359.7h0M320.5 323.9h0M308.7 331.9h0M274.4 316.9h0M319.3 338.6h0M294.5 329.7h0M317.8 331.0h0M296.1 325.0h0M312.1 329.0h0M361.7 348.2h0M348.1 344.3h0M361.9 343.2h0M368.7 359.3h0M313.1 324.1h0M293.7 309.2h0M353.0 352.5h0M349.9 348.9h0M288.9 319.2h0M322.7 333.0h0M279.6 312.7h0M373.1 355.4h0M298.6 327.8h0M360.3 360.4h0M355.0 341.2h0M294.9 324.8h0M329.5 331.3h0M305.7 318.2h0M326.5 342.6h0M369.5 353.0h0M327.1 337.6h0M263.7 318.7h0M361.3 345.8h0M356.8 354.8h0M343.3 345.7h0M275.7 297.8h0M358.6 353.8h0M324.0 319.1h0M287.2 317.9h0M303.0 313.9h0M293.1 319.5h0M351.7 363.7h0M345.0 338.3h0M282.5 308.2h0M313.5 323.9h0M299.8 323.4h0M329.4 326.5h0M327.2 328.8h0M365.0 350.3h0M351.9 357.3h0M323.7 322.8h0M304.1 339.1h0M285.6 323.2h0M352.5 351.8h0M343.0 350.4h0M303.9 318.3h0M366.7 360.3h0M352.0 362.4h0M335.2 344.5h0M368.2 360.1h0M365.0 356.2h0M294.1 322.7h0M312.7 339.4h0M328.7 339.6h0M302.5 328.2h0M360.7 359.7h0M275.4 307.7h0M359.8 355.8h0M353.0 352.8h0M346.2 358.7h0M322.3 338.4h0M359.2 354.1h0M330.0 325.9h0M340.1 343.0h0M364.6 340.1h0M349.7 353.9h0M300.5 320.4h0M356.8 351.8h0M307.4 316.4h0M328.5 359.1h0M354.7 355.2h0M280.1 311.9h0M291.7 326.9h0M324.0 333.9h0M335.0 322.0h0M359.7 353.1h0M352.9 343.5h0M336.8 349.1h0M331.9 335.0h0M294.1 326.5h0M358.7 349.5h0M359.0 367.2h0M327.0 338.8h0M295.5 317.6h0M346.9 350.5h0M289.8 301.7h0M295.5 316.8h0M365.2 367.2h0M376.0 358.4h0M312.9 321.3h0M328.0 347.0h0M350.5 348.4h0M348.5 343.4h0M333.9 338.7h0M293.5 323.2h0M330.1 340.7h0M317.0 323.6h0M275.5 322.9h0M354.6 367.2h0M335.5 346.0h0M293.0 324.3h0M342.1 355.9h0M347.9 354.5h0M339.3 366.5h0M286.2 304.2h0M332.1 344.1h0M361.4 341.5h0M358.2 355.5h0M332.4 352.3h0M332.4 336.2h0M350.7 352.3h0M304.8 316.4h0M334.1 346.3h0M292.1 323.8h0M323.4 327.9h0M354.2 339.7h0M300.6 335.8h0M332.1 333.2h0M317.3 327.5h0M304.4 318.3h0M330.3 342.3h0M339.0 346.0h0M325.4 353.4h0M342.2 346.8h0M364.0 345.8h0M362.5 358.0h0M362.7 351.5h0M326.2 332.1h0M314.2 331.8h0M375.2 351.6h0M356.3 342.7h0M327.8 333.3h0M364.1 338.7h0M295.1 316.9h0M330.2 355.5h0M309.3 314.3h0M379.9 365.8h0M351.6 358.4h0M346.0 348.9h0M382.0 360.6h0M338.4 341.1h0M340.6 345.1h0M359.7 361.4h0M292.6 306.1h0M331.7 342.7h0M370.6 361.5h0M288.7 317.3h0M326.0 336.4h0M320.4 330.1h0M312.2 328.5h0M272.2 295.6h0M267.7 303.6h0M330.5 347.1h0M307.7 311.7h0M366.3 358.1h0M335.4 339.1h0M345.5 341.3h0M371.4 360.8h0M285.9 317.2h0M269.8 311.6h0M299.7 325.3h0M300.3 316.5h0M352.0 352.2h0M358.9 349.5h0M351.0 344.2h0M298.0 326.3h0M338.5 344.0h0M353.9 357.4h0M355.6 350.7h0M287.6 309.1h0M297.5 322.3h0M323.1 326.9h0M331.7 352.8h0M320.3 335.0h0M318.9 327.5h0M289.0 309.4h0M287.6 316.1h0M288.0 317.1h0M315.1 327.0h0M320.5 329.0h0M296.6 336.6h0M334.9 335.3h0M352.9 349.6h0M295.5 317.1h0M354.1 344.4h0M308.8 335.1h0M288.8 322.6h0M318.7 326.9h0M331.8 346.1h0M346.3 357.0h0M315.4 329.0h0M304.5 329.2h0M287.2 303.4h0M341.4 327.8h0M322.4 330.0h0M324.5 333.3h0M294.9 322.3h0M356.5 366.9h0M337.6 329.7h0M341.4 354.0h0M341.1 347.4h0M290.3 325.2h0M368.4 358.8h0M352.5 356.1h0M307.9 325.1h0M323.1 338.2h0M338.4 342.5h0M309.6 309.8h0M285.7 307.3h0M320.6 333.1h0M315.9 322.5h0M335.9 348.5h0M319.5 336.6h0M319.4 317.1h0M330.4 329.3h0M315.2 327.6h0M328.6 332.8h0M333.1 347.0h0M349.7 342.1h0M281.9 317.7h0M353.3 351.7h0M340.6 325.3h0M276.1 315.6h0M282.3 294.5h0M287.5 313.3h0M342.1 353.5h0M331.4 348.8h0M297.1 318.7h0M318.8 336.3h0M315.0 322.9h0M352.4 347.7h0M357.0 349.3h0M317.6 336.8h0M295.6 311.9h0M361.7 356.9h0M354.0 357.0h0M292.7 322.5h0M312.1 346.6h0M322.3 328.1h0M277.2 299.6h0M359.9 360.3h0M362.4 357.9h0M282.5 307.0h0M320.7 336.7h0M350.9 342.1h0M285.0 295.1h0M372.1 358.0h0M319.4 328.5h0M348.2 342.8h0M303.9 329.5h0M301.6 324.8h0M293.6 315.6h0M306.5 315.5h0M373.8 359.4h0M345.3 347.5h0M376.0 354.3h0M306.8 335.0h0M297.5 319.8h0M286.3 301.5h0M346.0 347.2h0M307.7 338.5h0M368.3 347.2h0M320.8 335.7h0M324.6 351.3h0M353.6 360.3h0M345.9 351.0h0M367.2 347.3h0M311.2 319.7h0M365.3 360.0h0M332.0 329.1h0M320.3 338.3h0M335.6 345.3h0M339.3 348.4h0M323.3 334.5h0M326.2 346.7h0M364.2 350.0h0M300.9 319.7h0M338.2 340.4h0M364.4 362.5h0M313.4 334.8h0M339.9 343.8h0M336.4 339.0h0M323.0 326.7h0M317.5 341.5h0M299.6 323.9h0M345.5 353.8h0M274.3 297.8h0M340.7 345.3h0M279.4 310.7h0M350.9 331.6h0M307.4 323.6h0M273.3 311.7h0M355.2 362.4h0M327.9 344.1h0M264.8 300.3h0M313.6 328.2h0M293.8 302.0h0M325.7 336.4h0M293.6 315.7h0M307.6 327.7h0M307.7 339.7h0M368.5 348.2h0M352.2 344.3h0M306.2 321.2h0M282.1 308.9h0M330.5 342.2h0M335.0 357.4h0M317.4 316.7h0M359.6 337.6h0M363.9 360.1h0M313.6 336.8h0M265.9 313.4h0M362.3 351.6h0M280.3 305.2h0M315.2 329.8h0M337.1 347.4h0M334.2 350.4h0M347.3 324.6h0M331.3 336.8h0M303.7 315.8h0M355.0 348.7h0M373.9 341.3h0M309.2 331.7h0M277.6 296.0h0M360.1 365.5h0M297.4 320.6h0M365.6 363.4h0M357.6 361.8h0M288.6 309.8h0M366.7 336.1h0M284.4 312.3h0M359.9 357.8h0M353.4 344.8h0M297.2 327.9h0M341.7 342.1h0M341.7 348.0h0M340.7 345.4h0M281.7 318.1h0M286.6 317.8h0M361.1 349.9h0M321.7 339.8h0M320.5 331.3h0M315.3 336.9h0M277.3 294.2h0M345.5 340.2h0M331.5 348.0h0M290.7 322.9h0M317.2 342.0h0M308.1 315.1h0M331.1 341.1h0M303.8 321.8h0M364.9 361.2h0M283.3 320.1h0M341.0 341.5h0M351.6 361.9h0M350.0 344.9h0M315.6 330.9h0M315.5 335.6h0M294.4 318.1h0M275.4 306.1h0M302.7 320.0h0M273.4 300.8h0M325.4 326.0h0M310.5 330.9h0M319.4 321.1h0M312.9 337.3h0M381.1 352.8h0M297.5 314.3h0M324.0 346.2h0M302.4 328.7h0M270.2 305.5h0M317.0 326.4h0M299.8 327.1h0M311.6 314.5h0M263.9 308.1h0M312.5 324.7h0M370.0 353.8h0M346.2 343.2h0M357.8 363.0h0M333.7 334.2h0M344.9 356.2h0M335.5 339.0h0M303.1 307.2h0M328.1 333.4h0M369.0 341.1h0M332.0 334.1h0M317.2 323.5h0M358.3 358.9h0M314.9 326.2h0M343.3 344.0h0M266.6 316.0h0M376.6 360.7h0M279.4 314.8h0M339.7 338.3h0M295.7 333.7h0M295.0 331.8h0M312.3 329.2h0M302.2 317.8h0M284.2 323.9h0M364.4 367.2h0M282.2 316.4h0M312.0 332.0h0M326.1 340.0h0M354.4 360.9h0M286.9 325.8h0M369.5 355.2h0M338.6 340.2h0M302.5 322.3h0M291.0 321.5h0M321.1 322.2h0M372.9 352.7h0M287.4 313.0h0M363.4 355.7h0M330.9 336.7h0M261.9 309.1h0M281.9 317.5h0M330.0 350.7h0M326.8 346.8h0M374.5 356.9h0M278.0 319.9h0M282.7 307.2h0M346.6 354.8h0M345.8 348.0h0M311.0 328.6h0M371.8 367.2h0M336.8 347.8h0M297.7 329.5h0M358.1 347.9h0M366.1 348.6h0M332.9 339.4h0M343.2 352.8h0M334.1 320.5h0M340.5 334.9h0M337.7 357.9h0M306.5 314.9h0M332.1 352.5h0M377.3 354.6h0M351.8 357.2h0M305.3 318.9h0M319.1 328.2h0M309.5 334.2h0M284.2 323.8h0M285.3 299.6h0M322.3 334.9h0M330.2 336.0h0M287.3 308.3h0M320.7 337.8h0M313.0 324.7h0M304.6 331.4h0M307.1 332.2h0M363.8 351.0h0M317.3 324.0h0M286.1 306.5h0M294.9 324.9h0M322.8 329.6h0M308.4 328.9h0M279.1 313.4h0M316.4 330.8h0M320.8 350.2h0M353.6 363.0h0M272.6 302.9h0M302.1 316.0h0M286.9 316.3h0M336.9 345.6h0M344.0 335.8h0M362.4 347.4h0M322.9 332.7h0M373.4 364.6h0M343.6 337.5h0M283.8 310.8h0M292.5 316.0h0M290.8 322.3h0M363.1 337.4h0M290.1 318.6h0M350.4 346.5h0M301.4 320.5h0M307.3 319.1h0M330.0 324.3h0M330.9 346.5h0M259.7 310.3h0M303.4 315.6h0M343.7 354.9h0M345.6 340.9h0M310.6 337.4h0M296.3 312.0h0M337.3 346.0h0M350.3 344.4h0M307.4 314.8h0M294.0 326.8h0M337.7 340.2h0M376.3 350.3h0M351.2 341.6h0M335.4 335.6h0M305.7 318.0h0M336.1 346.3h0M363.6 367.1h0M333.6 344.4h0M301.3 323.6h0M350.0 351.2h0M282.1 309.8h0M321.1 334.1h0M348.8 345.9h0M323.6 348.9h0M317.8 325.3h0M304.0 298.5h0M319.7 329.1h0M351.3 357.4h0M364.1 352.8h0M318.3 335.1h0M341.2 335.0h0M317.9 321.5h0M320.3 318.4h0M372.4 352.0h0M326.8 345.7h0M333.3 336.4h0M350.4 344.5h0M348.9 337.3h0M335.6 353.6h0M363.8 358.3h0M327.5 332.3h0M337.0 341.2h0M360.1 352.0h0M333.0 340.3h0M301.9 310.5h0M355.1 347.3h0M323.6 330.7h0M318.5 330.5h0M330.5 337.5h0M287.5 312.9h0M359.5 364.6h0M334.9 334.0h0M335.1 344.9h0M345.2 352.2h0M309.7 333.0h0M323.2 339.2h0M364.8 347.3h0M311.8 336.2h0M279.1 306.7h0M302.1 306.6h0M358.4 344.2h0M350.0 332.6h0M358.6 342.1h0M357.2 354.6h0M338.0 340.0h0M340.0 347.5h0M342.8 326.9h0M303.3 313.5h0M315.6 333.9h0M359.0 348.0h0M320.0 344.4h0M312.4 331.8h0M305.2 317.6h0M309.7 314.3h0M276.7 309.0h0M322.3 326.9h0M327.6 344.6h0M297.2 318.9h0M350.7 338.3h0M277.6 321.6h0M319.8 339.3h0M287.0 314.3h0M321.8 331.8h0M290.8 316.9h0M301.1 332.7h0M294.3 310.9h0M356.3 359.8h0M349.8 351.2h0M356.4 360.6h0M308.2 321.6h0M343.0 350.1h0M295.9 323.7h0M341.8 338.0h0M306.7 329.0h0M368.9 351.7h0M339.6 342.0h0M351.5 328.3h0M364.3 357.0h0M326.8 340.5h0M274.8 308.4h0M333.0 345.6h0M286.6 323.1h0M272.0 305.0h0M303.2 329.8h0M380.0 351.1h0M340.0 349.8h0M327.3 349.3h0M346.2 349.5h0M293.4 309.7h0M331.9 329.7h0M344.1 335.9h0M315.2 332.4h0M353.3 350.4h0M365.9 356.0h0M366.3 358.1h0M337.9 342.3h0M288.4 318.5h0M342.1 342.9h0M305.8 343.9h0M334.8 343.8h0M308.1 308.5h0M316.9 324.7h0M353.6 351.6h0M369.5 348.0h0M322.8 338.4h0M312.0 329.2h0M293.5 319.2h0M310.5 331.7h0M316.4 328.2h0M345.2 357.7h0M303.8 320.8h0M310.2 325.8h0M337.8 344.7h0M298.6 316.6h0M349.9 330.2h0M340.0 334.8h0M327.4 335.2h0M336.5 351.8h0M324.7 332.9h0M370.8 351.3h0M354.3 348.6h0M260.9 304.0h0M346.7 346.1h0M282.9 296.8h0M348.8 344.4h0M376.3 364.0h0M361.4 342.9h0M288.5 317.1h0M315.8 313.8h0M355.2 350.8h0M357.2 367.2h0M297.2 323.9h0M373.4 358.7h0M351.7 352.6h0M299.6 321.3h0M373.3 357.9h0M379.2 364.3h0M318.9 332.6h0M314.6 326.1h0M352.6 363.1h0M345.8 359.4h0M364.3 367.2h0M302.5 332.0h0M354.5 340.6h0M357.2 358.5h0M333.6 347.7h0M344.7 347.7h0M353.3 347.6h0M367.5 352.9h0M303.3 321.7h0M342.6 344.2h0M296.0 315.9h0M354.9 351.3h0M316.6 325.5h0M306.7 337.7h0M346.3 334.5h0M311.8 349.4h0M332.4 346.3h0M349.7 356.7h0M306.8 325.9h0M332.7 358.5h0M336.8 349.4h0M344.5 367.2h0M356.7 361.7h0M346.8 353.4h0M335.1 353.5h0M292.5 321.8h0M321.9 341.9h0M352.7 354.4h0M271.5 311.2h0M327.3 330.3h0M337.6 330.5h0M369.9 362.9h0M341.1 340.6h0M329.6 343.9h0M304.5 317.5h0M332.1 333.4h0M343.4 350.0h0M355.6 357.6h0M337.2 323.4h0M291.0 309.3h0M303.6 318.8h0M329.0 345.9h0M362.8 361.7h0M352.2 357.0h0M359.1 367.2h0M295.9 326.1h0M305.2 309.2h0M295.0 327.8h0M341.8 348.8h0M348.6 351.3h0M332.0 336.0h0M303.5 316.0h0M313.2 331.8h0M329.1 338.4h0M364.6 351.2h0" stroke="#4254A8" stroke-width="2.2" stroke-linecap="round" fill="none" opacity="1"/>
<path d="M361.4 360.3h0M345.4 357.3h0M374.9 358.2h0M368.2 351.4h0M334.3 345.4h0M379.0 337.4h0M363.4 350.6h0M363.3 348.4h0M363.0 346.4h0M341.3 364.5h0M347.2 364.7h0M373.9 351.4h0M354.9 362.5h0M353.0 362.6h0M333.3 336.7h0M374.2 353.8h0M364.1 364.8h0M339.7 350.6h0M397.8 334.2h0M334.7 353.5h0M369.1 342.8h0M344.6 366.4h0M355.2 344.1h0M350.9 360.5h0M336.8 337.4h0M350.6 345.4h0M326.3 364.6h0M331.0 335.4h0M343.4 344.6h0M383.6 357.3h0M358.1 347.6h0M345.2 347.7h0M367.1 349.3h0M387.4 364.0h0M374.9 353.5h0M375.8 355.0h0M369.4 354.0h0M372.7 365.1h0M382.5 364.0h0M347.0 344.9h0M345.5 354.2h0M367.3 363.9h0M362.5 358.2h0M362.4 344.3h0M347.5 344.7h0M380.0 366.1h0M347.4 343.4h0M385.6 367.2h0M366.2 361.0h0M343.4 365.7h0M367.7 349.5h0M348.6 355.4h0M362.2 348.2h0M360.8 351.1h0M359.7 355.5h0M381.6 348.0h0M351.7 353.4h0M349.0 335.5h0M358.7 358.7h0M360.2 345.9h0M342.3 361.2h0M354.8 356.6h0M351.0 335.6h0M371.2 359.9h0M374.2 356.5h0M370.8 367.2h0M358.4 346.3h0M339.6 340.1h0M355.5 346.0h0M342.9 358.6h0M369.3 338.5h0M361.6 365.3h0M374.5 367.0h0M349.8 356.3h0M358.1 350.7h0M329.9 325.8h0M351.6 340.1h0M348.7 352.9h0M354.8 351.2h0M328.2 344.2h0M333.4 338.0h0M354.9 353.6h0M350.1 348.2h0M349.5 360.7h0M374.6 359.5h0M349.8 341.0h0M367.7 350.7h0M339.3 335.5h0M335.7 343.3h0M350.7 349.1h0M337.4 348.1h0M350.9 354.8h0M352.4 337.0h0M332.2 364.7h0M368.9 352.2h0M356.1 350.9h0M355.0 344.3h0M349.2 364.0h0M371.3 359.3h0M355.5 350.8h0M367.8 356.3h0M386.4 363.4h0M362.2 353.2h0M343.8 338.9h0M342.3 343.0h0M343.3 341.8h0M364.5 345.8h0M357.6 355.4h0M345.8 336.0h0M403.1 351.6h0M342.8 364.8h0M354.0 366.0h0M362.5 351.6h0M378.2 336.8h0M377.9 367.2h0M353.8 347.2h0M345.6 315.4h0M356.2 351.8h0M341.4 329.9h0M372.3 361.5h0M364.6 366.9h0M352.2 339.4h0M332.3 332.8h0M330.0 327.2h0M369.5 340.7h0M376.2 328.6h0M341.0 360.3h0M361.0 345.8h0M351.5 356.7h0M352.5 360.7h0M352.2 364.7h0M341.5 348.3h0M350.3 348.7h0M341.2 357.7h0M317.8 332.8h0M327.0 344.0h0M359.6 355.7h0M363.1 352.9h0M347.9 337.1h0M358.7 350.0h0M367.1 345.8h0M349.6 331.4h0M371.5 345.6h0M359.4 347.3h0M379.9 336.3h0M372.8 367.2h0M357.3 351.9h0M370.2 358.7h0M336.8 356.8h0M365.6 359.2h0M360.5 349.0h0M371.8 359.0h0M373.8 362.8h0M348.7 350.0h0M348.0 333.0h0M346.4 361.8h0M350.6 344.2h0M309.5 334.8h0M358.9 344.9h0M333.9 344.9h0M343.3 354.8h0M376.0 349.3h0M360.2 352.0h0M347.5 341.9h0M345.7 341.6h0M346.8 353.2h0M378.8 355.8h0M326.2 345.7h0M333.1 331.4h0M373.0 350.9h0M372.2 366.4h0M343.2 350.9h0M369.6 343.1h0M328.4 362.2h0M343.7 346.6h0M352.1 357.1h0M375.5 363.6h0M331.7 335.9h0M352.9 360.2h0M353.3 348.7h0M355.0 344.4h0M343.6 336.1h0M344.5 346.8h0M364.9 337.6h0M344.4 344.4h0M347.9 335.5h0M359.4 363.5h0M362.0 346.0h0M352.4 356.6h0M360.7 342.2h0M349.3 344.5h0M346.9 341.1h0M363.5 364.1h0M333.3 363.2h0M334.5 327.8h0M342.5 357.0h0M333.1 366.8h0M345.2 349.7h0M378.2 348.1h0M380.8 348.1h0M346.4 339.3h0M372.7 367.2h0M377.5 367.2h0M358.8 357.3h0M383.2 364.4h0M338.0 330.8h0M354.2 346.2h0M359.2 362.6h0M357.3 362.4h0M357.4 352.8h0M346.7 339.0h0M349.0 339.5h0M358.9 328.4h0M334.6 340.1h0M312.9 327.9h0M351.2 345.1h0M340.1 344.2h0M382.6 360.2h0M367.3 353.0h0M342.8 345.2h0M332.3 365.3h0M357.7 363.4h0M362.3 327.7h0M353.4 360.7h0M320.1 348.6h0M358.1 355.3h0M345.6 333.5h0M356.7 343.7h0M336.5 359.5h0M369.3 356.4h0M340.8 348.4h0M356.7 345.6h0M350.7 356.1h0M357.4 337.6h0M384.7 352.2h0M351.9 348.2h0M326.0 343.5h0M375.5 322.0h0M337.8 350.4h0M331.6 343.7h0M379.4 353.2h0M358.7 349.0h0M385.5 353.8h0M373.5 357.0h0M343.1 348.4h0M378.7 363.8h0M334.0 345.4h0M374.1 358.5h0M381.0 355.9h0M369.8 346.7h0M350.9 346.4h0M333.1 299.6h0M322.8 365.8h0M349.4 364.4h0M351.5 356.5h0M335.8 334.9h0M365.2 352.9h0M358.3 364.1h0M356.5 350.9h0M359.6 351.5h0M343.9 339.5h0M334.8 336.7h0M346.4 360.9h0M363.2 351.2h0M341.6 357.6h0M330.2 367.0h0M337.3 330.6h0M358.6 357.6h0M345.4 340.0h0M364.9 351.5h0M374.8 353.3h0M358.9 362.5h0M366.0 352.7h0M343.5 355.1h0M347.9 343.8h0M373.4 352.2h0M357.7 329.4h0M324.1 346.8h0M333.4 341.3h0M384.0 363.1h0M347.1 352.5h0M348.3 340.7h0M348.3 339.4h0M351.0 366.3h0M371.4 357.1h0M360.4 356.4h0M343.3 357.5h0M391.4 367.2h0M352.6 349.1h0M338.5 341.3h0M346.0 334.8h0M349.9 359.3h0M339.9 345.3h0M360.3 363.9h0M367.7 363.0h0M363.2 356.6h0M372.7 359.1h0M382.9 351.6h0M368.2 364.0h0M346.3 356.7h0M320.0 348.7h0M358.0 342.2h0M365.0 344.5h0M344.4 342.1h0M329.5 352.0h0M373.9 331.3h0M366.9 352.7h0M366.9 348.5h0M342.0 354.2h0M356.2 345.3h0M326.2 347.4h0M356.7 348.2h0M352.8 362.5h0M356.0 353.4h0M376.3 361.6h0M331.8 363.0h0M357.4 357.5h0M359.1 343.4h0M331.6 363.9h0M386.1 338.3h0M366.8 339.5h0M332.9 363.5h0M327.0 323.8h0M363.5 362.4h0M342.1 334.8h0M345.4 343.6h0M323.5 344.4h0M361.1 363.7h0M352.7 356.8h0M329.9 359.8h0M396.4 340.2h0M342.6 342.6h0M339.5 359.1h0M359.4 352.7h0M360.7 336.7h0M369.1 350.6h0M361.9 343.5h0M391.8 354.7h0M369.1 362.0h0M369.0 331.0h0M357.7 357.3h0M378.7 335.3h0M342.0 360.9h0M358.7 353.1h0M360.0 360.5h0M355.1 349.5h0M379.7 367.2h0M331.5 343.0h0M364.1 359.8h0M385.1 352.5h0M381.8 367.2h0M380.8 367.2h0M363.0 338.5h0M368.7 346.6h0M373.3 367.2h0M357.3 343.0h0M373.3 363.9h0M344.2 362.8h0M373.9 357.6h0M371.8 365.2h0M340.3 366.3h0M362.6 348.8h0M350.3 360.9h0M333.2 354.3h0M354.3 350.0h0M368.9 349.4h0M341.3 351.0h0M347.7 359.5h0M362.6 325.2h0M351.5 357.6h0M341.9 363.9h0M352.5 347.2h0M341.5 355.9h0M353.8 360.2h0M341.1 348.5h0M334.8 349.7h0M365.5 360.4h0M365.7 362.1h0M336.5 322.9h0M364.4 349.9h0M393.0 338.0h0M364.0 353.2h0M370.2 357.4h0M351.8 328.8h0M340.4 354.5h0M364.5 357.7h0M362.4 355.5h0M343.1 337.8h0M345.5 340.4h0M341.5 354.8h0M349.2 317.6h0M348.4 345.2h0M341.0 356.4h0M347.5 353.2h0M383.8 366.8h0M330.0 327.1h0M344.3 339.5h0M354.7 360.1h0M354.4 348.5h0M358.1 347.3h0M340.6 346.5h0M363.4 357.6h0M342.8 339.6h0M371.6 347.0h0M346.0 352.7h0M354.2 341.3h0M348.2 332.2h0M343.9 343.9h0M358.1 358.1h0M350.5 336.4h0M393.1 355.6h0M354.7 335.1h0M331.4 342.3h0M337.1 355.3h0M363.5 336.8h0M363.5 358.9h0M356.3 349.4h0M372.0 359.2h0M362.7 350.1h0M355.2 361.0h0M343.0 336.5h0M385.0 350.0h0M339.2 344.9h0M335.5 333.9h0M336.7 339.9h0M339.1 352.3h0M317.3 351.3h0M376.2 367.2h0M333.4 324.8h0M352.7 348.7h0M337.4 346.0h0M343.4 366.5h0M361.5 354.1h0M355.2 366.0h0M354.9 360.2h0M369.3 358.3h0M363.1 351.3h0M357.9 351.6h0M356.0 347.2h0M361.6 363.9h0M363.5 351.4h0M348.6 344.7h0M373.4 346.7h0M337.1 340.1h0M355.2 350.3h0M387.3 363.0h0M344.9 339.7h0M356.5 344.4h0M353.6 344.7h0M332.3 349.4h0M341.0 327.8h0M320.4 314.7h0M356.5 346.6h0M349.3 337.4h0M381.0 345.7h0M347.0 344.2h0M337.4 354.9h0M364.8 361.5h0M352.9 358.5h0M363.0 348.1h0M354.3 358.3h0M373.4 364.2h0M355.2 354.3h0M359.4 342.3h0M382.6 350.7h0M339.9 359.0h0M370.0 332.2h0M331.6 350.7h0M352.6 366.3h0M340.3 332.4h0M354.5 338.8h0M325.9 345.6h0M374.1 367.2h0M365.2 341.5h0M342.9 333.5h0M375.6 355.6h0M355.5 326.1h0M342.4 345.5h0M374.4 341.2h0M337.3 354.5h0M361.2 360.3h0M374.2 355.2h0M354.0 356.3h0M334.5 334.7h0M325.4 361.8h0M357.8 343.0h0M349.7 350.6h0M390.2 352.3h0M347.5 334.7h0M361.5 337.8h0M345.9 330.9h0M359.5 352.1h0M354.4 347.5h0M322.5 338.3h0M376.6 365.2h0M383.3 352.5h0M331.4 321.2h0M363.4 339.9h0M330.6 309.8h0M361.2 349.9h0M340.4 319.0h0M354.2 341.6h0M380.7 366.4h0M367.0 354.2h0M337.0 335.8h0M372.4 364.4h0M320.1 356.3h0M372.0 336.8h0M335.5 347.3h0M369.0 365.4h0M353.3 346.5h0M365.6 350.4h0M340.9 328.0h0M363.2 350.8h0M348.2 337.6h0M362.0 352.9h0M352.3 340.8h0M394.4 342.4h0M356.4 335.8h0M348.0 351.7h0M351.0 336.7h0M348.2 333.1h0M351.1 345.8h0M378.2 363.4h0M342.5 354.0h0M354.0 364.4h0M338.5 361.3h0M357.3 339.4h0M344.7 339.5h0M354.0 356.6h0M355.9 346.4h0M350.5 358.7h0M360.2 362.3h0M359.4 352.7h0M389.6 363.6h0M341.1 362.4h0M334.8 348.2h0M334.0 328.5h0M325.3 325.3h0M333.0 353.1h0M364.2 348.5h0M328.7 344.8h0M347.9 348.6h0M351.2 345.9h0M382.5 367.2h0M360.6 337.1h0M353.2 342.1h0M355.3 342.8h0M344.2 353.6h0M348.5 348.6h0M321.5 327.3h0M317.1 314.2h0M336.8 327.8h0M360.4 343.2h0M357.2 351.7h0M358.3 326.3h0M375.3 350.7h0M351.8 352.6h0M354.6 353.0h0M371.5 356.8h0M341.6 354.3h0M362.5 357.1h0M337.1 362.2h0M333.2 339.4h0M347.5 346.3h0M358.8 355.6h0M340.8 336.7h0M349.8 333.4h0M340.8 329.9h0M346.1 340.5h0M372.6 344.1h0M366.1 352.4h0M373.0 339.9h0M360.9 355.0h0M352.0 320.0h0M342.9 354.0h0M335.6 349.6h0M362.8 363.7h0M372.5 363.3h0M347.1 335.6h0M362.5 358.8h0M365.1 361.1h0M345.0 360.1h0M366.6 357.9h0M327.5 365.7h0M360.7 350.6h0M357.8 359.9h0M347.0 358.7h0M350.9 354.5h0M331.6 330.2h0M340.9 329.3h0M351.9 360.5h0M346.8 349.5h0M364.0 362.7h0M350.9 363.1h0M327.6 346.4h0M387.4 350.9h0M363.5 347.7h0M343.7 346.3h0M348.3 346.9h0M328.7 363.1h0M362.3 339.9h0M374.4 339.7h0M356.1 339.8h0M360.1 354.8h0M362.9 362.7h0M343.6 336.7h0M368.9 362.7h0M344.5 361.2h0M328.8 348.0h0M361.5 355.7h0M357.0 358.9h0M355.3 343.4h0M356.3 349.3h0M312.8 329.4h0M367.9 347.3h0M321.6 351.7h0M389.8 348.6h0M379.7 363.7h0M357.7 359.2h0M364.5 345.0h0M388.7 347.0h0M341.2 339.2h0M352.1 357.3h0M381.8 366.3h0M359.1 342.7h0M309.3 292.2h0M369.4 347.2h0M361.0 365.8h0M345.0 344.5h0M362.9 359.2h0M378.6 363.1h0M300.1 319.9h0M360.5 349.3h0M365.4 355.9h0M343.8 342.2h0M368.1 357.5h0M356.6 340.0h0M351.0 355.0h0M342.4 357.0h0M358.0 365.1h0M346.1 344.9h0M349.7 341.4h0M372.3 359.2h0M337.4 361.8h0M352.1 348.0h0M353.5 343.0h0M351.9 345.0h0M384.1 363.2h0M364.8 364.7h0M352.2 341.7h0M351.6 349.2h0M353.2 364.7h0M320.9 348.3h0M356.6 342.7h0M343.9 350.2h0M339.0 335.4h0M373.1 349.0h0M359.6 352.4h0M336.6 339.3h0M356.9 367.2h0M366.4 356.3h0M363.2 362.8h0M331.5 336.4h0M353.8 366.2h0M364.5 351.4h0M338.2 344.8h0M341.8 363.5h0M356.4 346.4h0M369.5 351.5h0M350.9 337.0h0M360.4 356.5h0M359.6 342.6h0M314.8 310.2h0M366.1 340.4h0M355.5 350.8h0M353.8 341.3h0M384.8 333.8h0M344.5 348.2h0M345.4 349.0h0M361.1 355.7h0M341.4 343.0h0M352.4 357.8h0M312.4 365.4h0M347.4 358.0h0M392.6 362.3h0M339.7 330.0h0M334.2 322.4h0M370.2 360.1h0M345.3 333.6h0M375.4 361.3h0M358.5 339.5h0M326.1 332.1h0M378.6 364.6h0M371.6 367.0h0M360.3 352.7h0M365.9 315.1h0M356.6 358.6h0M360.4 363.9h0M338.8 341.6h0M351.3 357.5h0M372.2 366.6h0M351.3 349.4h0M389.4 367.2h0M362.4 357.1h0M358.3 333.5h0M362.3 325.8h0M344.2 345.2h0M347.0 349.1h0M360.2 343.6h0M341.3 358.7h0M342.2 360.8h0M360.3 344.0h0M312.6 332.1h0M381.5 359.7h0M348.5 351.4h0M330.2 332.3h0M324.8 346.6h0M391.6 361.7h0M363.8 366.9h0M378.1 360.0h0M338.9 360.2h0M350.5 360.6h0M356.0 349.5h0M351.1 348.7h0M358.0 351.2h0M367.3 339.1h0M374.5 356.4h0M347.1 349.5h0M335.4 353.6h0M346.9 339.4h0M351.5 352.5h0M339.2 361.0h0M372.5 356.9h0M366.9 343.7h0M346.1 342.4h0M364.2 357.3h0M342.0 328.0h0M343.2 345.1h0M361.7 349.2h0M347.2 360.8h0M315.3 332.0h0M369.4 362.5h0M370.9 355.3h0M385.1 353.3h0M333.3 353.1h0M375.0 361.3h0M386.0 357.7h0M342.9 356.1h0M383.4 332.8h0M359.0 349.0h0M386.5 361.0h0M357.9 336.3h0M352.4 342.5h0M342.0 347.9h0M366.2 346.6h0M336.0 340.4h0M375.8 357.6h0M347.1 355.9h0M344.7 360.8h0M349.2 350.0h0M339.4 362.2h0M332.5 323.0h0M355.7 342.6h0M364.9 349.4h0M337.6 366.6h0M371.0 356.4h0M339.5 329.5h0M347.1 342.0h0M337.9 346.8h0M345.0 356.8h0M372.7 357.2h0M343.9 361.7h0M337.7 364.8h0M352.0 337.6h0M363.8 346.8h0M330.4 330.6h0M368.5 344.2h0M345.0 364.3h0M351.5 346.2h0M336.7 339.4h0M387.7 360.9h0M364.8 342.3h0M374.8 339.7h0M359.8 347.6h0M354.9 343.1h0M349.7 362.5h0M339.8 338.1h0M386.2 342.3h0M359.2 349.5h0M350.7 340.3h0M365.9 359.7h0M402.4 315.4h0M370.1 364.6h0M333.7 353.7h0M369.7 353.6h0M399.0 353.1h0M324.2 322.2h0M338.3 338.4h0M341.1 341.1h0M347.2 359.4h0M329.5 333.4h0M351.5 360.2h0M354.8 343.6h0M358.9 347.8h0M340.0 345.6h0M372.2 356.6h0M376.9 354.9h0M376.7 367.2h0M356.4 350.1h0M332.8 361.8h0M353.3 341.1h0M343.1 362.0h0M345.0 359.6h0M361.0 366.9h0M345.2 332.1h0M349.8 354.7h0M365.5 360.8h0M362.8 363.9h0M366.2 331.0h0M381.6 335.5h0M328.8 353.5h0M363.4 367.2h0M351.9 343.4h0M331.3 353.9h0M388.0 367.2h0M365.0 341.9h0M363.7 364.9h0M355.2 357.0h0M340.6 352.5h0M357.8 349.9h0M373.6 367.2h0M364.0 361.7h0M339.7 338.9h0M378.9 339.7h0M339.7 325.2h0M336.5 324.9h0M346.7 338.2h0M348.6 357.6h0M364.3 359.9h0M355.4 352.2h0M360.8 333.9h0M370.8 361.8h0M372.4 355.2h0M346.4 362.5h0M399.4 363.9h0M344.1 333.4h0M355.4 302.4h0M324.5 314.2h0M357.8 326.0h0M341.3 327.6h0M374.0 357.3h0M356.7 322.8h0M346.8 349.2h0M346.9 355.3h0M367.9 342.6h0M379.3 356.1h0M340.8 330.3h0M346.9 358.1h0M328.2 365.3h0M385.4 349.4h0M362.9 357.7h0M343.0 344.5h0M344.1 358.5h0M371.9 349.7h0M376.8 357.6h0M338.8 321.9h0M391.4 330.1h0M348.9 359.1h0M350.6 359.0h0M346.4 360.9h0M348.2 347.4h0M356.9 355.8h0M364.9 347.7h0M354.0 341.3h0M357.0 353.4h0M348.7 297.4h0M356.4 332.4h0M353.1 351.8h0M352.8 346.1h0M373.6 348.9h0M362.0 356.5h0M385.1 363.9h0M356.9 335.5h0M373.3 358.3h0M366.0 360.5h0M356.3 348.0h0M371.4 354.3h0M347.5 341.3h0M357.1 343.4h0M369.9 353.8h0M335.1 359.3h0M378.4 355.6h0M339.5 353.9h0M358.3 351.1h0M381.7 358.3h0M344.0 333.9h0M376.6 345.3h0M366.0 342.9h0M355.5 357.7h0M342.8 357.6h0M354.0 353.0h0M366.9 342.7h0M347.6 362.8h0M383.7 367.2h0M388.5 351.0h0M358.3 356.2h0M361.1 341.3h0M344.6 355.1h0M359.3 363.2h0M369.0 350.4h0M377.7 362.7h0M353.1 347.2h0M360.9 356.5h0M359.1 360.0h0M380.7 366.7h0M375.0 352.2h0M349.0 361.2h0M377.5 330.6h0M341.4 345.3h0M371.4 360.3h0M350.8 321.7h0M347.9 361.3h0M335.9 337.3h0M353.3 355.5h0M369.4 367.2h0M360.7 344.7h0M356.9 367.2h0M342.4 349.9h0M362.4 358.6h0M376.1 367.2h0M373.2 338.7h0M351.6 338.5h0M336.2 352.9h0M387.8 362.0h0M344.6 329.0h0M321.5 353.4h0M329.8 363.6h0M336.0 355.0h0M343.6 334.4h0M354.0 323.0h0M326.0 317.9h0M355.4 342.6h0M355.2 336.3h0M352.6 362.9h0M335.6 353.4h0M344.7 351.1h0M385.4 367.2h0M364.5 357.0h0M353.7 358.3h0M370.9 366.1h0M364.4 351.8h0M341.4 366.1h0M328.7 361.5h0M352.4 358.9h0M380.0 367.2h0M362.2 349.4h0M353.4 364.7h0M340.8 350.8h0M376.6 341.0h0M347.4 356.2h0M367.8 346.3h0M350.8 350.6h0M345.1 357.5h0M347.6 318.9h0M342.0 350.2h0M327.8 363.9h0M354.7 354.4h0M353.6 354.6h0M352.3 345.3h0M367.5 324.3h0M352.6 354.0h0M359.2 357.4h0M344.3 332.5h0M351.5 338.2h0M351.2 327.4h0M336.6 361.0h0M373.6 350.3h0M346.2 359.6h0M344.4 343.7h0M315.5 327.1h0M372.5 341.7h0M365.8 355.6h0M359.1 336.8h0M331.0 331.4h0M362.8 340.0h0M359.8 351.1h0M351.7 339.7h0M331.3 342.9h0M350.8 367.1h0M335.2 355.5h0M331.6 362.2h0M338.5 349.9h0M338.3 343.6h0M375.9 364.2h0M360.1 350.4h0M356.0 349.4h0M341.7 363.9h0M389.9 358.0h0M358.2 350.9h0M385.7 354.2h0M365.0 367.2h0M347.8 360.8h0M327.9 362.7h0M370.4 352.5h0M366.9 360.2h0M375.3 360.9h0M357.5 339.5h0M361.0 359.5h0M334.0 339.9h0M382.5 367.2h0M351.7 339.4h0M373.0 367.2h0M337.8 349.7h0M360.4 348.2h0M374.8 363.2h0M371.1 346.9h0M354.1 349.1h0M366.9 344.2h0M374.6 362.2h0M363.5 322.0h0M354.5 336.2h0M366.6 326.9h0M365.4 361.6h0M333.7 322.1h0M345.8 356.6h0M371.8 364.0h0M324.2 354.5h0M350.0 366.1h0M349.1 340.8h0M333.9 364.7h0M351.7 362.4h0M315.2 322.8h0M340.3 351.3h0M317.8 359.6h0M362.4 345.5h0M382.7 367.2h0M358.8 347.7h0M368.5 347.5h0M361.3 365.6h0M336.5 337.1h0M362.2 345.7h0M344.9 351.3h0M339.0 339.0h0M361.1 352.6h0M354.6 352.1h0M342.2 342.0h0M342.9 345.4h0M366.5 360.5h0M377.0 341.2h0M376.1 367.2h0M363.7 324.1h0M344.2 352.1h0M372.0 367.2h0M358.1 354.0h0M373.9 350.1h0M379.2 358.2h0M379.0 356.2h0M367.5 367.2h0M321.7 353.0h0M308.8 318.7h0M361.5 355.3h0M376.2 366.3h0M354.3 351.1h0M344.7 352.9h0M366.8 347.6h0M369.3 329.8h0M334.0 351.3h0M400.5 359.5h0M344.1 363.8h0M360.6 358.6h0M352.2 334.9h0M366.0 358.2h0M348.0 336.9h0M370.2 359.6h0M364.4 348.4h0M327.8 360.7h0M363.8 350.3h0M353.8 355.2h0M333.5 340.8h0M334.8 339.7h0M368.6 338.2h0M340.4 348.6h0M367.2 367.2h0M328.2 363.8h0M365.6 347.7h0M333.0 329.1h0M360.9 358.3h0M367.3 367.2h0M383.2 363.7h0M338.5 333.9h0M363.4 350.8h0M368.0 364.2h0M369.2 365.4h0M370.8 361.4h0M353.6 337.4h0M353.4 349.2h0M343.3 347.4h0M364.6 352.8h0M343.9 349.7h0" stroke="#4254A8" stroke-width="2.6" stroke-linecap="round" fill="none" opacity="1"/>
<path d="M361.6 342.3h0M382.4 367.2h0M324.2 366.4h0M346.7 357.7h0M357.9 351.3h0M332.6 354.6h0M360.3 348.1h0M343.0 362.7h0M354.3 356.9h0M354.9 354.7h0M348.1 332.9h0M360.2 355.4h0M343.2 345.9h0M375.8 367.2h0M344.3 341.8h0M365.3 351.5h0M322.1 341.3h0M362.3 352.9h0M374.2 342.3h0M362.1 358.6h0M369.2 360.1h0M357.7 334.0h0M347.6 345.2h0M360.4 348.6h0M342.8 361.8h0M367.7 360.6h0M335.5 328.6h0M335.9 341.7h0M315.7 352.9h0M334.8 326.5h0M349.0 353.6h0M335.2 318.3h0M357.4 354.9h0M346.5 362.5h0M358.4 349.7h0M382.5 321.4h0M345.0 364.1h0M334.6 338.5h0M342.5 353.5h0M382.0 367.2h0M331.8 358.0h0M328.7 330.6h0M345.1 343.7h0M360.9 327.1h0M386.2 362.1h0M344.5 342.3h0M337.2 352.5h0M373.2 345.6h0M375.4 357.3h0M366.3 364.1h0M383.6 362.3h0M376.3 362.1h0M352.7 363.1h0M346.2 363.8h0M382.6 333.6h0M341.3 327.5h0M333.6 334.9h0M354.3 342.6h0M351.3 329.5h0M341.8 348.3h0M335.9 359.9h0M376.5 339.3h0M349.7 349.7h0M338.1 355.1h0M377.7 367.2h0M338.4 326.9h0M351.4 350.1h0M360.7 362.6h0M366.7 360.7h0M396.7 367.2h0M337.2 361.8h0M369.7 346.4h0M370.4 351.1h0M377.5 340.5h0M336.5 338.6h0M358.1 350.3h0M369.3 359.0h0M355.5 365.9h0M369.7 366.0h0M369.3 353.3h0M360.1 354.1h0M369.5 364.1h0M374.4 340.3h0M367.7 346.8h0M336.4 335.7h0M364.8 360.3h0M371.7 324.6h0M370.8 350.5h0M365.9 347.7h0M368.1 315.8h0M381.1 347.1h0M370.1 321.6h0M341.9 364.3h0M367.0 355.3h0M386.7 359.5h0M356.1 352.8h0M333.4 355.8h0M363.7 364.1h0M351.7 333.7h0M383.3 367.2h0" stroke="#E87040" stroke-width="1.5" stroke-linecap="round" fill="none" opacity="1"/>
<path d="M496.6 264.2h0M91.6 222.4h0M174.3 274.2h0M184.5 232.9h0M291.2 364.4h0M456.5 263.9h0M336.0 301.8h0M115.0 187.4h0M383.9 335.0h0M389.6 338.2h0M418.8 330.9h0M297.4 290.8h0M432.4 355.3h0M398.2 355.7h0M341.1 238.5h0M186.0 220.3h0M346.3 364.7h0M301.0 353.2h0M345.9 308.9h0M511.7 351.6h0M564.3 297.4h0M322.4 346.3h0M251.4 348.8h0M251.6 351.0h0M289.9 272.6h0M475.0 335.9h0M516.1 304.8h0M278.6 359.4h0M454.8 215.1h0M502.8 251.1h0M486.8 352.7h0M179.8 184.6h0M539.7 233.6h0M82.4 202.4h0M204.1 285.1h0M211.4 310.6h0M593.9 213.3h0M456.9 248.9h0M576.2 235.8h0M366.1 327.5h0M264.5 211.0h0M341.8 356.0h0M566.8 204.0h0M318.9 358.3h0M370.6 225.3h0M418.9 321.0h0M573.2 275.6h0M414.7 348.1h0M209.3 184.9h0M390.0 358.3h0M249.8 233.9h0M250.8 351.1h0M265.0 346.3h0M588.2 301.3h0M192.1 171.4h0M111.9 290.4h0M202.3 333.3h0M391.7 188.3h0M331.1 229.4h0M559.7 279.2h0M132.3 154.3h0M441.5 293.6h0M139.9 308.1h0M389.2 218.4h0M95.4 216.9h0M480.0 286.7h0M455.6 258.4h0M326.4 334.7h0M188.2 246.3h0M184.4 255.2h0M497.4 301.4h0M299.2 310.6h0M354.0 367.2h0M263.3 354.6h0M346.0 356.6h0M97.3 190.4h0M338.8 221.3h0M522.2 172.3h0M270.7 265.8h0M581.7 339.9h0M335.8 346.5h0M173.1 274.1h0M129.8 251.5h0M577.3 310.0h0M484.2 199.7h0M318.6 222.4h0M336.9 297.7h0M179.4 245.9h0M414.5 304.9h0M442.5 359.6h0M156.6 316.7h0M632.4 300.7h0M249.1 192.8h0M168.0 266.5h0M325.8 360.3h0M436.1 308.2h0M605.6 324.7h0M376.2 342.3h0M377.6 360.8h0M199.9 324.5h0M501.2 308.1h0M362.0 334.2h0M624.5 219.0h0M466.8 181.4h0M607.7 324.2h0M469.1 210.3h0M196.7 288.4h0M506.9 352.9h0M560.2 322.9h0M201.5 234.3h0M286.8 210.4h0M408.4 355.3h0M419.1 364.6h0M517.3 212.6h0M506.8 353.0h0M100.4 229.3h0M369.6 302.1h0M233.5 289.1h0M311.3 325.7h0M284.3 229.4h0M322.7 349.8h0M270.1 353.0h0M604.6 304.7h0M481.1 322.0h0M186.4 257.0h0M396.9 282.0h0M252.0 226.8h0M198.5 176.8h0M97.0 293.7h0M429.5 360.6h0M84.7 293.4h0M114.9 268.9h0M496.5 356.3h0M231.8 248.3h0M409.8 362.5h0M478.8 334.1h0M604.1 252.8h0M91.6 256.9h0M326.1 330.0h0M501.7 327.0h0M458.2 248.7h0M266.4 250.9h0M207.5 241.9h0M628.7 254.6h0M358.8 322.3h0M545.1 313.3h0M300.1 266.5h0M627.2 298.1h0M579.9 330.2h0M256.3 268.4h0M503.7 215.4h0M255.1 350.3h0M420.6 306.4h0M517.1 211.0h0M609.6 323.7h0M526.6 347.6h0M430.5 240.4h0M324.4 363.6h0M210.1 189.4h0M527.5 250.3h0" stroke="#7C7596" stroke-width="1.6" stroke-linecap="round" fill="none" opacity="0.9"/>
</g>
<line x1="316.9" y1="96.0" x2="316.9" y2="367.2" stroke="#000" stroke-width="2.2" stroke-dasharray="6.5 4.2"/>
<line x1="397.8" y1="96.0" x2="397.8" y2="367.2" stroke="#000" stroke-width="2.2" stroke-dasharray="6.5 4.2"/>
<line x1="75.3" y1="267.8" x2="641.0" y2="267.8" stroke="#000" stroke-width="2.2" stroke-dasharray="6.5 4.2"/>
<rect x="75.3" y="96.0" width="565.7" height="271.2" fill="none" stroke="#000" stroke-width="1.7"/>
<line x1="62.3" y1="367.2" x2="75.3" y2="367.2" stroke="#000" stroke-width="1.7"/>
<text x="58.3" y="373.7" font-size="25.0" text-anchor="end">0</text>
<line x1="62.3" y1="299.4" x2="75.3" y2="299.4" stroke="#000" stroke-width="1.7"/>
<text x="58.3" y="305.9" font-size="25.0" text-anchor="end">1</text>
<line x1="62.3" y1="231.6" x2="75.3" y2="231.6" stroke="#000" stroke-width="1.7"/>
<text x="58.3" y="238.1" font-size="25.0" text-anchor="end">2</text>
<line x1="62.3" y1="163.8" x2="75.3" y2="163.8" stroke="#000" stroke-width="1.7"/>
<text x="58.3" y="170.3" font-size="25.0" text-anchor="end">3</text>
<line x1="62.3" y1="96.0" x2="75.3" y2="96.0" stroke="#000" stroke-width="1.7"/>
<text x="58.3" y="102.5" font-size="25.0" text-anchor="end">4</text>
<line x1="114.7" y1="367.2" x2="114.7" y2="380.2" stroke="#000" stroke-width="1.7"/>
<text x="114.7" y="400.4" font-size="25.0" text-anchor="middle">-6</text>
<line x1="236.0" y1="367.2" x2="236.0" y2="380.2" stroke="#000" stroke-width="1.7"/>
<text x="236.0" y="400.4" font-size="25.0" text-anchor="middle">-3</text>
<line x1="357.4" y1="367.2" x2="357.4" y2="380.2" stroke="#000" stroke-width="1.7"/>
<text x="357.4" y="400.4" font-size="25.0" text-anchor="middle">0</text>
<line x1="478.8" y1="367.2" x2="478.8" y2="380.2" stroke="#000" stroke-width="1.7"/>
<text x="478.8" y="400.4" font-size="25.0" text-anchor="middle">3</text>
<line x1="600.1" y1="367.2" x2="600.1" y2="380.2" stroke="#000" stroke-width="1.7"/>
<text x="600.1" y="400.4" font-size="25.0" text-anchor="middle">6</text>
<text x="358.0" y="425.6" font-size="25.0" text-anchor="middle">Fold-change <tspan font-style="italic">sir-2.2</tspan> KO over WT [log<tspan font-size="62%" dy="0.1em">2</tspan><tspan dy="-0.1em">&#8203;</tspan>]</text>
<text transform="translate(36.0 232.0) rotate(-90)" font-size="25.0" text-anchor="middle"><tspan font-style="italic">P</tspan> value [-log<tspan font-size="62%" dy="0.1em">10</tspan><tspan dy="-0.1em">&#8203;</tspan>]</text>
<text x="686.7" y="34.6" font-size="36.2" font-weight="bold">b</text>
<path d="M920.0 147.2 L1342.5 147.2" stroke="#2E9D6A" stroke-width="1.15" fill="none" stroke-linejoin="round"/>
<path d="M905.7 186.3 L1105.2 186.3 L1105.7 186.3 L1106.2 186.3 L1106.7 186.3 L1107.2 186.2 L1107.7 186.2 L1108.2 186.2 L1108.7 186.1 L1109.2 186.1 L1109.7 186.0 L1110.2 185.9 L1110.7 185.8 L1111.2 185.6 L1111.7 185.4 L1112.2 185.1 L1112.7 184.8 L1113.2 184.3 L1113.7 183.7 L1114.2 182.9 L1114.7 181.9 L1115.2 180.7 L1115.7 179.2 L1116.2 177.3 L1116.7 175.0 L1117.2 172.2 L1117.7 168.8 L1118.2 164.7 L1118.7 159.9 L1119.2 154.2 L1119.7 147.5 L1120.2 139.7 L1120.7 130.9 L1121.2 120.8 L1121.7 109.7 L1122.2 97.4 L1122.7 84.1 L1123.2 70.0 L1123.7 55.4 L1124.2 40.8 L1124.7 26.8 L1125.2 14.3 L1125.7 4.7 L1126.2 3.9 L1126.7 15.8 L1127.2 32.0 L1127.7 49.8 L1128.2 67.9 L1128.7 85.4 L1129.2 101.5 L1129.7 116.1 L1130.2 128.8 L1130.7 139.8 L1131.2 149.0 L1131.7 156.5 L1132.2 162.7 L1132.7 167.6 L1133.2 171.4 L1133.7 174.4 L1134.2 176.7 L1134.7 178.4 L1135.2 179.8 L1135.7 180.8 L1136.2 181.6 L1136.7 182.3 L1137.2 182.7 L1137.7 183.1 L1138.2 183.4 L1138.7 183.7 L1139.2 183.9 L1139.7 184.0 L1140.2 184.2 L1140.7 184.4 L1141.2 184.5 L1141.7 184.7 L1142.2 184.8 L1142.7 184.9 L1143.2 185.1 L1143.7 185.2 L1144.2 185.3 L1144.7 185.4 L1145.2 185.5 L1145.7 185.6 L1146.2 185.7 L1146.7 185.8 L1147.2 185.9 L1147.7 185.9 L1148.2 186.0 L1148.7 186.0 L1149.2 186.1 L1149.7 186.1 L1150.2 186.0 L1150.7 186.0 L1151.2 185.8 L1151.7 185.4 L1152.2 185.0 L1152.7 184.5 L1153.2 184.1 L1153.7 183.8 L1154.2 183.8 L1154.7 183.9 L1155.2 184.2 L1155.7 184.5 L1156.2 184.9 L1156.7 185.3 L1157.2 185.6 L1157.7 185.8 L1158.2 186.0 L1158.7 186.1 L1159.2 186.2 L1159.7 186.2 L1160.2 186.1 L1160.7 185.9 L1161.2 185.6 L1161.7 185.3 L1162.2 185.3 L1162.7 185.4 L1163.2 185.5 L1163.7 185.6 L1164.2 185.8 L1164.7 185.9 L1165.2 186.0 L1165.7 186.1 L1166.2 186.2 L1166.7 186.2 L1167.2 186.3 L1167.7 186.3 L1327.7 186.3" stroke="#2E3488" stroke-width="1.15" fill="none" stroke-linejoin="round"/>
<path d="M891.8 225.3 L1095.8 225.3 L1096.3 225.3 L1096.8 225.3 L1097.3 225.3 L1097.8 225.2 L1098.3 225.2 L1098.8 225.2 L1099.3 225.1 L1099.8 225.0 L1100.3 224.9 L1100.8 224.8 L1101.3 224.7 L1101.8 224.4 L1102.3 224.2 L1102.8 223.8 L1103.3 223.4 L1103.8 222.8 L1104.3 222.2 L1104.8 221.4 L1105.3 220.4 L1105.8 219.3 L1106.3 217.9 L1106.8 216.4 L1107.3 214.8 L1107.8 212.9 L1108.3 210.9 L1108.8 208.4 L1109.3 204.8 L1109.8 200.8 L1110.3 199.6 L1110.8 204.0 L1111.3 209.9 L1111.8 214.7 L1112.3 218.0 L1112.8 220.3 L1113.3 222.0 L1113.8 223.2 L1114.3 224.0 L1114.8 224.5 L1115.3 224.9 L1115.8 225.1 L1116.3 225.2 L1116.8 225.2 L1117.3 225.3 L1117.8 225.3 L1314.3 225.3" stroke="#E8692D" stroke-width="1.15" fill="none" stroke-linejoin="round"/>
<path d="M878.3 264.6 L1074.8 264.6 L1075.3 264.6 L1075.8 264.6 L1076.3 264.6 L1076.8 264.5 L1077.3 264.5 L1077.8 264.5 L1078.3 264.4 L1078.8 264.4 L1079.3 264.3 L1079.8 264.2 L1080.3 264.1 L1080.8 264.0 L1081.3 263.8 L1081.8 263.5 L1082.3 263.2 L1082.8 262.8 L1083.3 262.2 L1083.8 261.6 L1084.3 260.8 L1084.8 259.8 L1085.3 258.5 L1085.8 256.9 L1086.3 255.1 L1086.8 252.8 L1087.3 250.0 L1087.8 246.7 L1088.3 242.8 L1088.8 238.2 L1089.3 232.8 L1089.8 226.5 L1090.3 219.3 L1090.8 211.1 L1091.3 201.9 L1091.8 191.6 L1092.3 180.3 L1092.8 168.1 L1093.3 155.1 L1093.8 141.5 L1094.3 127.6 L1094.8 113.9 L1095.3 101.1 L1095.8 89.9 L1096.3 81.8 L1096.8 84.4 L1097.3 97.4 L1097.8 114.0 L1098.3 132.0 L1098.8 150.0 L1099.3 167.3 L1099.8 183.2 L1100.3 197.4 L1100.8 209.8 L1101.3 220.5 L1101.8 229.4 L1102.3 236.8 L1102.8 242.8 L1103.3 247.6 L1103.8 251.3 L1104.3 254.2 L1104.8 256.4 L1105.3 258.0 L1105.8 259.2 L1106.3 260.1 L1106.8 260.7 L1107.3 261.2 L1107.8 261.6 L1108.3 261.9 L1108.8 262.1 L1109.3 262.3 L1109.8 262.4 L1110.3 262.5 L1110.8 262.6 L1111.3 262.7 L1111.8 262.8 L1112.3 262.8 L1112.8 262.9 L1113.3 263.0 L1113.8 263.1 L1114.3 263.1 L1114.8 263.2 L1115.3 263.3 L1115.8 263.4 L1116.3 263.4 L1116.8 263.5 L1117.3 263.6 L1117.8 263.7 L1118.3 263.7 L1118.8 263.8 L1119.3 263.9 L1119.8 263.9 L1120.3 264.0 L1120.8 264.0 L1121.3 264.1 L1121.8 264.1 L1122.3 264.2 L1122.8 264.2 L1123.3 264.3 L1123.8 264.3 L1124.3 264.3 L1124.8 264.4 L1125.3 264.4 L1125.8 264.4 L1126.3 264.5 L1126.8 264.5 L1127.3 264.5 L1127.8 264.5 L1128.3 264.5 L1128.8 264.5 L1129.3 264.5 L1129.8 264.6 L1130.3 264.6 L1130.8 264.6 L1131.3 264.6 L1131.8 264.6 L1132.3 264.6 L1305.3 264.6" stroke="#C8235B" stroke-width="1.15" fill="none" stroke-linejoin="round"/>
<path d="M864.0 303.3 L1062.0 303.3 L1062.5 303.3 L1063.0 303.3 L1063.5 303.3 L1064.0 303.2 L1064.5 303.2 L1065.0 303.2 L1065.5 303.1 L1066.0 303.1 L1066.5 303.0 L1067.0 302.9 L1067.5 302.8 L1068.0 302.7 L1068.5 302.4 L1069.0 302.2 L1069.5 301.9 L1070.0 301.4 L1070.5 300.9 L1071.0 300.2 L1071.5 299.4 L1072.0 298.3 L1072.5 297.0 L1073.0 295.4 L1073.5 293.4 L1074.0 291.0 L1074.5 288.2 L1075.0 284.7 L1075.5 280.7 L1076.0 275.9 L1076.5 270.4 L1077.0 264.0 L1077.5 256.7 L1078.0 248.4 L1078.5 239.3 L1079.0 229.2 L1079.5 218.3 L1080.0 206.7 L1080.5 194.6 L1081.0 182.4 L1081.5 170.5 L1082.0 159.6 L1082.5 150.5 L1083.0 145.3 L1083.5 154.0 L1084.0 168.7 L1084.5 185.6 L1085.0 202.9 L1085.5 219.4 L1086.0 234.5 L1086.5 247.7 L1087.0 259.0 L1087.5 268.5 L1088.0 276.1 L1088.5 282.1 L1089.0 286.7 L1089.5 290.2 L1090.0 292.8 L1090.5 294.6 L1091.0 295.9 L1091.5 296.8 L1092.0 297.4 L1092.5 297.9 L1093.0 298.3 L1093.5 298.6 L1094.0 298.9 L1094.5 299.1 L1095.0 299.2 L1095.5 299.4 L1096.0 299.5 L1096.5 299.6 L1097.0 299.7 L1097.5 299.9 L1098.0 300.0 L1098.5 300.1 L1099.0 300.3 L1099.5 300.4 L1100.0 300.6 L1100.5 300.7 L1101.0 300.9 L1101.5 301.0 L1102.0 301.2 L1102.5 301.3 L1103.0 301.5 L1103.5 301.6 L1104.0 301.7 L1104.5 301.9 L1105.0 302.0 L1105.5 302.1 L1106.0 302.2 L1106.5 302.3 L1107.0 302.4 L1107.5 302.5 L1108.0 302.6 L1108.5 302.7 L1109.0 302.8 L1109.5 302.8 L1110.0 302.9 L1110.5 302.9 L1111.0 303.0 L1111.5 303.0 L1112.0 303.1 L1112.5 303.1 L1113.0 303.1 L1113.5 303.1 L1114.0 303.2 L1114.5 303.2 L1115.0 303.2 L1115.5 303.2 L1116.0 303.2 L1116.5 303.2 L1117.0 303.3 L1117.5 303.3 L1118.0 303.3 L1118.5 303.3 L1119.0 303.3 L1119.5 303.3 L1121.5 303.3 L1122.0 303.3 L1122.5 303.2 L1123.0 303.1 L1123.5 302.8 L1124.0 302.4 L1124.5 302.0 L1125.0 301.8 L1125.5 301.9 L1126.0 302.1 L1126.5 302.4 L1127.0 302.7 L1127.5 302.9 L1128.0 303.1 L1128.5 303.2 L1129.0 303.3 L1129.5 303.3 L1287.0 303.3" stroke="#2A2A72" stroke-width="1.65" fill="none" stroke-linejoin="round"/>
<path d="M805.0 342.5 L1044.5 342.5 L1045.0 342.5 L1045.5 342.5 L1046.0 342.5 L1046.5 342.4 L1047.0 342.4 L1047.5 342.4 L1048.0 342.4 L1048.5 342.3 L1049.0 342.2 L1049.5 342.2 L1050.0 342.1 L1050.5 341.9 L1051.0 341.7 L1051.5 341.5 L1052.0 341.2 L1052.5 340.9 L1053.0 340.4 L1053.5 339.8 L1054.0 339.1 L1054.5 338.2 L1055.0 337.1 L1055.5 335.7 L1056.0 334.0 L1056.5 332.0 L1057.0 329.6 L1057.5 326.6 L1058.0 323.1 L1058.5 319.0 L1059.0 314.1 L1059.5 308.4 L1060.0 301.9 L1060.5 294.3 L1061.0 285.7 L1061.5 276.1 L1062.0 265.3 L1062.5 253.4 L1063.0 240.5 L1063.5 226.7 L1064.0 212.2 L1064.5 197.3 L1065.0 182.3 L1065.5 167.7 L1066.0 154.5 L1066.5 143.5 L1067.0 137.3 L1067.5 147.0 L1068.0 163.5 L1068.5 182.8 L1069.0 203.0 L1069.5 222.8 L1070.0 241.5 L1070.5 258.5 L1071.0 273.6 L1071.5 286.7 L1072.0 297.8 L1072.5 307.1 L1073.0 314.8 L1073.5 321.0 L1074.0 326.0 L1074.5 329.9 L1075.0 332.8 L1075.5 335.1 L1076.0 336.7 L1076.5 337.8 L1077.0 338.5 L1077.5 339.0 L1078.0 339.3 L1078.5 339.6 L1079.0 339.8 L1079.5 340.0 L1080.0 340.2 L1080.5 340.3 L1081.0 340.4 L1081.5 340.5 L1082.0 340.6 L1082.5 340.6 L1083.0 340.7 L1083.5 340.8 L1084.0 340.8 L1084.5 340.9 L1085.0 341.0 L1085.5 341.1 L1086.0 341.1 L1086.5 341.2 L1087.0 341.3 L1087.5 341.4 L1088.0 341.4 L1088.5 341.5 L1089.0 341.6 L1089.5 341.7 L1090.0 341.7 L1090.5 341.8 L1091.0 341.9 L1091.5 341.9 L1092.0 342.0 L1092.5 342.0 L1093.0 342.1 L1093.5 342.1 L1094.0 342.2 L1094.5 342.2 L1095.0 342.2 L1095.5 342.3 L1096.0 342.3 L1096.5 342.3 L1097.0 342.3 L1097.5 342.4 L1098.0 342.4 L1098.5 342.4 L1099.0 342.4 L1099.5 342.4 L1100.0 342.4 L1100.5 342.4 L1101.0 342.5 L1101.5 342.5 L1102.0 342.5 L1102.5 342.5 L1103.0 342.5 L1103.5 342.5 L1271.5 342.5" stroke="#555" stroke-width="1.15" fill="none" stroke-linejoin="round"/>
<line x1="805.0" y1="136.8" x2="805.0" y2="343.7" stroke="#000" stroke-width="2"/>
<line x1="804.0" y1="342.7" x2="1271.5" y2="342.7" stroke="#000" stroke-width="2"/>
<line x1="790.0" y1="342.7" x2="805.0" y2="342.7" stroke="#000" stroke-width="2"/>
<text x="787.0" y="352.3" font-size="25.0" text-anchor="end">0</text>
<line x1="790.0" y1="240.2" x2="805.0" y2="240.2" stroke="#000" stroke-width="2"/>
<text x="787.0" y="249.8" font-size="25.0" text-anchor="end">50</text>
<line x1="790.0" y1="137.8" x2="805.0" y2="137.8" stroke="#000" stroke-width="2"/>
<text x="787.0" y="147.4" font-size="25.0" text-anchor="end">100</text>
<line x1="805.0" y1="342.7" x2="805.0" y2="357.7" stroke="#000" stroke-width="2"/>
<text x="805.0" y="382.2" font-size="25.0" text-anchor="middle">0</text>
<line x1="862.0" y1="342.7" x2="862.0" y2="351.7" stroke="#000" stroke-width="2"/>
<line x1="918.9" y1="342.7" x2="918.9" y2="357.7" stroke="#000" stroke-width="2"/>
<text x="918.9" y="382.2" font-size="25.0" text-anchor="middle">2</text>
<line x1="975.9" y1="342.7" x2="975.9" y2="351.7" stroke="#000" stroke-width="2"/>
<line x1="1032.8" y1="342.7" x2="1032.8" y2="357.7" stroke="#000" stroke-width="2"/>
<text x="1032.8" y="382.2" font-size="25.0" text-anchor="middle">4</text>
<line x1="1089.8" y1="342.7" x2="1089.8" y2="351.7" stroke="#000" stroke-width="2"/>
<line x1="1146.7" y1="342.7" x2="1146.7" y2="357.7" stroke="#000" stroke-width="2"/>
<text x="1146.7" y="382.2" font-size="25.0" text-anchor="middle">6</text>
<line x1="1203.7" y1="342.7" x2="1203.7" y2="351.7" stroke="#000" stroke-width="2"/>
<line x1="1260.6" y1="342.7" x2="1260.6" y2="357.7" stroke="#000" stroke-width="2"/>
<text x="1260.6" y="382.2" font-size="25.0" text-anchor="middle">8</text>
<text x="1031.5" y="406.0" font-size="25.0" text-anchor="middle">Time [min]</text>
<text transform="translate(738.5 242.5) rotate(-90)" font-size="25.0" text-anchor="middle">Rel. abundance</text>
<text x="806.0" y="101.3" font-size="23"><tspan font-style="italic">m</tspan>/<tspan font-style="italic">z</tspan> 302.2074</text>
<text x="805.5" y="129.8" font-size="23">(C<tspan font-size="62%" dy="0.0em">14</tspan><tspan dy="-0.0em">&#8203;</tspan>H<tspan font-size="62%" dy="0.0em">28</tspan><tspan dy="-0.0em">&#8203;</tspan>O<tspan font-size="62%" dy="0.0em">4</tspan><tspan dy="-0.0em">&#8203;</tspan>N<tspan font-size="62%" dy="0.0em">3</tspan><tspan dy="-0.0em">&#8203;</tspan><tspan font-size="62%" dy="-0.42em">+</tspan><tspan dy="0.42em">&#8203;</tspan>)</text>
<text x="1344.0" y="144.0" font-size="23" text-anchor="end">OP50 <tspan font-family="DejaVu Sans, sans-serif" font-size="22" dx="-3">↑</tspan><tspan dx="-3.5">×10</tspan></text>
<text x="1335.0" y="183.0" font-size="23" text-anchor="end" font-style="italic">sir-2.4(n5137)</text>
<text x="1322.0" y="222.5" font-size="23" text-anchor="end" font-style="italic">sir-2.3(ok444)</text>
<text x="1307.0" y="261.0" font-size="23" text-anchor="end" font-style="italic">sir-2.2(n5134)</text>
<text x="1295.0" y="301.0" font-size="23" text-anchor="end" font-style="italic">sir-2.1(ok434)</text>
<text x="1221.0" y="339.0" font-size="23" text-anchor="end">WT</text>
<text x="1418.0" y="34.6" font-size="36.2" font-weight="bold">c</text>
<line x1="1587.0" y1="83.8" x2="1587.0" y2="306.3" stroke="#000" stroke-width="1.7"/>
<line x1="1573.5" y1="305.3" x2="1845.5" y2="305.3" stroke="#000" stroke-width="1.7"/>
<line x1="1573.5" y1="305.3" x2="1587.0" y2="305.3" stroke="#000" stroke-width="1.7"/>
<text x="1569.5" y="313.3" font-size="22.5" text-anchor="end">0.0</text>
<line x1="1573.5" y1="195.1" x2="1587.0" y2="195.1" stroke="#000" stroke-width="1.7"/>
<text x="1569.5" y="203.1" font-size="22.5" text-anchor="end">0.5</text>
<line x1="1573.5" y1="84.8" x2="1587.0" y2="84.8" stroke="#000" stroke-width="1.7"/>
<text x="1569.5" y="92.8" font-size="22.5" text-anchor="end">1.0</text>
<line x1="1647.2" y1="305.3" x2="1647.2" y2="319.0" stroke="#000" stroke-width="1.7"/>
<text x="1648.2" y="344.7" font-size="25.0" text-anchor="middle">pellet</text>
<line x1="1782.0" y1="305.3" x2="1782.0" y2="319.0" stroke="#000" stroke-width="1.7"/>
<text x="1783.0" y="344.7" font-size="25.0" text-anchor="middle">media</text>
<line x1="1599.0" y1="253.1" x2="1616.7" y2="253.1" stroke="#000" stroke-width="3.2"/>
<circle cx="1608.2" cy="244.6" r="3.3" fill="#2A2A7A"/>
<circle cx="1602.3" cy="249.6" r="3.3" fill="#2A2A7A"/>
<circle cx="1614.2" cy="248.9" r="3.3" fill="#2A2A7A"/>
<circle cx="1620.0" cy="253.1" r="3.3" fill="#2A2A7A"/>
<circle cx="1608.2" cy="254.5" r="3.3" fill="#2A2A7A"/>
<circle cx="1614.2" cy="259.2" r="3.3" fill="#2A2A7A"/>
<circle cx="1611.1" cy="271.5" r="3.3" fill="#2A2A7A"/>
<line x1="1635.9" y1="262.7" x2="1653.6" y2="262.7" stroke="#000" stroke-width="3.2"/>
<circle cx="1647.9" cy="255.5" r="3.3" fill="#EE6B2D"/>
<circle cx="1639.1" cy="260.2" r="3.3" fill="#EE6B2D"/>
<circle cx="1657.1" cy="262.7" r="3.3" fill="#EE6B2D"/>
<circle cx="1647.9" cy="265.4" r="3.3" fill="#EE6B2D"/>
<circle cx="1647.9" cy="285.0" r="3.3" fill="#EE6B2D"/>
<line x1="1672.7" y1="256.4" x2="1696.8" y2="256.4" stroke="#000" stroke-width="3.2"/>
<circle cx="1675.8" cy="258.8" r="3.3" fill="#6B6B6B"/>
<circle cx="1693.5" cy="253.8" r="3.3" fill="#6B6B6B"/>
<line x1="1733.6" y1="256.9" x2="1757.7" y2="256.9" stroke="#000" stroke-width="3.2"/>
<circle cx="1736.9" cy="245.6" r="3.3" fill="#2A2A7A"/>
<circle cx="1754.6" cy="241.5" r="3.3" fill="#2A2A7A"/>
<circle cx="1754.6" cy="254.2" r="3.3" fill="#2A2A7A"/>
<circle cx="1736.9" cy="259.5" r="3.3" fill="#2A2A7A"/>
<circle cx="1736.9" cy="272.5" r="3.3" fill="#2A2A7A"/>
<circle cx="1754.6" cy="269.7" r="3.3" fill="#2A2A7A"/>
<line x1="1769.7" y1="267.7" x2="1794.5" y2="267.7" stroke="#000" stroke-width="3.2"/>
<circle cx="1791.4" cy="259.9" r="3.3" fill="#EE6B2D"/>
<circle cx="1773.5" cy="264.4" r="3.3" fill="#EE6B2D"/>
<circle cx="1773.5" cy="267.7" r="3.3" fill="#EE6B2D"/>
<circle cx="1773.5" cy="270.8" r="3.3" fill="#EE6B2D"/>
<circle cx="1791.4" cy="267.7" r="3.3" fill="#EE6B2D"/>
<circle cx="1791.4" cy="270.8" r="3.3" fill="#EE6B2D"/>
<line x1="1807.3" y1="260.9" x2="1831.3" y2="260.9" stroke="#000" stroke-width="3.2"/>
<circle cx="1819.3" cy="244.6" r="3.3" fill="#6B6B6B"/>
<circle cx="1819.3" cy="277.2" r="3.3" fill="#6B6B6B"/>
<circle cx="1680.0" cy="91.2" r="3.2" fill="#2A2A7A"/>
<text x="1705.5" y="99.5" font-size="23.1">WT</text>
<circle cx="1680.0" cy="121.0" r="3.2" fill="#EE6B2D"/>
<text x="1705.5" y="129.3" font-size="23.1" font-style="italic">sir-2.3</text>
<circle cx="1680.0" cy="150.8" r="3.2" fill="#6B6B6B"/>
<text x="1705.5" y="159.1" font-size="23.1" font-style="italic">sir-2.2;sir-2.3</text>
<text transform="translate(1453.0 193.7) rotate(-90)" font-size="25.0" text-anchor="middle">Ratio</text>
<text transform="translate(1484.3 193.7) rotate(-90)" font-size="25.0" text-anchor="middle">(earlier/later RT)</text>
<text transform="translate(1514.3 193.7) rotate(-90)" font-size="25.0" text-anchor="middle">(daspid#3/daspid#4)</text>
<text x="1902.6" y="34.8" font-size="36.2" font-weight="bold">d</text>
<path d="M1994.1 47.2 L2003.6 62.7 L1986.8 92.2 L2003.6 121.4 L1994.4 138.2" stroke="#000" stroke-width="1.9" fill="none" stroke-linejoin="miter"/>
<path d="M1994.4 162.4 L2003.6 179.0 L1986.8 208.5 L2003.6 238.0 L1986.8 267.3 L1997.1 285.0" stroke="#000" stroke-width="1.9" fill="none" stroke-linejoin="miter"/>
<text x="1994.3" y="41.2" font-size="23.3" text-anchor="end">H<tspan font-size="75%" dy="0.27em">2</tspan><tspan dy="-0.27em">&#8203;</tspan>N</text>
<text x="1992.6" y="156.2" font-size="23.3" text-anchor="end">HN</text>
<text x="1996.5" y="301.8" font-size="23.3">NH<tspan font-size="75%" dy="0.27em">2</tspan><tspan dy="-0.27em">&#8203;</tspan></text>
<text x="2015.6" y="68.4" font-size="19.8" text-anchor="middle" fill="#3B4B9A">1</text>
<text x="1971.8" y="97.9" font-size="19.8" text-anchor="middle" fill="#3B4B9A">2</text>
<text x="2015.6" y="127.4" font-size="19.8" text-anchor="middle" fill="#3B4B9A">3</text>
<text x="2003.8" y="156.2" font-size="19.8" text-anchor="middle" fill="#3B4B9A">4</text>
<text x="2015.6" y="185.5" font-size="19.8" text-anchor="middle" fill="#3B4B9A">5</text>
<text x="1974.0" y="214.7" font-size="19.8" text-anchor="middle" fill="#3B4B9A">6</text>
<text x="2016.0" y="248.4" font-size="19.8" text-anchor="middle" fill="#3B4B9A">7</text>
<text x="1974.8" y="274.9" font-size="19.8" text-anchor="middle" fill="#3B4B9A">8</text>
<text x="2003.8" y="344.6" font-size="25.0" text-anchor="middle">spermidine</text>
<text x="2004.0" y="372.2" font-size="25.0" text-anchor="middle" font-weight="bold">SPD</text>
<text x="2.0" y="473.6" font-size="36.2" font-weight="bold">e</text>
<line x1="103.2" y1="665.8" x2="491.0" y2="665.8" stroke="#000" stroke-width="3.3" stroke-dasharray="9.3 7.2" stroke-dashoffset="0.7"/>
<rect x="110.9" y="646.1" width="17.0" height="106.3" fill="#F7640A" fill-opacity="0.6"/>
<rect x="177.5" y="655.8" width="17.0" height="96.6" fill="#F7640A" fill-opacity="0.6"/>
<rect x="243.9" y="650.3" width="17.0" height="102.1" fill="#F7640A" fill-opacity="0.6"/>
<rect x="310.1" y="645.7" width="17.0" height="106.7" fill="#F7640A" fill-opacity="0.6"/>
<rect x="376.5" y="639.3" width="17.0" height="113.1" fill="#F7640A" fill-opacity="0.6"/>
<rect x="442.9" y="644.0" width="17.0" height="108.4" fill="#F7640A" fill-opacity="0.6"/>
<rect x="136.1" y="655.2" width="17.0" height="97.2" fill="#6C6C6C" fill-opacity="0.6"/>
<rect x="202.3" y="685.2" width="17.0" height="67.2" fill="#6C6C6C" fill-opacity="0.6"/>
<rect x="268.9" y="660.4" width="17.0" height="92.0" fill="#6C6C6C" fill-opacity="0.6"/>
<rect x="335.1" y="650.3" width="17.0" height="102.1" fill="#6C6C6C" fill-opacity="0.6"/>
<rect x="401.7" y="640.7" width="17.0" height="111.7" fill="#6C6C6C" fill-opacity="0.6"/>
<rect x="467.9" y="650.3" width="17.0" height="102.1" fill="#6C6C6C" fill-opacity="0.6"/>
<line x1="119.4" y1="602.9" x2="119.4" y2="646.1" stroke="#000" stroke-width="3.3"/>
<line x1="115.2" y1="603.9" x2="123.6" y2="603.9" stroke="#000" stroke-width="2.6"/>
<line x1="186.0" y1="620.9" x2="186.0" y2="655.8" stroke="#000" stroke-width="3.3"/>
<line x1="181.8" y1="621.9" x2="190.2" y2="621.9" stroke="#000" stroke-width="2.6"/>
<line x1="252.2" y1="616.9" x2="252.2" y2="650.3" stroke="#000" stroke-width="3.3"/>
<line x1="248.0" y1="617.9" x2="256.4" y2="617.9" stroke="#000" stroke-width="2.6"/>
<line x1="318.6" y1="605.4" x2="318.6" y2="645.7" stroke="#000" stroke-width="3.3"/>
<line x1="314.4" y1="606.4" x2="322.8" y2="606.4" stroke="#000" stroke-width="2.6"/>
<line x1="385.0" y1="600.0" x2="385.0" y2="639.3" stroke="#000" stroke-width="3.3"/>
<line x1="380.8" y1="601.0" x2="389.2" y2="601.0" stroke="#000" stroke-width="2.6"/>
<line x1="451.6" y1="592.9" x2="451.6" y2="644.0" stroke="#000" stroke-width="3.3"/>
<line x1="447.4" y1="593.9" x2="455.8" y2="593.9" stroke="#000" stroke-width="2.6"/>
<line x1="144.6" y1="639.1" x2="144.6" y2="655.2" stroke="#000" stroke-width="3.3"/>
<line x1="140.4" y1="640.1" x2="148.8" y2="640.1" stroke="#000" stroke-width="2.6"/>
<line x1="210.8" y1="637.8" x2="210.8" y2="685.2" stroke="#000" stroke-width="3.3"/>
<line x1="206.6" y1="638.8" x2="215.0" y2="638.8" stroke="#000" stroke-width="2.6"/>
<line x1="277.4" y1="647.2" x2="277.4" y2="660.4" stroke="#000" stroke-width="3.3"/>
<line x1="273.2" y1="648.2" x2="281.6" y2="648.2" stroke="#000" stroke-width="2.6"/>
<line x1="343.6" y1="628.1" x2="343.6" y2="650.3" stroke="#000" stroke-width="3.3"/>
<line x1="339.4" y1="629.1" x2="347.8" y2="629.1" stroke="#000" stroke-width="2.6"/>
<line x1="410.0" y1="581.0" x2="410.0" y2="640.7" stroke="#000" stroke-width="3.3"/>
<line x1="405.8" y1="582.0" x2="414.2" y2="582.0" stroke="#000" stroke-width="2.6"/>
<line x1="476.4" y1="626.1" x2="476.4" y2="650.3" stroke="#000" stroke-width="3.3"/>
<line x1="472.2" y1="627.1" x2="480.6" y2="627.1" stroke="#000" stroke-width="2.6"/>
<circle cx="119.8" cy="597.1" r="3.5" fill="#F26A21"/>
<circle cx="119.8" cy="624.2" r="3.5" fill="#F26A21"/>
<circle cx="119.8" cy="677.8" r="3.5" fill="#F26A21"/>
<circle cx="119.8" cy="686.2" r="3.5" fill="#F26A21"/>
<circle cx="186.2" cy="614.9" r="3.5" fill="#F26A21"/>
<circle cx="186.2" cy="641.1" r="3.5" fill="#F26A21"/>
<circle cx="186.2" cy="678.4" r="3.5" fill="#F26A21"/>
<circle cx="186.2" cy="689.1" r="3.5" fill="#F26A21"/>
<circle cx="252.2" cy="611.6" r="3.5" fill="#F26A21"/>
<circle cx="252.2" cy="634.3" r="3.5" fill="#F26A21"/>
<circle cx="247.2" cy="678.8" r="3.5" fill="#F26A21"/>
<circle cx="257.2" cy="677.8" r="3.5" fill="#F26A21"/>
<circle cx="318.6" cy="596.1" r="3.5" fill="#F26A21"/>
<circle cx="318.6" cy="635.2" r="3.5" fill="#F26A21"/>
<circle cx="318.6" cy="661.4" r="3.5" fill="#F26A21"/>
<circle cx="318.6" cy="689.4" r="3.5" fill="#F26A21"/>
<circle cx="385.0" cy="603.3" r="3.5" fill="#F26A21"/>
<circle cx="379.8" cy="629.4" r="3.5" fill="#F26A21"/>
<circle cx="390.2" cy="630.4" r="3.5" fill="#F26A21"/>
<circle cx="385.0" cy="693.9" r="3.5" fill="#F26A21"/>
<circle cx="451.6" cy="570.4" r="3.5" fill="#F26A21"/>
<circle cx="451.6" cy="656.7" r="3.5" fill="#F26A21"/>
<circle cx="451.6" cy="667.2" r="3.5" fill="#F26A21"/>
<circle cx="451.6" cy="681.7" r="3.5" fill="#F26A21"/>
<circle cx="144.6" cy="639.7" r="3.5" fill="#6A6A6A"/>
<circle cx="144.6" cy="647.4" r="3.5" fill="#6A6A6A"/>
<circle cx="144.6" cy="660.0" r="3.5" fill="#6A6A6A"/>
<circle cx="144.6" cy="674.5" r="3.5" fill="#6A6A6A"/>
<circle cx="210.8" cy="638.3" r="3.5" fill="#6A6A6A"/>
<circle cx="210.8" cy="662.9" r="3.5" fill="#6A6A6A"/>
<circle cx="210.8" cy="697.8" r="3.5" fill="#6A6A6A"/>
<circle cx="210.8" cy="743.6" r="3.5" fill="#6A6A6A"/>
<circle cx="277.4" cy="646.9" r="3.5" fill="#6A6A6A"/>
<circle cx="277.0" cy="655.8" r="3.5" fill="#6A6A6A"/>
<circle cx="277.0" cy="666.2" r="3.5" fill="#6A6A6A"/>
<circle cx="277.0" cy="673.2" r="3.5" fill="#6A6A6A"/>
<circle cx="343.6" cy="618.8" r="3.5" fill="#6A6A6A"/>
<circle cx="338.5" cy="655.6" r="3.5" fill="#6A6A6A"/>
<circle cx="348.6" cy="655.6" r="3.5" fill="#6A6A6A"/>
<circle cx="343.6" cy="670.7" r="3.5" fill="#6A6A6A"/>
<circle cx="410.0" cy="581.0" r="3.5" fill="#6A6A6A"/>
<circle cx="410.0" cy="605.4" r="3.5" fill="#6A6A6A"/>
<circle cx="410.0" cy="662.9" r="3.5" fill="#6A6A6A"/>
<circle cx="410.0" cy="714.2" r="3.5" fill="#6A6A6A"/>
<circle cx="476.4" cy="623.6" r="3.5" fill="#6A6A6A"/>
<circle cx="476.4" cy="643.6" r="3.5" fill="#6A6A6A"/>
<circle cx="476.4" cy="655.8" r="3.5" fill="#6A6A6A"/>
<circle cx="476.4" cy="679.4" r="3.5" fill="#6A6A6A"/>
<text x="501.5" y="674.6" font-size="25.0">WT</text>
<line x1="103.2" y1="490.6" x2="103.2" y2="753.4" stroke="#000" stroke-width="1.8"/>
<line x1="102.2" y1="752.4" x2="494.5" y2="752.4" stroke="#000" stroke-width="1.8"/>
<line x1="88.7" y1="752.4" x2="103.2" y2="752.4" stroke="#000" stroke-width="2"/>
<text x="85.5" y="760.7" font-size="23.5" text-anchor="end">0</text>
<line x1="88.7" y1="665.8" x2="103.2" y2="665.8" stroke="#000" stroke-width="2"/>
<text x="85.5" y="674.1" font-size="23.5" text-anchor="end">1</text>
<line x1="88.7" y1="579.1" x2="103.2" y2="579.1" stroke="#000" stroke-width="2"/>
<text x="85.5" y="587.4" font-size="23.5" text-anchor="end">2</text>
<line x1="88.7" y1="491.6" x2="103.2" y2="491.6" stroke="#000" stroke-width="2"/>
<text x="85.5" y="499.9" font-size="23.5" text-anchor="end">3</text>
<line x1="131.6" y1="752.4" x2="131.6" y2="763.9" stroke="#000" stroke-width="2"/>
<text transform="translate(139.9 779.9) rotate(-45)" font-size="25.0" text-anchor="end">daspid#1</text>
<line x1="197.9" y1="752.4" x2="197.9" y2="763.9" stroke="#000" stroke-width="2"/>
<text transform="translate(206.2 779.9) rotate(-45)" font-size="25.0" text-anchor="end">maspid#1</text>
<line x1="264.3" y1="752.4" x2="264.3" y2="763.9" stroke="#000" stroke-width="2"/>
<text transform="translate(272.6 779.9) rotate(-45)" font-size="25.0" text-anchor="end">maspid#2</text>
<line x1="330.6" y1="752.4" x2="330.6" y2="763.9" stroke="#000" stroke-width="2"/>
<text transform="translate(338.9 779.9) rotate(-45)" font-size="25.0" text-anchor="end">daspid#1</text>
<line x1="397.0" y1="752.4" x2="397.0" y2="763.9" stroke="#000" stroke-width="2"/>
<text transform="translate(405.3 779.9) rotate(-45)" font-size="25.0" text-anchor="end">maspid#1</text>
<line x1="463.4" y1="752.4" x2="463.4" y2="763.9" stroke="#000" stroke-width="2"/>
<text transform="translate(471.7 779.9) rotate(-45)" font-size="25.0" text-anchor="end">maspid#2</text>
<text x="112.8" y="517.8" font-size="25.0"><tspan font-style="italic">exo</tspan>-metabolome</text>
<line x1="117.1" y1="527.4" x2="277.4" y2="527.4" stroke="#000" stroke-width="2.2"/>
<text x="313.4" y="517.8" font-size="25.0"><tspan font-style="italic">endo</tspan>-metabolome</text>
<line x1="315.1" y1="527.4" x2="476.2" y2="527.4" stroke="#000" stroke-width="2.2"/>
<text transform="translate(25.5 621.7) rotate(-90)" font-size="25.0" text-anchor="middle">Fold-change</text>
<text transform="translate(58.0 621.7) rotate(-90)" font-size="25.0" text-anchor="middle">(mutant/wildtype)</text>
<rect x="679.4" y="474.8" width="22.5" height="22.5" fill="#FAA26C"/>
<circle cx="690.9" cy="485.8" r="2.6" fill="#F26A21"/>
<rect x="844.0" y="474.8" width="22.5" height="22.5" fill="#A7A7A7"/>
<circle cx="855.3" cy="485.8" r="2.6" fill="#6A6A6A"/>
<text x="712.2" y="495.0" font-size="25.0" font-style="italic">sir-2.3</text>
<text x="877.6" y="495.0" font-size="25.0" font-style="italic">sir-2.2;sir-2.3</text>
<text x="579.0" y="588.2" font-size="25.0">daspid#1</text>
<text x="630.3" y="611.7" font-size="25.0" text-anchor="middle">(<tspan font-weight="bold">5</tspan>)</text>
<text x="577.0" y="714.2" font-size="25.0">maspid#2</text>
<text x="577.0" y="813.7" font-size="25.0">maspid#1</text>
<path d="M695.0 599.4 L724.2 582.6 L742.7 593.3" stroke="#000" stroke-width="2.0" fill="none" stroke-linejoin="miter"/>
<path d="M764.1 593.3 L782.6 582.6 L811.8 599.4 L841.0 582.6 L859.5 593.3" stroke="#000" stroke-width="2.0" fill="none" stroke-linejoin="miter"/>
<path d="M880.9 593.3 L899.4 582.6 L928.6 599.4 L957.8 582.6 L987.0 599.4 L1005.5 588.7" stroke="#000" stroke-width="2.0" fill="none" stroke-linejoin="miter"/>
<path d="M1026.9 588.7 L1045.4 599.4 L1074.6 582.6" stroke="#000" stroke-width="2.0" fill="none" stroke-linejoin="miter"/>
<line x1="721.2" y1="582.6" x2="721.2" y2="561.2" stroke="#000" stroke-width="2.0"/>
<line x1="727.2" y1="582.6" x2="727.2" y2="561.2" stroke="#000" stroke-width="2.0"/>
<text x="724.2" y="557.1" font-size="22.5" text-anchor="middle">O</text>
<line x1="1048.5" y1="599.4" x2="1048.5" y2="620.8" stroke="#000" stroke-width="2.0"/>
<line x1="1042.4" y1="599.4" x2="1042.4" y2="620.8" stroke="#000" stroke-width="2.0"/>
<text x="1045.4" y="641.1" font-size="22.5" text-anchor="middle">O</text>
<text x="753.4" y="607.0" font-size="22.5" text-anchor="middle">N</text>
<text x="753.4" y="627.5" font-size="22.5" text-anchor="middle">H</text>
<text x="870.2" y="607.0" font-size="22.5" text-anchor="middle">N</text>
<text x="870.2" y="627.5" font-size="22.5" text-anchor="middle">H</text>
<text x="1016.2" y="590.2" font-size="22.5" text-anchor="middle">N</text>
<text x="1016.2" y="569.7" font-size="22.5" text-anchor="middle">H</text>
<path d="M695.0 721.8 L724.2 705.0 L742.7 715.7" stroke="#000" stroke-width="2.0" fill="none" stroke-linejoin="miter"/>
<path d="M764.1 715.7 L782.6 705.0 L811.8 721.8 L841.0 705.0 L859.5 715.7" stroke="#000" stroke-width="2.0" fill="none" stroke-linejoin="miter"/>
<path d="M880.9 715.7 L899.4 705.0 L928.6 721.8 L957.8 705.0 L987.0 721.8 L1005.5 711.1" stroke="#000" stroke-width="2.0" fill="none" stroke-linejoin="miter"/>
<line x1="721.2" y1="705.0" x2="721.2" y2="683.6" stroke="#000" stroke-width="2.0"/>
<line x1="727.2" y1="705.0" x2="727.2" y2="683.6" stroke="#000" stroke-width="2.0"/>
<text x="724.2" y="679.5" font-size="22.5" text-anchor="middle">O</text>
<text x="753.4" y="729.4" font-size="22.5" text-anchor="middle">N</text>
<text x="753.4" y="749.9" font-size="22.5" text-anchor="middle">H</text>
<text x="870.2" y="729.4" font-size="22.5" text-anchor="middle">N</text>
<text x="870.2" y="749.9" font-size="22.5" text-anchor="middle">H</text>
<text x="1008.1" y="712.6" font-size="22.5">NH<tspan font-size="75%" dy="0.27em">2</tspan><tspan dy="-0.27em">&#8203;</tspan></text>
<path d="M764.1 809.9 L782.6 799.2 L811.8 816.0 L841.0 799.2 L859.5 809.9" stroke="#000" stroke-width="2.0" fill="none" stroke-linejoin="miter"/>
<path d="M880.9 809.9 L899.4 799.2 L928.6 816.0 L957.8 799.2 L987.0 816.0 L1005.5 805.3" stroke="#000" stroke-width="2.0" fill="none" stroke-linejoin="miter"/>
<path d="M1026.9 805.3 L1045.4 816.0 L1074.6 799.2" stroke="#000" stroke-width="2.0" fill="none" stroke-linejoin="miter"/>
<text x="761.5" y="823.6" font-size="22.5" text-anchor="end">H<tspan font-size="75%" dy="0.27em">2</tspan><tspan dy="-0.27em">&#8203;</tspan>N</text>
<text x="870.2" y="823.6" font-size="22.5" text-anchor="middle">N</text>
<text x="870.2" y="844.1" font-size="22.5" text-anchor="middle">H</text>
<text x="1016.2" y="806.8" font-size="22.5" text-anchor="middle">N</text>
<text x="1016.2" y="786.3" font-size="22.5" text-anchor="middle">H</text>
<line x1="1048.5" y1="816.0" x2="1048.5" y2="837.4" stroke="#000" stroke-width="2.0"/>
<line x1="1042.4" y1="816.0" x2="1042.4" y2="837.4" stroke="#000" stroke-width="2.0"/>
<text x="1045.4" y="857.7" font-size="22.5" text-anchor="middle">O</text>
<text x="1150.5" y="483.0" font-size="36.2" font-weight="bold">f</text>
<line x1="1262.9" y1="644.6" x2="1915.0" y2="644.6" stroke="#000" stroke-width="3.3" stroke-dasharray="9.3 7.2" stroke-dashoffset="0.7"/>
<rect x="1271.2" y="629.4" width="16.5" height="101.6" fill="#F7640A" fill-opacity="0.6"/>
<rect x="1337.3" y="627.2" width="16.5" height="103.8" fill="#F7640A" fill-opacity="0.6"/>
<rect x="1402.9" y="617.3" width="16.5" height="113.7" fill="#F7640A" fill-opacity="0.6"/>
<rect x="1469.0" y="607.6" width="16.5" height="123.4" fill="#F7640A" fill-opacity="0.6"/>
<rect x="1534.6" y="636.8" width="16.5" height="94.2" fill="#F7640A" fill-opacity="0.6"/>
<rect x="1295.9" y="646.4" width="16.5" height="84.6" fill="#6C6C6C" fill-opacity="0.6"/>
<rect x="1362.0" y="656.2" width="16.5" height="74.8" fill="#6C6C6C" fill-opacity="0.6"/>
<rect x="1427.3" y="640.1" width="16.5" height="90.9" fill="#6C6C6C" fill-opacity="0.6"/>
<rect x="1493.6" y="618.7" width="16.5" height="112.3" fill="#6C6C6C" fill-opacity="0.6"/>
<rect x="1559.4" y="598.5" width="16.5" height="132.5" fill="#6C6C6C" fill-opacity="0.6"/>
<line x1="1279.4" y1="586.9" x2="1279.4" y2="629.4" stroke="#000" stroke-width="3.3"/>
<line x1="1275.2" y1="587.9" x2="1283.6" y2="587.9" stroke="#000" stroke-width="2.6"/>
<line x1="1345.2" y1="577.3" x2="1345.2" y2="627.2" stroke="#000" stroke-width="3.3"/>
<line x1="1341.0" y1="578.3" x2="1349.4" y2="578.3" stroke="#000" stroke-width="2.6"/>
<line x1="1411.1" y1="565.3" x2="1411.1" y2="617.3" stroke="#000" stroke-width="3.3"/>
<line x1="1406.9" y1="566.3" x2="1415.3" y2="566.3" stroke="#000" stroke-width="2.6"/>
<line x1="1476.9" y1="570.1" x2="1476.9" y2="607.6" stroke="#000" stroke-width="3.3"/>
<line x1="1472.7" y1="571.1" x2="1481.1" y2="571.1" stroke="#000" stroke-width="2.6"/>
<line x1="1542.5" y1="622.5" x2="1542.5" y2="636.8" stroke="#000" stroke-width="3.3"/>
<line x1="1538.3" y1="623.5" x2="1546.7" y2="623.5" stroke="#000" stroke-width="2.6"/>
<line x1="1304.2" y1="603.8" x2="1304.2" y2="646.4" stroke="#000" stroke-width="3.3"/>
<line x1="1300.0" y1="604.8" x2="1308.4" y2="604.8" stroke="#000" stroke-width="2.6"/>
<line x1="1369.8" y1="606.8" x2="1369.8" y2="656.2" stroke="#000" stroke-width="3.3"/>
<line x1="1365.6" y1="607.8" x2="1374.0" y2="607.8" stroke="#000" stroke-width="2.6"/>
<line x1="1435.4" y1="603.4" x2="1435.4" y2="640.1" stroke="#000" stroke-width="3.3"/>
<line x1="1431.2" y1="604.4" x2="1439.6" y2="604.4" stroke="#000" stroke-width="2.6"/>
<line x1="1501.5" y1="585.6" x2="1501.5" y2="618.7" stroke="#000" stroke-width="3.3"/>
<line x1="1497.3" y1="586.6" x2="1505.7" y2="586.6" stroke="#000" stroke-width="2.6"/>
<line x1="1567.3" y1="553.5" x2="1567.3" y2="598.5" stroke="#000" stroke-width="3.3"/>
<line x1="1563.1" y1="554.5" x2="1571.5" y2="554.5" stroke="#000" stroke-width="2.6"/>
<circle cx="1279.4" cy="575.7" r="3.5" fill="#F26A21"/>
<circle cx="1274.8" cy="630.2" r="3.5" fill="#F26A21"/>
<circle cx="1284.2" cy="632.7" r="3.5" fill="#F26A21"/>
<circle cx="1279.1" cy="679.8" r="3.5" fill="#F26A21"/>
<circle cx="1344.9" cy="568.2" r="3.5" fill="#F26A21"/>
<circle cx="1344.9" cy="614.2" r="3.5" fill="#F26A21"/>
<circle cx="1344.9" cy="639.3" r="3.5" fill="#F26A21"/>
<circle cx="1344.9" cy="687.2" r="3.5" fill="#F26A21"/>
<circle cx="1411.1" cy="543.8" r="3.5" fill="#F26A21"/>
<circle cx="1406.2" cy="630.7" r="3.5" fill="#F26A21"/>
<circle cx="1416.1" cy="632.4" r="3.5" fill="#F26A21"/>
<circle cx="1410.8" cy="662.9" r="3.5" fill="#F26A21"/>
<circle cx="1472.3" cy="577.0" r="3.5" fill="#F26A21"/>
<circle cx="1481.4" cy="576.7" r="3.5" fill="#F26A21"/>
<circle cx="1476.7" cy="625.8" r="3.5" fill="#F26A21"/>
<circle cx="1476.7" cy="650.5" r="3.5" fill="#F26A21"/>
<circle cx="1537.9" cy="629.9" r="3.5" fill="#F26A21"/>
<circle cx="1547.5" cy="625.8" r="3.5" fill="#F26A21"/>
<circle cx="1547.5" cy="633.2" r="3.5" fill="#F26A21"/>
<circle cx="1542.5" cy="657.2" r="3.5" fill="#F26A21"/>
<circle cx="1304.2" cy="611.2" r="3.5" fill="#6A6A6A"/>
<circle cx="1304.2" cy="621.1" r="3.5" fill="#6A6A6A"/>
<circle cx="1304.2" cy="647.6" r="3.5" fill="#6A6A6A"/>
<circle cx="1304.2" cy="706.2" r="3.5" fill="#6A6A6A"/>
<circle cx="1369.8" cy="600.1" r="3.5" fill="#6A6A6A"/>
<circle cx="1369.8" cy="634.0" r="3.5" fill="#6A6A6A"/>
<circle cx="1369.8" cy="678.5" r="3.5" fill="#6A6A6A"/>
<circle cx="1369.8" cy="711.5" r="3.5" fill="#6A6A6A"/>
<circle cx="1435.4" cy="593.9" r="3.5" fill="#6A6A6A"/>
<circle cx="1435.4" cy="630.6" r="3.5" fill="#6A6A6A"/>
<circle cx="1435.4" cy="660.0" r="3.5" fill="#6A6A6A"/>
<circle cx="1435.4" cy="676.8" r="3.5" fill="#6A6A6A"/>
<circle cx="1501.5" cy="570.4" r="3.5" fill="#6A6A6A"/>
<circle cx="1496.7" cy="628.1" r="3.5" fill="#6A6A6A"/>
<circle cx="1506.3" cy="630.7" r="3.5" fill="#6A6A6A"/>
<circle cx="1501.5" cy="646.3" r="3.5" fill="#6A6A6A"/>
<circle cx="1567.3" cy="541.3" r="3.5" fill="#6A6A6A"/>
<circle cx="1562.7" cy="601.3" r="3.5" fill="#6A6A6A"/>
<circle cx="1572.3" cy="601.3" r="3.5" fill="#6A6A6A"/>
<circle cx="1567.3" cy="651.7" r="3.5" fill="#6A6A6A"/>
<rect x="1600.2" y="612.4" width="16.5" height="118.6" fill="#F7640A" fill-opacity="0.6"/>
<rect x="1665.9" y="648.4" width="16.5" height="82.6" fill="#F7640A" fill-opacity="0.6"/>
<rect x="1732.0" y="618.7" width="16.5" height="112.3" fill="#F7640A" fill-opacity="0.6"/>
<rect x="1797.8" y="611.2" width="16.5" height="119.8" fill="#F7640A" fill-opacity="0.6"/>
<rect x="1863.6" y="632.4" width="16.5" height="98.6" fill="#F7640A" fill-opacity="0.6"/>
<rect x="1625.0" y="629.7" width="16.5" height="101.3" fill="#6C6C6C" fill-opacity="0.6"/>
<rect x="1690.7" y="646.3" width="16.5" height="84.7" fill="#6C6C6C" fill-opacity="0.6"/>
<rect x="1756.5" y="656.3" width="16.5" height="74.7" fill="#6C6C6C" fill-opacity="0.6"/>
<rect x="1822.6" y="643.9" width="16.5" height="87.1" fill="#6C6C6C" fill-opacity="0.6"/>
<rect x="1888.4" y="608.4" width="16.5" height="122.6" fill="#6C6C6C" fill-opacity="0.6"/>
<line x1="1608.4" y1="569.9" x2="1608.4" y2="612.4" stroke="#000" stroke-width="3.3"/>
<line x1="1604.2" y1="570.9" x2="1612.6" y2="570.9" stroke="#000" stroke-width="2.6"/>
<line x1="1674.2" y1="631.0" x2="1674.2" y2="648.4" stroke="#000" stroke-width="3.3"/>
<line x1="1670.0" y1="632.0" x2="1678.4" y2="632.0" stroke="#000" stroke-width="2.6"/>
<line x1="1740.3" y1="574.4" x2="1740.3" y2="618.7" stroke="#000" stroke-width="3.3"/>
<line x1="1736.1" y1="575.4" x2="1744.5" y2="575.4" stroke="#000" stroke-width="2.6"/>
<line x1="1806.1" y1="543.0" x2="1806.1" y2="611.2" stroke="#000" stroke-width="3.3"/>
<line x1="1801.9" y1="544.0" x2="1810.3" y2="544.0" stroke="#000" stroke-width="2.6"/>
<line x1="1871.9" y1="589.7" x2="1871.9" y2="632.4" stroke="#000" stroke-width="3.3"/>
<line x1="1867.7" y1="590.7" x2="1876.1" y2="590.7" stroke="#000" stroke-width="2.6"/>
<line x1="1633.2" y1="593.0" x2="1633.2" y2="629.7" stroke="#000" stroke-width="3.3"/>
<line x1="1629.0" y1="594.0" x2="1637.4" y2="594.0" stroke="#000" stroke-width="2.6"/>
<line x1="1699.0" y1="614.2" x2="1699.0" y2="646.3" stroke="#000" stroke-width="3.3"/>
<line x1="1694.8" y1="615.2" x2="1703.2" y2="615.2" stroke="#000" stroke-width="2.6"/>
<line x1="1764.8" y1="639.3" x2="1764.8" y2="656.3" stroke="#000" stroke-width="3.3"/>
<line x1="1760.6" y1="640.3" x2="1769.0" y2="640.3" stroke="#000" stroke-width="2.6"/>
<line x1="1830.7" y1="632.7" x2="1830.7" y2="643.9" stroke="#000" stroke-width="3.3"/>
<line x1="1826.5" y1="633.7" x2="1834.9" y2="633.7" stroke="#000" stroke-width="2.6"/>
<line x1="1896.5" y1="574.0" x2="1896.5" y2="608.4" stroke="#000" stroke-width="3.3"/>
<line x1="1892.3" y1="575.0" x2="1900.7" y2="575.0" stroke="#000" stroke-width="2.6"/>
<circle cx="1608.4" cy="553.7" r="3.5" fill="#F26A21"/>
<circle cx="1603.6" cy="620.3" r="3.5" fill="#F26A21"/>
<circle cx="1613.4" cy="622.0" r="3.5" fill="#F26A21"/>
<circle cx="1608.4" cy="652.5" r="3.5" fill="#F26A21"/>
<circle cx="1674.2" cy="633.5" r="3.5" fill="#F26A21"/>
<circle cx="1669.2" cy="642.3" r="3.5" fill="#F26A21"/>
<circle cx="1679.2" cy="647.2" r="3.5" fill="#F26A21"/>
<circle cx="1673.9" cy="673.2" r="3.5" fill="#F26A21"/>
<circle cx="1740.0" cy="554.5" r="3.5" fill="#F26A21"/>
<circle cx="1740.0" cy="626.1" r="3.5" fill="#F26A21"/>
<circle cx="1740.0" cy="643.1" r="3.5" fill="#F26A21"/>
<circle cx="1740.0" cy="650.9" r="3.5" fill="#F26A21"/>
<circle cx="1806.1" cy="520.0" r="3.5" fill="#F26A21"/>
<circle cx="1806.1" cy="600.5" r="3.5" fill="#F26A21"/>
<circle cx="1806.1" cy="656.2" r="3.5" fill="#F26A21"/>
<circle cx="1806.1" cy="667.4" r="3.5" fill="#F26A21"/>
<circle cx="1871.9" cy="574.0" r="3.5" fill="#F26A21"/>
<circle cx="1871.9" cy="634.0" r="3.5" fill="#F26A21"/>
<circle cx="1871.9" cy="650.1" r="3.5" fill="#F26A21"/>
<circle cx="1871.9" cy="672.4" r="3.5" fill="#F26A21"/>
<circle cx="1628.3" cy="600.5" r="3.5" fill="#6A6A6A"/>
<circle cx="1638.2" cy="596.8" r="3.5" fill="#6A6A6A"/>
<circle cx="1633.2" cy="654.2" r="3.5" fill="#6A6A6A"/>
<circle cx="1633.2" cy="666.2" r="3.5" fill="#6A6A6A"/>
<circle cx="1699.0" cy="598.5" r="3.5" fill="#6A6A6A"/>
<circle cx="1694.0" cy="657.0" r="3.5" fill="#6A6A6A"/>
<circle cx="1703.6" cy="661.3" r="3.5" fill="#6A6A6A"/>
<circle cx="1694.0" cy="666.6" r="3.5" fill="#6A6A6A"/>
<circle cx="1764.8" cy="639.0" r="3.5" fill="#6A6A6A"/>
<circle cx="1764.8" cy="646.7" r="3.5" fill="#6A6A6A"/>
<circle cx="1760.1" cy="670.7" r="3.5" fill="#6A6A6A"/>
<circle cx="1769.7" cy="669.4" r="3.5" fill="#6A6A6A"/>
<circle cx="1830.7" cy="630.2" r="3.5" fill="#6A6A6A"/>
<circle cx="1826.2" cy="646.7" r="3.5" fill="#6A6A6A"/>
<circle cx="1835.5" cy="649.6" r="3.5" fill="#6A6A6A"/>
<circle cx="1830.7" cy="667.7" r="3.5" fill="#6A6A6A"/>
<circle cx="1896.5" cy="568.7" r="3.5" fill="#6A6A6A"/>
<circle cx="1896.5" cy="591.7" r="3.5" fill="#6A6A6A"/>
<circle cx="1896.5" cy="633.5" r="3.5" fill="#6A6A6A"/>
<circle cx="1896.5" cy="640.1" r="3.5" fill="#6A6A6A"/>
<text x="1931.0" y="652.6" font-size="25.0">WT</text>
<line x1="1262.9" y1="469.7" x2="1262.9" y2="732.0" stroke="#000" stroke-width="1.8"/>
<line x1="1261.9" y1="731.0" x2="1914.7" y2="731.0" stroke="#000" stroke-width="1.8"/>
<line x1="1248.4" y1="731.0" x2="1262.9" y2="731.0" stroke="#000" stroke-width="2"/>
<text x="1244.8" y="739.3" font-size="23.5" text-anchor="end">0</text>
<line x1="1248.4" y1="644.6" x2="1262.9" y2="644.6" stroke="#000" stroke-width="2"/>
<text x="1244.8" y="652.9" font-size="23.5" text-anchor="end">1</text>
<line x1="1248.4" y1="558.0" x2="1262.9" y2="558.0" stroke="#000" stroke-width="2"/>
<text x="1244.8" y="566.3" font-size="23.5" text-anchor="end">2</text>
<line x1="1248.4" y1="470.7" x2="1262.9" y2="470.7" stroke="#000" stroke-width="2"/>
<text x="1244.8" y="479.0" font-size="23.5" text-anchor="end">3</text>
<line x1="1291.0" y1="731.0" x2="1291.0" y2="742.5" stroke="#000" stroke-width="2"/>
<text transform="translate(1299.5 758.0) rotate(-45)" font-size="25.0" text-anchor="end">daspid#5</text>
<line x1="1356.8" y1="731.0" x2="1356.8" y2="742.5" stroke="#000" stroke-width="2"/>
<text transform="translate(1365.3 758.0) rotate(-45)" font-size="25.0" text-anchor="end">daspid#6</text>
<line x1="1422.7" y1="731.0" x2="1422.7" y2="742.5" stroke="#000" stroke-width="2"/>
<text transform="translate(1431.2 758.0) rotate(-45)" font-size="25.0" text-anchor="end">maspid#5</text>
<line x1="1488.5" y1="731.0" x2="1488.5" y2="742.5" stroke="#000" stroke-width="2"/>
<text transform="translate(1497.0 758.0) rotate(-45)" font-size="25.0" text-anchor="end">maspid#6</text>
<line x1="1554.4" y1="731.0" x2="1554.4" y2="742.5" stroke="#000" stroke-width="2"/>
<text transform="translate(1562.9 758.0) rotate(-45)" font-size="25.0" text-anchor="end">daspid#5</text>
<line x1="1620.2" y1="731.0" x2="1620.2" y2="742.5" stroke="#000" stroke-width="2"/>
<text transform="translate(1628.8 758.0) rotate(-45)" font-size="25.0" text-anchor="end">daspid#6</text>
<line x1="1686.1" y1="731.0" x2="1686.1" y2="742.5" stroke="#000" stroke-width="2"/>
<text transform="translate(1694.6 758.0) rotate(-45)" font-size="25.0" text-anchor="end">maspid#5</text>
<line x1="1751.9" y1="731.0" x2="1751.9" y2="742.5" stroke="#000" stroke-width="2"/>
<text transform="translate(1760.4 758.0) rotate(-45)" font-size="25.0" text-anchor="end">maspid#6</text>
<line x1="1817.8" y1="731.0" x2="1817.8" y2="742.5" stroke="#000" stroke-width="2"/>
<text transform="translate(1826.3 758.0) rotate(-45)" font-size="25.0" text-anchor="end">maspid#7</text>
<line x1="1883.7" y1="731.0" x2="1883.7" y2="742.5" stroke="#000" stroke-width="2"/>
<text transform="translate(1892.2 758.0) rotate(-45)" font-size="25.0" text-anchor="end">maspid#7</text>
<text x="1300.4" y="495.6" font-size="25.0"><tspan font-style="italic">exo</tspan>-metabolome</text>
<line x1="1279.7" y1="504.3" x2="1501.2" y2="504.3" stroke="#000" stroke-width="2.2"/>
<text x="1555.5" y="495.6" font-size="25.0"><tspan font-style="italic">endo</tspan>-metabolome</text>
<line x1="1542.2" y1="504.3" x2="1764.6" y2="504.3" stroke="#000" stroke-width="2.2"/>
<text transform="translate(1801.0 507.0) rotate(-20)" font-size="25.0"><tspan font-style="italic">exo</tspan>-metabolome</text>
<text transform="translate(1866.0 509.0) rotate(-20)" font-size="25.0"><tspan font-style="italic">endo</tspan>-metabolome</text>
<text transform="translate(1185.0 599.0) rotate(-90)" font-size="25.0" text-anchor="middle">Fold-change</text>
<text transform="translate(1217.0 599.0) rotate(-90)" font-size="25.0" text-anchor="middle">(mutant/wildtype)</text>
<line x1="1227.4" y1="842.7" x2="1686.0" y2="842.7" stroke="#000" stroke-width="2.2"/>
<text x="1458.0" y="867.0" font-size="25.0" text-anchor="middle">(succinyl)</text>
<line x1="1744.3" y1="842.7" x2="1816.0" y2="842.7" stroke="#000" stroke-width="2.2"/>
<text x="1780.7" y="867.0" font-size="25.0" text-anchor="middle">(malonyl)</text>
<rect x="1901.0" y="776.0" width="21.5" height="23.0" fill="#FAA26C"/>
<circle cx="1911.7" cy="787.5" r="3.3" fill="#F26A21"/>
<rect x="1901.0" y="810.0" width="21.5" height="22.0" fill="#A7A7A7"/>
<circle cx="1911.7" cy="821.0" r="3.3" fill="#6A6A6A"/>
<text x="1938.4" y="795.8" font-size="25.0" font-style="italic">sir-2.3</text>
<text x="1938.4" y="829.8" font-size="25.0" font-style="italic">sir-2.2;sir-2.3</text>
<text x="1.5" y="918.5" font-size="36.2" font-weight="bold">g</text>
<text x="8.6" y="963.4" font-size="24.3" fill="#DE5B34">112.112</text>
<line x1="197.5" y1="957.0" x2="107.5" y2="957.0" stroke="#DE5B34" stroke-width="1.8"/>
<path d="M99.5 957.0 L113.5 952.8 L110.5 957.0 L113.5 961.2 Z" fill="#DE5B34"/>
<text x="121.2" y="946.6" font-size="24.3" fill="#DE5B34">-2 NH<tspan font-size="75%" dy="0.27em">3</tspan><tspan dy="-0.27em">&#8203;</tspan></text>
<text x="204.5" y="940.1" font-size="24.3" fill="#DE5B34">(C<tspan font-size="62%" dy="0.02em">7</tspan><tspan dy="-0.02em">&#8203;</tspan>H<tspan font-size="62%" dy="0.02em">20</tspan><tspan dy="-0.02em">&#8203;</tspan>N<tspan font-size="62%" dy="0.02em">3</tspan><tspan dy="-0.02em">&#8203;</tspan><tspan font-size="60%" dy="-0.42em">+</tspan><tspan dy="0.42em">&#8203;</tspan>)</text>
<text x="206.3" y="963.4" font-size="24.3" fill="#DE5B34">146.165</text>
<text x="624.2" y="958.6" font-size="24.3" text-anchor="end" fill="#DE5B34">(C<tspan font-size="62%" dy="0.02em">9</tspan><tspan dy="-0.02em">&#8203;</tspan>H<tspan font-size="62%" dy="0.02em">16</tspan><tspan dy="-0.02em">&#8203;</tspan>O<tspan font-size="62%" dy="0.02em">3</tspan><tspan dy="-0.02em">&#8203;</tspan>N<tspan font-size="60%" dy="-0.42em">+</tspan><tspan dy="0.42em">&#8203;</tspan>)</text>
<text x="623.7" y="985.8" font-size="24.3" text-anchor="end" fill="#DE5B34">186.112</text>
<text x="623.7" y="1110.8" font-size="24.3" text-anchor="end" fill="#DE5B34">203.139</text>
<text x="624.2" y="1137.1" font-size="24.3" text-anchor="end" fill="#DE5B34">(C<tspan font-size="62%" dy="0.02em">9</tspan><tspan dy="-0.02em">&#8203;</tspan>H<tspan font-size="62%" dy="0.02em">19</tspan><tspan dy="-0.02em">&#8203;</tspan>O<tspan font-size="62%" dy="0.02em">3</tspan><tspan dy="-0.02em">&#8203;</tspan>N<tspan font-size="62%" dy="0.02em">2</tspan><tspan dy="-0.02em">&#8203;</tspan><tspan font-size="60%" dy="-0.42em">+</tspan><tspan dy="0.42em">&#8203;</tspan>)</text>
<text x="8.6" y="1046.9" font-size="24.6" fill="#DE5B34">maspid#3</text>
<path d="M205.5 967.9 L441.5 967.9 L441.5 1050.4" stroke="#DE5B34" stroke-width="2.4" fill="none" stroke-dasharray="2.4 2.7" stroke-linejoin="miter"/>
<path d="M298.4 1042.9 L298.4 991.3 L624.5 991.3" stroke="#DE5B34" stroke-width="2.4" fill="none" stroke-dasharray="2.4 2.7" stroke-linejoin="miter"/>
<path d="M258.5 1019.6 L258.5 1087.3 L624.5 1087.3" stroke="#DE5B34" stroke-width="2.4" fill="none" stroke-dasharray="2.4 2.7" stroke-linejoin="miter"/>
<path d="M171.7 1033.7 L190.2 1023.0 L219.4 1039.8 L248.6 1023.0 L267.1 1033.7" stroke="#000" stroke-width="2.0" fill="none" stroke-linejoin="miter"/>
<path d="M288.5 1033.7 L307.0 1023.0 L336.2 1039.8 L365.4 1023.0 L394.6 1039.8 L413.1 1029.1" stroke="#000" stroke-width="2.0" fill="none" stroke-linejoin="miter"/>
<path d="M434.5 1029.1 L453.0 1039.8 L482.2 1023.0 L511.4 1039.8 L540.6 1023.0 L569.8 1039.8 L588.3 1029.1" stroke="#000" stroke-width="2.0" fill="none" stroke-linejoin="miter"/>
<text x="169.4" y="1047.6" font-size="23.2" text-anchor="end">H<tspan font-size="75%" dy="0.27em">2</tspan><tspan dy="-0.27em">&#8203;</tspan>N</text>
<text x="277.8" y="1047.8" font-size="23.2" text-anchor="middle">N</text>
<text x="269.4" y="1066.6" font-size="23.2">H<tspan font-size="75%" dy="0.27em">2</tspan><tspan dy="-0.27em">&#8203;</tspan></text>
<circle cx="278.2" cy="1016.7" r="9.0" fill="none" stroke="#000" stroke-width="1.8"/>
<text x="278.2" y="1023.3" font-size="21" text-anchor="middle">+</text>
<text x="423.8" y="1031.0" font-size="23.2" text-anchor="middle">N</text>
<text x="423.8" y="1012.0" font-size="23.2" text-anchor="middle">H</text>
<line x1="456.3" y1="1039.8" x2="456.3" y2="1061.6" stroke="#000" stroke-width="2.0"/>
<line x1="449.7" y1="1039.8" x2="449.7" y2="1061.6" stroke="#000" stroke-width="2.0"/>
<text x="453.0" y="1083.4" font-size="23.2" text-anchor="middle">O</text>
<line x1="573.1" y1="1039.8" x2="573.1" y2="1061.6" stroke="#000" stroke-width="2.0"/>
<line x1="566.5" y1="1039.8" x2="566.5" y2="1061.6" stroke="#000" stroke-width="2.0"/>
<text x="569.8" y="1083.4" font-size="23.2" text-anchor="middle">O</text>
<text x="590.0" y="1031.8" font-size="23.2">OH</text>
<text x="311.0" y="1161.4" font-size="24.3" fill="#3B4B9A">(C<tspan font-size="62%" dy="0.02em">8</tspan><tspan dy="-0.02em">&#8203;</tspan>H<tspan font-size="62%" dy="0.02em">14</tspan><tspan dy="-0.02em">&#8203;</tspan>O<tspan font-size="62%" dy="0.02em">3</tspan><tspan dy="-0.02em">&#8203;</tspan>N<tspan font-size="60%" dy="-0.42em">+</tspan><tspan dy="0.42em">&#8203;</tspan>)</text>
<text x="440.6" y="1187.8" font-size="24.3" text-anchor="end" fill="#3B4B9A">172.097</text>
<text x="451.5" y="1169.1" font-size="24.3" fill="#3B4B9A">- H<tspan font-size="75%" dy="0.27em">2</tspan><tspan dy="-0.27em">&#8203;</tspan>O</text>
<line x1="448.1" y1="1180.7" x2="514.0" y2="1180.7" stroke="#3B4B9A" stroke-width="1.8"/>
<path d="M522.0 1180.7 L508.0 1176.5 L511.0 1180.7 L508.0 1184.9 Z" fill="#3B4B9A"/>
<text x="529.7" y="1187.8" font-size="24.3" fill="#3B4B9A">154.086</text>
<text x="515.2" y="1245.6" font-size="24.6" fill="#3B4B9A">maspid#4</text>
<text x="8.0" y="1312.2" font-size="24.3" fill="#3B4B9A">72.081</text>
<text x="7.0" y="1335.5" font-size="24.3" fill="#3B4B9A">(C<tspan font-size="62%" dy="0.02em">4</tspan><tspan dy="-0.02em">&#8203;</tspan>H<tspan font-size="62%" dy="0.02em">10</tspan><tspan dy="-0.02em">&#8203;</tspan>N<tspan font-size="60%" dy="-0.42em">+</tspan><tspan dy="0.42em">&#8203;</tspan>)</text>
<text x="498.7" y="1312.7" font-size="24.3" text-anchor="end" fill="#3B4B9A">189.123</text>
<text x="498.4" y="1336.5" font-size="24.3" text-anchor="end" fill="#3B4B9A">(C<tspan font-size="62%" dy="0.02em">8</tspan><tspan dy="-0.02em">&#8203;</tspan>H<tspan font-size="62%" dy="0.02em">17</tspan><tspan dy="-0.02em">&#8203;</tspan>O<tspan font-size="62%" dy="0.02em">3</tspan><tspan dy="-0.02em">&#8203;</tspan>N<tspan font-size="62%" dy="0.02em">2</tspan><tspan dy="-0.02em">&#8203;</tspan><tspan font-size="60%" dy="-0.42em">+</tspan><tspan dy="0.42em">&#8203;</tspan>)</text>
<path d="M207.9 1247.2 L207.9 1192.0 L444.0 1192.0" stroke="#3B4B9A" stroke-width="2.4" fill="none" stroke-dasharray="2.4 2.7" stroke-linejoin="miter"/>
<path d="M6.4 1289.4 L167.8 1289.4 L167.8 1227.1" stroke="#3B4B9A" stroke-width="2.4" fill="none" stroke-dasharray="2.4 2.7" stroke-linejoin="miter"/>
<path d="M172.1 1227.1 L172.1 1289.4 L498.8 1289.4" stroke="#3B4B9A" stroke-width="2.4" fill="none" stroke-dasharray="2.4 2.7" stroke-linejoin="miter"/>
<path d="M52.2 1235.8 L70.7 1225.3 L99.9 1241.9 L129.0 1225.3 L158.2 1241.9 L176.6 1231.4" stroke="#000" stroke-width="2.0" fill="none" stroke-linejoin="miter"/>
<path d="M198.0 1231.4 L216.5 1241.9 L245.6 1225.3 L274.8 1241.9 L293.2 1231.4" stroke="#000" stroke-width="2.0" fill="none" stroke-linejoin="miter"/>
<path d="M314.6 1231.4 L333.1 1241.9 L362.2 1225.3 L391.4 1241.9 L420.5 1225.3 L449.6 1241.9 L468.1 1231.4" stroke="#000" stroke-width="2.0" fill="none" stroke-linejoin="miter"/>
<text x="49.9" y="1249.7" font-size="23.2" text-anchor="end">H<tspan font-size="75%" dy="0.27em">2</tspan><tspan dy="-0.27em">&#8203;</tspan>N</text>
<text x="187.3" y="1233.3" font-size="23.2" text-anchor="middle">N</text>
<text x="178.9" y="1211.1" font-size="23.2">H<tspan font-size="75%" dy="0.27em">2</tspan><tspan dy="-0.27em">&#8203;</tspan></text>
<circle cx="187.0" cy="1248.8" r="9.0" fill="none" stroke="#000" stroke-width="1.8"/>
<text x="187.0" y="1255.4" font-size="21" text-anchor="middle">+</text>
<text x="303.9" y="1233.3" font-size="23.2" text-anchor="middle">N</text>
<text x="303.9" y="1213.3" font-size="23.2" text-anchor="middle">H</text>
<line x1="336.4" y1="1241.9" x2="336.4" y2="1263.0" stroke="#000" stroke-width="2.0"/>
<line x1="329.8" y1="1241.9" x2="329.8" y2="1263.0" stroke="#000" stroke-width="2.0"/>
<text x="333.1" y="1284.8" font-size="23.2" text-anchor="middle">O</text>
<line x1="452.9" y1="1241.9" x2="452.9" y2="1263.0" stroke="#000" stroke-width="2.0"/>
<line x1="446.3" y1="1241.9" x2="446.3" y2="1263.0" stroke="#000" stroke-width="2.0"/>
<text x="449.6" y="1284.8" font-size="23.2" text-anchor="middle">O</text>
<text x="469.8" y="1234.1" font-size="23.2">OH</text>
<path d="M864.8 1118.0v-0.8M923.5 1118.0v-1.0M1037.2 1118.0v-0.3M764.8 1118.0v-2.2M874.3 1118.0v-0.3M1201.7 1118.0v-0.6M1130.9 1118.0v-0.6M1043.1 1118.0v-0.3M1041.3 1118.0v-2.4M991.6 1118.0v-1.6M1057.5 1118.0v-0.3M1096.1 1118.0v-1.0M892.9 1118.0v-0.3M1143.9 1118.0v-0.6M1078.6 1118.0v-2.5M1076.5 1118.0v-2.8M934.6 1118.0v-1.9M956.7 1118.0v-2.9M1149.8 1118.0v-0.3M819.4 1118.0v-0.3M1188.3 1118.0v-0.6M1037.6 1118.0v-0.4M984.5 1118.0v-0.5M915.0 1118.0v-0.9M1018.8 1118.0v-2.7M1062.2 1118.0v-2.9M1139.8 1118.0v-3.4M1057.5 1118.0v-0.3M1141.7 1118.0v-3.2M1161.3 1118.0v-0.9M1076.4 1118.0v-0.3M1128.8 1118.0v-0.9M885.7 1118.0v-0.3M1138.7 1118.0v-3.4M798.3 1118.0v-1.9M941.5 1118.0v-0.3M889.7 1118.0v-1.8M1147.1 1118.0v-0.3M1032.2 1118.0v-0.3M1078.4 1118.0v-0.4M1150.7 1118.0v-3.3M983.7 1118.0v-3.5M896.7 1118.0v-0.3M1025.7 1118.0v-0.3M846.7 1118.0v-0.5M1030.4 1118.0v-0.3M777.8 1118.0v-2.4M898.5 1118.0v-3.1M1157.7 1118.0v-0.5M963.7 1118.0v-0.8M1045.3 1118.0v-1.0M1007.7 1118.0v-1.1M1177.2 1118.0v-0.7M950.7 1118.0v-1.5M864.6 1118.0v-0.4M1193.8 1118.0v-0.8M1002.8 1118.0v-0.3M943.6 1118.0v-0.9M767.9 1118.0v-1.0M1040.1 1118.0v-0.3M1037.9 1118.0v-0.6M1061.0 1118.0v-0.4M1073.3 1118.0v-1.6M768.8 1118.0v-0.3M1059.6 1118.0v-3.2M870.6 1118.0v-0.6M1022.5 1118.0v-0.4M920.8 1118.0v-0.4M923.1 1118.0v-1.0M892.5 1118.0v-0.5M1102.4 1118.0v-0.3M1012.1 1118.0v-1.6M896.8 1118.0v-0.3M1116.4 1118.0v-0.3M842.3 1118.0v-0.6M1069.4 1118.0v-0.3M902.1 1118.0v-0.4M1129.6 1118.0v-0.6M1139.4 1118.0v-0.3M908.7 1118.0v-1.2M1152.5 1118.0v-0.6M859.0 1118.0v-0.3M994.5 1118.0v-0.3M1117.7 1118.0v-2.2M840.6 1118.0v-0.4M1117.9 1118.0v-1.1M1117.5 1118.0v-0.4M816.6 1118.0v-0.4M1112.0 1118.0v-0.4M913.0 1118.0v-0.5M945.6 1118.0v-0.5M1168.3 1118.0v-0.3M761.0 1118.0v-3.0M1150.3 1118.0v-3.4M952.1 1118.0v-3.0M1171.4 1118.0v-0.3M1090.5 1118.0v-2.2M1053.8 1118.0v-0.7M887.5 1118.0v-0.4M860.1 1118.0v-0.3M1020.7 1118.0v-0.4M1119.2 1118.0v-0.3M1160.8 1118.0v-1.4M1169.8 1118.0v-2.6M1159.0 1118.0v-0.9M764.8 1118.0v-1.6M835.4 1118.0v-0.4M1053.7 1118.0v-0.8M943.0 1118.0v-2.9M1031.2 1118.0v-0.4M871.2 1118.0v-2.3M971.2 1118.0v-1.8M915.4 1118.0v-0.3M996.7 1118.0v-2.0M835.1 1118.0v-1.9M1168.9 1118.0v-2.0M1125.2 1118.0v-0.3M1038.5 1118.0v-2.4M781.2 1118.0v-0.4M878.4 1118.0v-0.8M947.1 1118.0v-0.6M1104.3 1118.0v-0.3M783.3 1118.0v-0.3M814.4 1118.0v-0.3M1192.4 1118.0v-2.3M797.3 1118.0v-0.7M899.4 1118.0v-0.4M915.2 1118.0v-1.2M1019.8 1118.0v-0.5M843.9 1118.0v-0.4M814.0 1118.0v-0.8M1077.4 1118.0v-0.5M794.5 1118.0v-0.3M925.0 1118.0v-1.0M1107.0 1118.0v-0.5M1115.2 1118.0v-1.1M950.9 1118.0v-0.5M979.6 1118.0v-1.4M946.0 1118.0v-1.4M963.9 1118.0v-0.3M997.2 1118.0v-1.4M790.8 1118.0v-0.5M948.3 1118.0v-2.5M1175.4 1118.0v-0.5M1158.2 1118.0v-1.9M875.5 1118.0v-0.6M813.7 1118.0v-2.0M1053.5 1118.0v-2.5M1111.4 1118.0v-1.3M1085.2 1118.0v-0.9M773.1 1118.0v-15.0M800.1 1118.0v-18.4M825.6 1118.0v-3.0M841.2 1118.0v-4.0M855.0 1118.0v-6.3M878.7 1118.0v-19.9M892.2 1118.0v-3.0M911.8 1118.0v-15.0M945.5 1118.0v-34.6M988.2 1118.0v-7.8M992.1 1118.0v-4.0M996.0 1118.0v-3.5M1023.6 1118.0v-32.8M1037.1 1118.0v-3.5M1056.9 1118.0v-18.4M1074.4 1118.0v-3.0M1133.7 1118.0v-10.0M1135.5 1118.0v-130.2M1168.8 1118.0v-146.0" stroke="#DE5B34" stroke-width="1.4" fill="none"/>
<line x1="757.0" y1="1118.0" x2="1205.2" y2="1118.0" stroke="#DE5B34" stroke-width="1.6"/>
<line x1="1161.0" y1="971.0" x2="1176.0" y2="963.5" stroke="#DE5B34" stroke-width="1.3"/>
<line x1="1162.0" y1="974.5" x2="1177.0" y2="967.0" stroke="#DE5B34" stroke-width="1.3"/>
<path d="M800.3 1294.6v-46.0M960.9 1294.6v-2.5M996.2 1294.6v-51.9M1029.5 1294.6v-35.2M1135.4 1294.6v-71.4M1168.8 1294.6v-142.6" stroke="#3B4B9A" stroke-width="1.4" fill="none"/>
<line x1="757.0" y1="1294.6" x2="1205.2" y2="1294.6" stroke="#3B4B9A" stroke-width="1.8"/>
<line x1="757.0" y1="973.9" x2="757.0" y2="1119.0" stroke="#000" stroke-width="2"/>
<line x1="757.0" y1="1151.0" x2="757.0" y2="1295.6" stroke="#000" stroke-width="2"/>
<line x1="746.0" y1="974.9" x2="757.0" y2="974.9" stroke="#000" stroke-width="2"/>
<text x="739.5" y="982.2" font-size="20.5" text-anchor="end">10</text>
<line x1="746.0" y1="1046.5" x2="757.0" y2="1046.5" stroke="#000" stroke-width="2"/>
<text x="739.5" y="1053.8" font-size="20.5" text-anchor="end">5</text>
<line x1="746.0" y1="1118.0" x2="757.0" y2="1118.0" stroke="#000" stroke-width="2"/>
<text x="739.5" y="1125.3" font-size="20.5" text-anchor="end">0</text>
<line x1="746.0" y1="1152.0" x2="757.0" y2="1152.0" stroke="#000" stroke-width="2"/>
<text x="739.5" y="1159.3" font-size="20.5" text-anchor="end">100</text>
<line x1="746.0" y1="1223.3" x2="757.0" y2="1223.3" stroke="#000" stroke-width="2"/>
<text x="739.5" y="1230.6" font-size="20.5" text-anchor="end">50</text>
<line x1="746.0" y1="1294.6" x2="757.0" y2="1294.6" stroke="#000" stroke-width="2"/>
<text x="739.5" y="1301.9" font-size="20.5" text-anchor="end">0</text>
<line x1="757.0" y1="1294.6" x2="757.0" y2="1303.6" stroke="#000" stroke-width="2"/>
<text x="757.0" y="1329.2" font-size="20.5" text-anchor="middle">50</text>
<line x1="855.0" y1="1290.6" x2="855.0" y2="1303.6" stroke="#000" stroke-width="2"/>
<text x="855.0" y="1329.2" font-size="20.5" text-anchor="middle">100</text>
<line x1="952.9" y1="1290.6" x2="952.9" y2="1303.6" stroke="#000" stroke-width="2"/>
<text x="952.9" y="1329.2" font-size="20.5" text-anchor="middle">150</text>
<line x1="1050.8" y1="1290.6" x2="1050.8" y2="1303.6" stroke="#000" stroke-width="2"/>
<text x="1050.8" y="1329.2" font-size="20.5" text-anchor="middle">200</text>
<line x1="1148.8" y1="1290.6" x2="1148.8" y2="1303.6" stroke="#000" stroke-width="2"/>
<text x="1148.8" y="1329.2" font-size="20.5" text-anchor="middle">250</text>
<text x="993.5" y="1358.5" font-size="25.0" text-anchor="middle" font-style="italic">m/z</text>
<text transform="translate(697.0 1140.5) rotate(-90)" font-size="25.0" text-anchor="middle">Rel. abundance</text>
<text x="984.0" y="956.2" font-size="24.2" fill="#DE5B34">[M+H-NH<tspan font-size="62%" dy="0.02em">3</tspan><tspan dy="-0.02em">&#8203;</tspan>]<tspan font-size="60%" dy="-0.45em">+</tspan><tspan dy="0.45em">&#8203;</tspan></text>
<text x="1125.1" y="958.5" font-size="21.8">260.196</text>
<text x="1035.0" y="984.1" font-size="21.8">243.170</text>
<text x="1003.6" y="1051.8" font-size="21.8">186.112</text>
<text x="922.1" y="1080.0" font-size="21.8">146.165</text>
<text x="809.8" y="1087.2" font-size="21.8">112.112</text>
<text x="1031.5" y="1096.4" font-size="21.8">203.139</text>
<text x="1126.6" y="1146.3" font-size="21.8">260.196</text>
<text x="1043.0" y="1208.2" font-size="21.8">243.170</text>
<text x="895.6" y="1226.9" font-size="21.8">172.096</text>
<text x="1010.0" y="1247.6" font-size="21.8">189.123</text>
<text x="771.8" y="1244.8" font-size="21.8">72.081</text>
<text x="870.3" y="1281.6" font-size="21.8">154.086</text>
<line x1="1120.0" y1="979.2" x2="1135.2" y2="985.5" stroke="#3FAE49" stroke-width="2.2"/>
<line x1="1037.3" y1="1056.1" x2="1023.5" y2="1082.0" stroke="#3FAE49" stroke-width="2.2"/>
<line x1="847.2" y1="1090.7" x2="879.5" y2="1094.1" stroke="#3FAE49" stroke-width="2.2"/>
<line x1="1120.8" y1="1213.1" x2="1135.8" y2="1219.1" stroke="#3FAE49" stroke-width="2.2"/>
<line x1="970.5" y1="1232.7" x2="995.5" y2="1237.8" stroke="#3FAE49" stroke-width="2.2"/>
<line x1="1045.0" y1="1250.0" x2="1029.2" y2="1255.7" stroke="#3FAE49" stroke-width="2.2"/>
<line x1="945.1" y1="1286.0" x2="961.6" y2="1289.4" stroke="#3FAE49" stroke-width="2.2"/>
<path d="M1337.4 1287.6 L1443.2 1287.6 L1443.7 1287.6 L1444.1 1287.5 L1444.5 1287.5 L1445.0 1287.3 L1445.4 1286.9 L1445.8 1286.3 L1446.3 1285.2 L1446.7 1283.7 L1447.1 1281.8 L1447.6 1279.6 L1448.0 1277.6 L1448.4 1276.1 L1448.8 1275.5 L1449.3 1275.5 L1449.7 1275.6 L1450.1 1275.7 L1450.6 1275.4 L1451.0 1274.6 L1451.4 1273.7 L1451.9 1272.9 L1452.3 1272.8 L1452.7 1273.5 L1453.2 1274.7 L1453.6 1275.7 L1454.0 1276.1 L1454.5 1275.5 L1454.9 1274.0 L1455.3 1271.9 L1455.8 1269.6 L1456.2 1267.3 L1456.6 1265.6 L1457.1 1264.4 L1457.5 1264.0 L1457.9 1264.3 L1458.4 1265.0 L1458.8 1266.3 L1459.2 1267.9 L1459.6 1269.8 L1460.1 1271.9 L1460.5 1274.0 L1460.9 1276.1 L1461.4 1278.1 L1461.8 1279.9 L1462.2 1281.6 L1462.7 1282.9 L1463.1 1284.1 L1463.5 1285.0 L1464.0 1285.7 L1464.4 1286.3 L1464.8 1286.7 L1465.3 1287.0 L1465.7 1287.2 L1466.1 1287.3 L1466.6 1287.4 L1467.0 1287.5 L1467.4 1287.5 L1467.9 1287.6 L1468.3 1287.6 L1480.4 1287.6 L1480.8 1287.6 L1481.2 1287.5 L1481.7 1287.2 L1482.1 1286.8 L1482.5 1285.9 L1483.0 1284.5 L1483.4 1282.7 L1483.8 1281.0 L1484.3 1279.8 L1484.7 1279.6 L1485.1 1280.3 L1485.6 1281.6 L1486.0 1282.7 L1486.4 1283.1 L1486.9 1282.4 L1487.3 1281.0 L1487.7 1279.5 L1488.2 1278.6 L1488.6 1278.9 L1489.0 1280.2 L1489.5 1282.1 L1489.9 1284.0 L1490.3 1285.5 L1490.7 1286.2 L1491.2 1286.3 L1491.6 1285.5 L1492.0 1283.8 L1492.5 1280.6 L1492.9 1275.3 L1493.3 1267.3 L1493.8 1255.6 L1494.2 1239.9 L1494.6 1220.2 L1495.1 1197.3 L1495.5 1172.8 L1495.9 1149.2 L1496.4 1129.5 L1496.8 1116.3 L1497.2 1111.6 L1497.7 1114.1 L1498.1 1121.8 L1498.5 1133.8 L1499.0 1149.2 L1499.4 1166.6 L1499.8 1184.7 L1500.3 1202.3 L1500.7 1218.5 L1501.1 1232.6 L1501.5 1244.2 L1502.0 1253.4 L1502.4 1260.3 L1502.8 1265.1 L1503.3 1268.4 L1503.7 1270.6 L1504.1 1271.9 L1504.6 1272.7 L1505.0 1273.3 L1505.4 1273.6 L1505.9 1273.7 L1506.3 1273.5 L1506.7 1273.1 L1507.2 1272.6 L1507.6 1272.1 L1508.0 1271.8 L1508.5 1271.9 L1508.9 1272.5 L1509.3 1273.7 L1509.8 1275.2 L1510.2 1277.0 L1510.6 1278.6 L1511.0 1279.8 L1511.5 1280.4 L1511.9 1280.0 L1512.3 1278.4 L1512.8 1275.5 L1513.2 1271.1 L1513.6 1265.9 L1514.1 1260.7 L1514.5 1256.5 L1514.9 1254.5 L1515.4 1255.1 L1515.8 1257.9 L1516.2 1262.4 L1516.7 1267.7 L1517.1 1272.9 L1517.5 1277.6 L1518.0 1281.2 L1518.4 1283.8 L1518.8 1285.5 L1519.3 1286.5 L1519.7 1287.1 L1520.1 1287.3 L1520.6 1287.5 L1521.0 1287.5 L1521.4 1287.6 L1521.8 1287.6 L1537.8 1287.6 L1538.3 1287.6 L1538.7 1287.6 L1539.1 1287.5 L1539.6 1287.4 L1540.0 1287.1 L1540.4 1286.6 L1540.9 1285.7 L1541.3 1284.2 L1541.7 1281.6 L1542.1 1277.5 L1542.6 1271.6 L1543.0 1263.2 L1543.4 1252.1 L1543.9 1238.2 L1544.3 1222.1 L1544.7 1204.5 L1545.2 1187.0 L1545.6 1171.2 L1546.0 1159.1 L1546.5 1152.0 L1546.9 1150.8 L1547.3 1153.3 L1547.8 1158.7 L1548.2 1166.7 L1548.6 1176.6 L1549.1 1188.0 L1549.5 1200.1 L1549.9 1212.4 L1550.4 1224.2 L1550.8 1235.1 L1551.2 1244.7 L1551.7 1252.8 L1552.1 1259.5 L1552.5 1264.8 L1552.9 1269.0 L1553.4 1272.2 L1553.8 1274.8 L1554.2 1277.0 L1554.7 1278.7 L1555.1 1280.0 L1555.5 1281.1 L1556.0 1282.1 L1556.4 1282.9 L1556.8 1283.7 L1557.3 1284.3 L1557.7 1284.9 L1558.1 1285.4 L1558.6 1285.9 L1559.0 1286.3 L1559.4 1286.6 L1559.9 1286.9 L1560.3 1287.1 L1560.7 1287.2 L1561.2 1287.3 L1561.6 1287.4 L1562.0 1287.5 L1562.5 1287.5 L1562.9 1287.6 L1563.3 1287.6 L1563.7 1287.6 L1670.0 1287.6" stroke="#2BA36E" stroke-width="1.5" fill="none" stroke-linejoin="round"/>
<path d="M1337.4 1232.9 L1533.8 1232.9 L1536.1 1232.0 L1537.5 1230.0 L1543.9 1109.6 L1545.9 1130.4 L1555.4 1226.8 L1558.3 1231.2 L1564.0 1232.9 L1670.0 1232.9" stroke="#3B4B9A" stroke-width="1.3" fill="none" stroke-linejoin="miter"/>
<path d="M1337.4 1175.9 L1505.0 1175.9 L1507.9 1173.6 L1513.6 1160.0 L1518.0 1169.2 L1522.3 1174.4 L1526.6 1175.9 L1670.0 1175.9" stroke="#E0603A" stroke-width="1.3" fill="none" stroke-linejoin="round"/>
<path d="M1337.4 1117.4 L1489.2 1117.4 L1500.7 1116.5 L1507.0 1114.5 L1512.2 1103.6 L1516.5 1110.2 L1522.3 1115.4 L1528.0 1118.0 L1533.8 1116.5 L1536.1 1114.5 L1537.5 1112.5 L1543.3 941.8 L1545.3 961.9 L1555.4 1111.7 L1558.9 1115.4 L1566.9 1116.8 L1575.6 1117.4 L1670.0 1117.4" stroke="#555" stroke-width="1.3" fill="none" stroke-linejoin="miter"/>
<line x1="1507.9" y1="927.4" x2="1516.0" y2="1288.0" stroke="#000" stroke-width="1.15" stroke-dasharray="4.2 2.9"/>
<line x1="1541.6" y1="927.4" x2="1549.0" y2="1288.0" stroke="#000" stroke-width="1.15" stroke-dasharray="4.2 2.9"/>
<line x1="1337.4" y1="1110.6" x2="1337.4" y2="1288.9" stroke="#000" stroke-width="1.8"/>
<line x1="1336.4" y1="1287.9" x2="1670.9" y2="1287.9" stroke="#000" stroke-width="1.8"/>
<line x1="1324.9" y1="1111.6" x2="1337.4" y2="1111.6" stroke="#000" stroke-width="1.8"/>
<text x="1319.0" y="1118.9" font-size="20.5" text-anchor="end">100</text>
<line x1="1324.9" y1="1199.8" x2="1337.4" y2="1199.8" stroke="#000" stroke-width="1.8"/>
<text x="1319.0" y="1207.0" font-size="20.5" text-anchor="end">50</text>
<line x1="1324.9" y1="1287.9" x2="1337.4" y2="1287.9" stroke="#000" stroke-width="1.8"/>
<text x="1319.0" y="1295.2" font-size="20.5" text-anchor="end">0</text>
<line x1="1337.4" y1="1287.9" x2="1337.4" y2="1301.7" stroke="#000" stroke-width="1.8"/>
<text x="1337.4" y="1326.3" font-size="20.5" text-anchor="middle">20</text>
<line x1="1403.9" y1="1287.9" x2="1403.9" y2="1301.7" stroke="#000" stroke-width="1.8"/>
<line x1="1470.4" y1="1287.9" x2="1470.4" y2="1301.7" stroke="#000" stroke-width="1.8"/>
<text x="1470.4" y="1326.3" font-size="20.5" text-anchor="middle">22</text>
<line x1="1536.9" y1="1287.9" x2="1536.9" y2="1301.7" stroke="#000" stroke-width="1.8"/>
<line x1="1603.4" y1="1287.9" x2="1603.4" y2="1301.7" stroke="#000" stroke-width="1.8"/>
<text x="1603.4" y="1326.3" font-size="20.5" text-anchor="middle">24</text>
<line x1="1669.9" y1="1287.9" x2="1669.9" y2="1301.7" stroke="#000" stroke-width="1.8"/>
<text x="1501.3" y="1354.4" font-size="25.0" text-anchor="middle">Time [min]</text>
<text transform="translate(1275.0 1201.0) rotate(-90)" font-size="25.0" text-anchor="middle">Rel. abundance</text>
<text x="1579.9" y="1111.1" font-size="22.5">PRM</text>
<text x="1643.2" y="1111.1" font-size="22.5">243.170</text>
<text x="1579.9" y="1170.7" font-size="22.5">PRM</text>
<text x="1643.2" y="1170.7" font-size="22.5">186.113 <tspan font-family="DejaVu Sans, sans-serif" font-size="20">↑</tspan>×5</text>
<text x="1579.9" y="1226.8" font-size="22.5">PRM</text>
<text x="1643.2" y="1226.8" font-size="22.5">172.097</text>
<text x="1579.9" y="1281.5" font-size="22.5">MS1</text>
<text x="1646.0" y="1281.5" font-size="22.5">260.197</text>
<text x="1824.6" y="945.8" font-size="36.2" font-weight="bold">h</text>
<circle cx="2020.0" cy="944.8" r="3.5" fill="#2A2A7A"/>
<text x="2031.7" y="950.8" font-size="22.7">WT</text>
<circle cx="2020.0" cy="974.1" r="3.5" fill="#EE6B2D"/>
<text x="2031.7" y="979.9" font-size="22.7" font-style="italic">sir-2.3</text>
<circle cx="2020.0" cy="1003.5" r="3.5" fill="#6B6B6B"/>
<text x="2031.7" y="1009.2" font-size="22.7" font-style="italic">sir-2.2;sir-2.3</text>
<line x1="1913.2" y1="1050.8" x2="1928.4" y2="1050.8" stroke="#000" stroke-width="3.0"/>
<circle cx="1921.5" cy="1017.7" r="3.5" fill="#2A2A7A"/>
<circle cx="1918.4" cy="1038.7" r="3.5" fill="#2A2A7A"/>
<circle cx="1923.6" cy="1038.4" r="3.5" fill="#2A2A7A"/>
<circle cx="1916.2" cy="1049.7" r="3.5" fill="#2A2A7A"/>
<circle cx="1926.3" cy="1053.6" r="3.5" fill="#2A2A7A"/>
<circle cx="1921.2" cy="1056.4" r="3.5" fill="#2A2A7A"/>
<circle cx="1918.4" cy="1068.1" r="3.5" fill="#2A2A7A"/>
<circle cx="1923.6" cy="1066.5" r="3.5" fill="#2A2A7A"/>
<line x1="1937.4" y1="1050.8" x2="1953.0" y2="1050.8" stroke="#000" stroke-width="3.0"/>
<circle cx="1950.5" cy="1035.3" r="3.5" fill="#EE6B2D"/>
<circle cx="1940.6" cy="1041.4" r="3.5" fill="#EE6B2D"/>
<circle cx="1950.5" cy="1047.0" r="3.5" fill="#EE6B2D"/>
<circle cx="1945.3" cy="1055.0" r="3.5" fill="#EE6B2D"/>
<circle cx="1940.6" cy="1069.8" r="3.5" fill="#EE6B2D"/>
<circle cx="1950.5" cy="1067.0" r="3.5" fill="#EE6B2D"/>
<line x1="1961.8" y1="1045.0" x2="1971.5" y2="1045.0" stroke="#000" stroke-width="3.0"/>
<circle cx="1965.3" cy="1040.0" r="3.5" fill="#6B6B6B"/>
<circle cx="1975.1" cy="1045.3" r="3.5" fill="#6B6B6B"/>
<circle cx="1969.9" cy="1069.5" r="3.5" fill="#6B6B6B"/>
<line x1="2002.4" y1="1177.8" x2="2018.3" y2="1177.8" stroke="#000" stroke-width="3.0"/>
<circle cx="2010.2" cy="1137.9" r="3.5" fill="#2A2A7A"/>
<circle cx="2010.2" cy="1157.3" r="3.5" fill="#2A2A7A"/>
<circle cx="2005.1" cy="1182.9" r="3.5" fill="#2A2A7A"/>
<circle cx="2010.2" cy="1178.0" r="3.5" fill="#2A2A7A"/>
<circle cx="2015.2" cy="1181.2" r="3.5" fill="#2A2A7A"/>
<circle cx="2005.5" cy="1179.7" r="3.5" fill="#2A2A7A"/>
<line x1="2031.4" y1="1196.0" x2="2038.3" y2="1196.0" stroke="#000" stroke-width="3.0"/>
<circle cx="2030.0" cy="1195.6" r="3.5" fill="#EE6B2D"/>
<circle cx="2039.7" cy="1196.3" r="3.5" fill="#EE6B2D"/>
<circle cx="2034.8" cy="1205.7" r="3.5" fill="#EE6B2D"/>
<line x1="2051.2" y1="1186.3" x2="2066.9" y2="1186.3" stroke="#000" stroke-width="3.0"/>
<circle cx="2059.0" cy="1176.2" r="3.5" fill="#6B6B6B"/>
<circle cx="2059.0" cy="1197.1" r="3.5" fill="#6B6B6B"/>
<line x1="2092.2" y1="1197.4" x2="2106.7" y2="1197.4" stroke="#000" stroke-width="3.0"/>
<circle cx="2099.4" cy="1190.7" r="3.5" fill="#2A2A7A"/>
<circle cx="2094.7" cy="1197.4" r="3.5" fill="#2A2A7A"/>
<circle cx="2104.7" cy="1197.4" r="3.5" fill="#2A2A7A"/>
<circle cx="2094.7" cy="1202.2" r="3.5" fill="#2A2A7A"/>
<circle cx="2099.4" cy="1200.1" r="3.5" fill="#2A2A7A"/>
<line x1="2119.9" y1="1204.0" x2="2127.5" y2="1204.0" stroke="#000" stroke-width="3.0"/>
<circle cx="2118.8" cy="1204.7" r="3.5" fill="#EE6B2D"/>
<circle cx="2123.7" cy="1202.2" r="3.5" fill="#EE6B2D"/>
<circle cx="2128.9" cy="1204.7" r="3.5" fill="#EE6B2D"/>
<line x1="2140.6" y1="1203.2" x2="2155.8" y2="1203.2" stroke="#000" stroke-width="3.0"/>
<circle cx="2143.4" cy="1204.7" r="3.5" fill="#6B6B6B"/>
<circle cx="2153.1" cy="1201.1" r="3.5" fill="#6B6B6B"/>
<line x1="1904.8" y1="1009.9" x2="1904.8" y2="1072.7" stroke="#000" stroke-width="1.8"/>
<line x1="1897.5" y1="1072.7" x2="1912.8" y2="1072.7" stroke="#000" stroke-width="1.8"/>
<line x1="1904.8" y1="1097.4" x2="1904.8" y2="1206.8" stroke="#000" stroke-width="1.8"/>
<line x1="1897.5" y1="1097.4" x2="1912.8" y2="1097.4" stroke="#000" stroke-width="1.8"/>
<line x1="1891.3" y1="1205.8" x2="2168.0" y2="1205.8" stroke="#000" stroke-width="1.8"/>
<line x1="1891.3" y1="1023.7" x2="1904.8" y2="1023.7" stroke="#000" stroke-width="1.8"/>
<text x="1888.4" y="1031.3" font-size="21.7" text-anchor="end">80</text>
<line x1="1891.3" y1="1050.1" x2="1904.8" y2="1050.1" stroke="#000" stroke-width="1.8"/>
<text x="1888.4" y="1057.7" font-size="21.7" text-anchor="end">40</text>
<line x1="1891.3" y1="1205.8" x2="1904.8" y2="1205.8" stroke="#000" stroke-width="1.8"/>
<text x="1888.4" y="1213.4" font-size="21.7" text-anchor="end">0</text>
<line x1="1891.3" y1="1184.1" x2="1904.8" y2="1184.1" stroke="#000" stroke-width="1.8"/>
<text x="1888.4" y="1191.7" font-size="21.7" text-anchor="end">1</text>
<line x1="1891.3" y1="1162.4" x2="1904.8" y2="1162.4" stroke="#000" stroke-width="1.8"/>
<text x="1888.4" y="1170.0" font-size="21.7" text-anchor="end">2</text>
<line x1="1891.3" y1="1140.8" x2="1904.8" y2="1140.8" stroke="#000" stroke-width="1.8"/>
<text x="1888.4" y="1148.4" font-size="21.7" text-anchor="end">3</text>
<line x1="1891.3" y1="1119.1" x2="1904.8" y2="1119.1" stroke="#000" stroke-width="1.8"/>
<text x="1888.4" y="1126.7" font-size="21.7" text-anchor="end">4</text>
<line x1="1891.3" y1="1097.4" x2="1904.8" y2="1097.4" stroke="#000" stroke-width="1.8"/>
<text x="1888.4" y="1105.0" font-size="21.7" text-anchor="end">5</text>
<line x1="1945.0" y1="1205.8" x2="1945.0" y2="1219.0" stroke="#000" stroke-width="1.8"/>
<line x1="2034.7" y1="1205.8" x2="2034.7" y2="1219.0" stroke="#000" stroke-width="1.8"/>
<line x1="2123.7" y1="1205.8" x2="2123.7" y2="1219.0" stroke="#000" stroke-width="1.8"/>
<text transform="translate(1935.0 1235.6) rotate(-45)" font-size="23.2" text-anchor="end">daspid</text>
<text transform="translate(1966.8 1244.2) rotate(-45)" font-size="23.2" text-anchor="end">#3 and #4</text>
<text transform="translate(2046.9 1234.2) rotate(-45)" font-size="23.2" text-anchor="end">maspid#3</text>
<text transform="translate(2135.9 1234.2) rotate(-45)" font-size="23.2" text-anchor="end">maspid#4</text>
<text transform="translate(1851.0 1110.8) rotate(-90)" font-size="25.0" text-anchor="middle"><tspan font-style="italic">exo-</tspan>/<tspan font-style="italic">endo</tspan>-metabolome</text>
<text x="11.5" y="1426.8" font-size="36.2" font-weight="bold">i</text>
<path d="M135.9 1688.1 L185.4 1688.1 L257.5 1687.4 L279.7 1685.1 L304.2 1683.5 L323.8 1669.0 L384.5 1596.3 L404.1 1529.5" stroke="#3B4B9A" stroke-width="1.4" fill="none" stroke-linejoin="miter"/>
<path d="M135.9 1688.4 L185.4 1688.4 L257.5 1687.9 L279.7 1686.6 L304.2 1685.1 L323.8 1680.0 L384.5 1658.0 L404.1 1616.7" stroke="#E8642C" stroke-width="1.4" fill="none" stroke-linejoin="miter"/>
<circle cx="135.9" cy="1688.1" r="3.2" fill="none" stroke="#3B4B9A" stroke-width="1.4"/>
<circle cx="185.4" cy="1688.1" r="3.2" fill="none" stroke="#3B4B9A" stroke-width="1.4"/>
<circle cx="257.5" cy="1687.4" r="3.2" fill="none" stroke="#3B4B9A" stroke-width="1.4"/>
<circle cx="279.7" cy="1684.3" r="3.2" fill="none" stroke="#3B4B9A" stroke-width="1.4"/>
<circle cx="279.7" cy="1685.6" r="3.2" fill="none" stroke="#3B4B9A" stroke-width="1.4"/>
<circle cx="304.2" cy="1682.5" r="3.2" fill="none" stroke="#3B4B9A" stroke-width="1.4"/>
<circle cx="304.2" cy="1683.8" r="3.2" fill="none" stroke="#3B4B9A" stroke-width="1.4"/>
<circle cx="323.8" cy="1666.4" r="3.2" fill="none" stroke="#3B4B9A" stroke-width="1.4"/>
<circle cx="323.8" cy="1672.3" r="3.2" fill="none" stroke="#3B4B9A" stroke-width="1.4"/>
<circle cx="384.5" cy="1566.2" r="3.2" fill="none" stroke="#3B4B9A" stroke-width="1.4"/>
<circle cx="384.5" cy="1626.4" r="3.2" fill="none" stroke="#3B4B9A" stroke-width="1.4"/>
<circle cx="403.6" cy="1493.6" r="3.2" fill="none" stroke="#3B4B9A" stroke-width="1.4"/>
<circle cx="403.6" cy="1565.2" r="3.2" fill="none" stroke="#3B4B9A" stroke-width="1.4"/>
<path d="M135.9 1684.3 L139.1 1690.6 L132.7 1690.6 Z" fill="none" stroke="#E8642C" stroke-width="1.4"/>
<path d="M185.4 1684.3 L188.6 1690.6 L182.1 1690.6 Z" fill="none" stroke="#E8642C" stroke-width="1.4"/>
<path d="M257.5 1684.0 L260.8 1690.3 L254.3 1690.3 Z" fill="none" stroke="#E8642C" stroke-width="1.4"/>
<path d="M279.7 1682.7 L282.9 1689.0 L276.5 1689.0 Z" fill="none" stroke="#E8642C" stroke-width="1.4"/>
<path d="M304.2 1681.0 L307.4 1687.3 L300.9 1687.3 Z" fill="none" stroke="#E8642C" stroke-width="1.4"/>
<path d="M323.8 1675.9 L327.1 1682.2 L320.6 1682.2 Z" fill="none" stroke="#E8642C" stroke-width="1.4"/>
<path d="M384.5 1651.4 L387.7 1657.7 L381.3 1657.7 Z" fill="none" stroke="#E8642C" stroke-width="1.4"/>
<path d="M384.5 1656.7 L387.7 1663.0 L381.3 1663.0 Z" fill="none" stroke="#E8642C" stroke-width="1.4"/>
<path d="M403.6 1592.2 L406.9 1598.5 L400.4 1598.5 Z" fill="none" stroke="#E8642C" stroke-width="1.4"/>
<path d="M403.6 1632.5 L406.9 1638.8 L400.4 1638.8 Z" fill="none" stroke="#E8642C" stroke-width="1.4"/>
<line x1="132.6" y1="1475.2" x2="171.3" y2="1475.2" stroke="#3B4B9A" stroke-width="1.4"/>
<circle cx="152.0" cy="1475.2" r="3.2" fill="#fff" stroke="#3B4B9A" stroke-width="1.4"/>
<text x="188.7" y="1482.3" font-size="24.8" fill="#3B4B9A">WT</text>
<line x1="132.6" y1="1506.6" x2="171.3" y2="1506.6" stroke="#E8642C" stroke-width="1.4"/>
<path d="M152.0 1502.6 L155.2 1508.9 L148.8 1508.9 Z" fill="none" stroke="#E8642C" stroke-width="1.4"/>
<text x="188.7" y="1513.7" font-size="24.8" font-style="italic" fill="#E8642C">sir-2.3</text>
<rect x="116.8" y="1445.4" width="303.9" height="242.7" fill="none" stroke="#000" stroke-width="1.5"/>
<line x1="104.5" y1="1688.1" x2="116.8" y2="1688.1" stroke="#000" stroke-width="1.5"/>
<text x="98.4" y="1695.7" font-size="21.5" text-anchor="end">0</text>
<line x1="104.5" y1="1607.2" x2="116.8" y2="1607.2" stroke="#000" stroke-width="1.5"/>
<text x="98.4" y="1614.8" font-size="21.5" text-anchor="end">1</text>
<line x1="104.5" y1="1526.3" x2="116.8" y2="1526.3" stroke="#000" stroke-width="1.5"/>
<text x="98.4" y="1533.9" font-size="21.5" text-anchor="end">2</text>
<line x1="104.5" y1="1445.4" x2="116.8" y2="1445.4" stroke="#000" stroke-width="1.5"/>
<text x="98.4" y="1453.0" font-size="21.5" text-anchor="end">3</text>
<line x1="138.4" y1="1688.1" x2="138.4" y2="1698.3" stroke="#000" stroke-width="1.5"/>
<text x="138.4" y="1718.8" font-size="21.5" text-anchor="middle">24</text>
<line x1="204.7" y1="1688.1" x2="204.7" y2="1698.3" stroke="#000" stroke-width="1.5"/>
<text x="204.7" y="1718.8" font-size="21.5" text-anchor="middle">36</text>
<line x1="270.8" y1="1688.1" x2="270.8" y2="1698.3" stroke="#000" stroke-width="1.5"/>
<text x="270.8" y="1718.8" font-size="21.5" text-anchor="middle">48</text>
<line x1="337.0" y1="1688.1" x2="337.0" y2="1698.3" stroke="#000" stroke-width="1.5"/>
<text x="337.0" y="1718.8" font-size="21.5" text-anchor="middle">60</text>
<line x1="403.4" y1="1688.1" x2="403.4" y2="1698.3" stroke="#000" stroke-width="1.5"/>
<text x="403.4" y="1718.8" font-size="21.5" text-anchor="middle">72</text>
<line x1="135.4" y1="1445.4" x2="135.4" y2="1435.7" stroke="#000" stroke-width="1.5"/>
<text x="135.9" y="1430.2" font-size="25.0" text-anchor="middle">L2</text>
<line x1="185.4" y1="1445.4" x2="185.4" y2="1435.7" stroke="#000" stroke-width="1.5"/>
<text x="185.9" y="1430.2" font-size="25.0" text-anchor="middle">L3</text>
<line x1="257.5" y1="1445.4" x2="257.5" y2="1435.7" stroke="#000" stroke-width="1.5"/>
<text x="258.0" y="1430.2" font-size="25.0" text-anchor="middle">L4</text>
<line x1="304.2" y1="1445.4" x2="304.2" y2="1435.7" stroke="#000" stroke-width="1.5"/>
<text x="294.5" y="1430.2" font-size="25.0">young adult</text>
<text x="269.8" y="1742.9" font-size="25.0" text-anchor="middle">Growth time [h]</text>
<text transform="translate(44.5 1568.2) rotate(-90)" font-size="25.0" text-anchor="middle">daspid#3 and #4</text>
<text transform="translate(73.5 1573.0) rotate(-90)" font-size="25.0" text-anchor="middle">Normalized peak area (×10<tspan font-size="60%" dy="-0.42em">8</tspan><tspan dy="0.42em">&#8203;</tspan>)</text>
<text x="531.4" y="1453.4" font-size="36.2" font-weight="bold">j</text>
<path d="M609.8 1704.6 L704.2 1704.6 L706.2 1700.7 L708.1 1690.0 L709.6 1662.5 L711.1 1623.4 L712.5 1584.2 L714.3 1557.7 L716.0 1574.4 L718.4 1581.7 L719.2 1603.8 L720.4 1633.1 L722.3 1662.5 L724.3 1680.2 L727.2 1690.0 L730.2 1694.9 L735.5 1699.3 L737.5 1697.3 L739.0 1699.8 L744.8 1702.2 L750.7 1704.2 L837.3 1704.6" stroke="#555" stroke-width="1.2" fill="none" stroke-linejoin="round"/>
<line x1="659.4" y1="1598.0" x2="887.0" y2="1598.0" stroke="#3A9A66" stroke-width="1.25"/>
<line x1="716.9" y1="1704.2" x2="765.9" y2="1595.4" stroke="#000" stroke-width="1.6" stroke-dasharray="4.6 3.3"/>
<line x1="609.8" y1="1557.4" x2="609.8" y2="1706.0" stroke="#000" stroke-width="1.8"/>
<line x1="599.3" y1="1705.0" x2="837.3" y2="1705.0" stroke="#000" stroke-width="1.8"/>
<line x1="599.3" y1="1705.0" x2="609.8" y2="1705.0" stroke="#000" stroke-width="1.8"/>
<text x="593.8" y="1712.3" font-size="20.5" text-anchor="end">0</text>
<line x1="599.3" y1="1631.7" x2="609.8" y2="1631.7" stroke="#000" stroke-width="1.8"/>
<text x="593.8" y="1639.0" font-size="20.5" text-anchor="end">50</text>
<line x1="599.3" y1="1558.4" x2="609.8" y2="1558.4" stroke="#000" stroke-width="1.8"/>
<text x="593.8" y="1565.7" font-size="20.5" text-anchor="end">100</text>
<line x1="609.8" y1="1705.0" x2="609.8" y2="1714.3" stroke="#000" stroke-width="1.8"/>
<text x="609.8" y="1739.9" font-size="20.5" text-anchor="middle">18</text>
<line x1="655.1" y1="1705.0" x2="655.1" y2="1714.3" stroke="#000" stroke-width="1.8"/>
<line x1="700.4" y1="1705.0" x2="700.4" y2="1714.3" stroke="#000" stroke-width="1.8"/>
<text x="700.4" y="1739.9" font-size="20.5" text-anchor="middle">20</text>
<line x1="745.7" y1="1705.0" x2="745.7" y2="1714.3" stroke="#000" stroke-width="1.8"/>
<line x1="791.0" y1="1705.0" x2="791.0" y2="1714.3" stroke="#000" stroke-width="1.8"/>
<text x="791.0" y="1739.9" font-size="20.5" text-anchor="middle">22</text>
<line x1="836.3" y1="1705.0" x2="836.3" y2="1714.3" stroke="#000" stroke-width="1.8"/>
<text x="719.4" y="1769.7" font-size="25.0" text-anchor="middle">Time [min]</text>
<text transform="translate(555.0 1632.3) rotate(-90)" font-size="25.0" text-anchor="middle">Rel. abundance</text>
<text x="736.2" y="1466.9" font-size="25.0" text-anchor="middle">daspid#3</text>
<text x="735.6" y="1495.2" font-size="25.0" text-anchor="middle"><tspan font-style="italic">m</tspan>/<tspan font-style="italic">z</tspan> 100.0757</text>
<text x="732.0" y="1522.4" font-size="25.0" text-anchor="middle">filter 302.2074</text>
<text x="775.5" y="1592.3" font-size="22.8"><tspan font-style="italic">E. coli</tspan> OP50</text>
<text x="752.3" y="1698.7" font-size="22.8"><tspan font-style="italic">C. elegans</tspan> WT</text>
<path d="M1009.4 1704.6 L1121.5 1704.6 L1123.5 1699.8 L1125.5 1682.1 L1127.4 1642.9 L1129.4 1594.0 L1130.6 1565.6 L1132.8 1557.7 L1133.8 1569.5 L1134.8 1594.0 L1135.1 1600.8 L1136.0 1589.1 L1136.7 1581.7 L1137.4 1594.0 L1138.7 1623.4 L1140.2 1652.7 L1142.1 1675.3 L1145.1 1689.0 L1148.0 1696.8 L1151.9 1700.7 L1158.8 1702.7 L1168.6 1703.9 L1183.3 1704.6 L1236.9 1704.6" stroke="#555" stroke-width="1.2" fill="none" stroke-linejoin="round"/>
<line x1="1058.0" y1="1598.0" x2="1286.6" y2="1598.0" stroke="#3A9A66" stroke-width="1.25"/>
<line x1="1133.8" y1="1704.2" x2="1183.3" y2="1595.4" stroke="#000" stroke-width="1.6" stroke-dasharray="4.6 3.3"/>
<line x1="1009.4" y1="1557.4" x2="1009.4" y2="1706.0" stroke="#000" stroke-width="1.8"/>
<line x1="998.9" y1="1705.0" x2="1236.9" y2="1705.0" stroke="#000" stroke-width="1.8"/>
<line x1="998.9" y1="1705.0" x2="1009.4" y2="1705.0" stroke="#000" stroke-width="1.8"/>
<text x="993.4" y="1712.3" font-size="20.5" text-anchor="end">0</text>
<line x1="998.9" y1="1631.7" x2="1009.4" y2="1631.7" stroke="#000" stroke-width="1.8"/>
<text x="993.4" y="1639.0" font-size="20.5" text-anchor="end">50</text>
<line x1="998.9" y1="1558.4" x2="1009.4" y2="1558.4" stroke="#000" stroke-width="1.8"/>
<text x="993.4" y="1565.7" font-size="20.5" text-anchor="end">100</text>
<line x1="1009.4" y1="1705.0" x2="1009.4" y2="1714.3" stroke="#000" stroke-width="1.8"/>
<text x="1009.4" y="1739.9" font-size="20.5" text-anchor="middle">18</text>
<line x1="1054.7" y1="1705.0" x2="1054.7" y2="1714.3" stroke="#000" stroke-width="1.8"/>
<line x1="1100.0" y1="1705.0" x2="1100.0" y2="1714.3" stroke="#000" stroke-width="1.8"/>
<text x="1100.0" y="1739.9" font-size="20.5" text-anchor="middle">20</text>
<line x1="1145.3" y1="1705.0" x2="1145.3" y2="1714.3" stroke="#000" stroke-width="1.8"/>
<line x1="1190.6" y1="1705.0" x2="1190.6" y2="1714.3" stroke="#000" stroke-width="1.8"/>
<text x="1190.6" y="1739.9" font-size="20.5" text-anchor="middle">22</text>
<line x1="1235.9" y1="1705.0" x2="1235.9" y2="1714.3" stroke="#000" stroke-width="1.8"/>
<text x="1119.2" y="1769.7" font-size="25.0" text-anchor="middle">Time [min]</text>
<text transform="translate(954.5 1632.3) rotate(-90)" font-size="25.0" text-anchor="middle">Rel. abundance</text>
<text x="1136.5" y="1466.9" font-size="25.0" text-anchor="middle">daspid#4</text>
<text x="1136.0" y="1495.2" font-size="25.0" text-anchor="middle"><tspan font-style="italic">m</tspan>/<tspan font-style="italic">z</tspan> 172.0968</text>
<text x="1132.5" y="1522.4" font-size="25.0" text-anchor="middle">filter 302.2074</text>
<text x="1174.3" y="1592.3" font-size="22.8"><tspan font-style="italic">E. coli</tspan> OP50</text>
<text x="1151.0" y="1698.7" font-size="22.8"><tspan font-style="italic">C. elegans</tspan> WT</text>
<path d="M1415.3 1704.6 L1513.5 1704.6 L1515.7 1557.7 L1519.4 1662.5 L1521.1 1693.9 L1521.8 1704.6 L1644.3 1704.6" stroke="#555" stroke-width="1.2" fill="none" stroke-linejoin="round"/>
<line x1="1465.0" y1="1598.0" x2="1693.6" y2="1598.0" stroke="#3A9A66" stroke-width="1.25"/>
<line x1="1517.9" y1="1704.2" x2="1566.9" y2="1595.4" stroke="#000" stroke-width="1.6" stroke-dasharray="4.6 3.3"/>
<line x1="1415.3" y1="1557.4" x2="1415.3" y2="1706.0" stroke="#000" stroke-width="1.8"/>
<line x1="1404.8" y1="1705.0" x2="1644.3" y2="1705.0" stroke="#000" stroke-width="1.8"/>
<line x1="1404.8" y1="1705.0" x2="1415.3" y2="1705.0" stroke="#000" stroke-width="1.8"/>
<text x="1399.3" y="1712.3" font-size="20.5" text-anchor="end">0</text>
<line x1="1404.8" y1="1631.7" x2="1415.3" y2="1631.7" stroke="#000" stroke-width="1.8"/>
<text x="1399.3" y="1639.0" font-size="20.5" text-anchor="end">50</text>
<line x1="1404.8" y1="1558.4" x2="1415.3" y2="1558.4" stroke="#000" stroke-width="1.8"/>
<text x="1399.3" y="1565.7" font-size="20.5" text-anchor="end">100</text>
<line x1="1415.3" y1="1705.0" x2="1415.3" y2="1714.3" stroke="#000" stroke-width="1.8"/>
<line x1="1460.9" y1="1705.0" x2="1460.9" y2="1714.3" stroke="#000" stroke-width="1.8"/>
<text x="1460.9" y="1739.9" font-size="20.5" text-anchor="middle">22</text>
<line x1="1506.5" y1="1705.0" x2="1506.5" y2="1714.3" stroke="#000" stroke-width="1.8"/>
<line x1="1552.1" y1="1705.0" x2="1552.1" y2="1714.3" stroke="#000" stroke-width="1.8"/>
<text x="1552.1" y="1739.9" font-size="20.5" text-anchor="middle">24</text>
<line x1="1597.7" y1="1705.0" x2="1597.7" y2="1714.3" stroke="#000" stroke-width="1.8"/>
<line x1="1643.3" y1="1705.0" x2="1643.3" y2="1714.3" stroke="#000" stroke-width="1.8"/>
<text x="1643.3" y="1739.9" font-size="20.5" text-anchor="middle">26</text>
<text x="1525.4" y="1769.7" font-size="25.0" text-anchor="middle">Time [min]</text>
<text transform="translate(1360.0 1632.3) rotate(-90)" font-size="25.0" text-anchor="middle">Rel. abundance</text>
<text x="1540.8" y="1466.9" font-size="25.0" text-anchor="middle">maspid#3</text>
<text x="1541.2" y="1495.2" font-size="25.0" text-anchor="middle"><tspan font-style="italic">m</tspan>/<tspan font-style="italic">z</tspan>  186.1125</text>
<text x="1540.6" y="1522.4" font-size="25.0" text-anchor="middle">filter 243.1703</text>
<text x="1578.2" y="1592.3" font-size="22.8"><tspan font-style="italic">E. coli</tspan> OP50</text>
<text x="1554.2" y="1698.7" font-size="22.8"><tspan font-style="italic">C. elegans</tspan> WT</text>
<path d="M1821.7 1704.6 L1881.8 1704.3 L1883.7 1702.9 L1885.7 1704.3 L1910.6 1704.3 L1912.6 1701.7 L1915.1 1699.0 L1917.5 1701.2 L1919.5 1704.3 L1937.6 1704.2 L1940.5 1702.7 L1943.0 1695.8 L1944.4 1677.2 L1945.9 1642.9 L1947.4 1594.0 L1948.8 1574.4 L1950.3 1557.2 L1951.3 1576.3 L1952.3 1608.7 L1953.3 1642.9 L1954.4 1672.3 L1956.2 1691.9 L1958.1 1700.7 L1961.1 1703.2 L1967.9 1704.3 L2051.4 1704.6" stroke="#555" stroke-width="1.2" fill="none" stroke-linejoin="round"/>
<line x1="1871.7" y1="1598.0" x2="2100.0" y2="1598.0" stroke="#3A9A66" stroke-width="1.25"/>
<line x1="1949.5" y1="1704.1" x2="1998.3" y2="1595.4" stroke="#000" stroke-width="1.6" stroke-dasharray="4.6 3.3"/>
<line x1="1821.7" y1="1557.4" x2="1821.7" y2="1706.0" stroke="#000" stroke-width="1.8"/>
<line x1="1811.2" y1="1705.0" x2="2051.4" y2="1705.0" stroke="#000" stroke-width="1.8"/>
<line x1="1811.2" y1="1705.0" x2="1821.7" y2="1705.0" stroke="#000" stroke-width="1.8"/>
<text x="1805.7" y="1712.3" font-size="20.5" text-anchor="end">0</text>
<line x1="1811.2" y1="1631.7" x2="1821.7" y2="1631.7" stroke="#000" stroke-width="1.8"/>
<text x="1805.7" y="1639.0" font-size="20.5" text-anchor="end">50</text>
<line x1="1811.2" y1="1558.4" x2="1821.7" y2="1558.4" stroke="#000" stroke-width="1.8"/>
<text x="1805.7" y="1565.7" font-size="20.5" text-anchor="end">100</text>
<line x1="1821.7" y1="1705.0" x2="1821.7" y2="1714.3" stroke="#000" stroke-width="1.8"/>
<line x1="1867.5" y1="1705.0" x2="1867.5" y2="1714.3" stroke="#000" stroke-width="1.8"/>
<text x="1867.5" y="1739.9" font-size="20.5" text-anchor="middle">22</text>
<line x1="1913.2" y1="1705.0" x2="1913.2" y2="1714.3" stroke="#000" stroke-width="1.8"/>
<line x1="1959.0" y1="1705.0" x2="1959.0" y2="1714.3" stroke="#000" stroke-width="1.8"/>
<text x="1959.0" y="1739.9" font-size="20.5" text-anchor="middle">24</text>
<line x1="2004.7" y1="1705.0" x2="2004.7" y2="1714.3" stroke="#000" stroke-width="1.8"/>
<line x1="2050.4" y1="1705.0" x2="2050.4" y2="1714.3" stroke="#000" stroke-width="1.8"/>
<text x="2050.4" y="1739.9" font-size="20.5" text-anchor="middle">26</text>
<text x="1931.6" y="1769.7" font-size="25.0" text-anchor="middle">Time [min]</text>
<text transform="translate(1766.0 1632.3) rotate(-90)" font-size="25.0" text-anchor="middle">Rel. abundance</text>
<text x="1940.8" y="1466.9" font-size="25.0" text-anchor="middle">maspid #4</text>
<text x="1940.8" y="1495.2" font-size="25.0" text-anchor="middle"><tspan font-style="italic">m</tspan>/<tspan font-style="italic">z</tspan>  172.0968</text>
<text x="1940.4" y="1522.4" font-size="25.0" text-anchor="middle">filter 243.1703</text>
<text x="1986.6" y="1592.3" font-size="22.8"><tspan font-style="italic">E. coli</tspan> OP50</text>
<text x="1962.6" y="1698.7" font-size="22.8"><tspan font-style="italic">C. elegans</tspan> WT</text>
</svg>
</body></html>
